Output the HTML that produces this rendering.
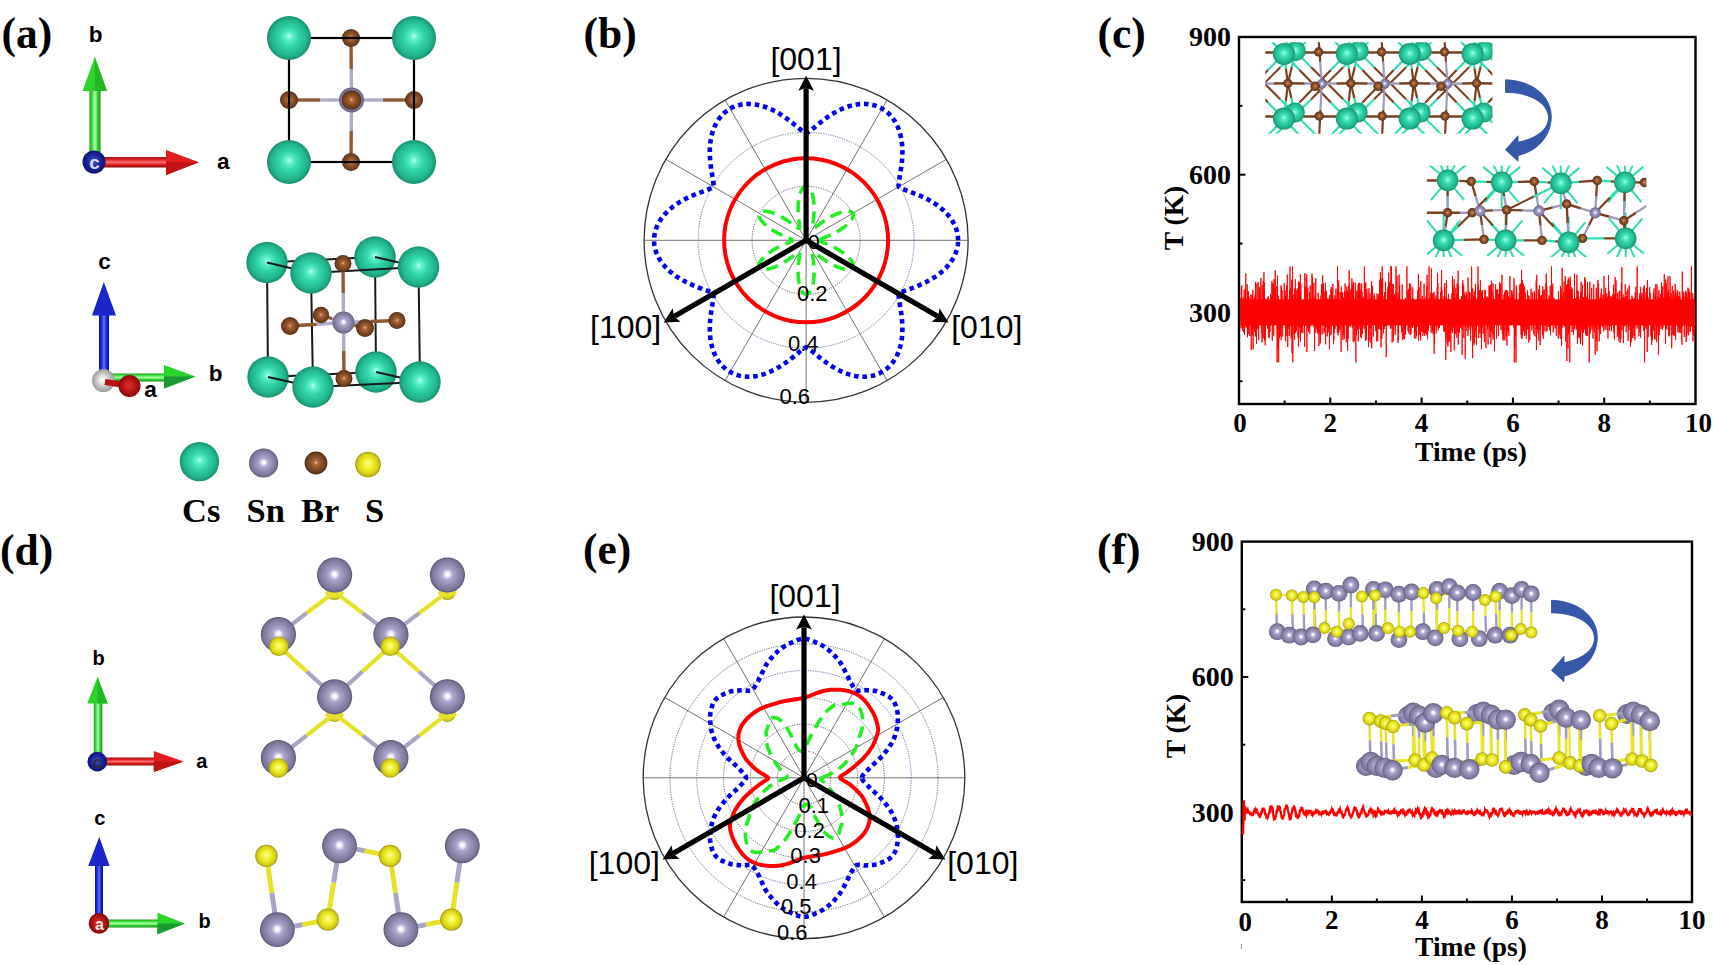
<!DOCTYPE html>
<html><head><meta charset="utf-8"><style>
html,body{margin:0;padding:0;background:#fff;width:1713px;height:965px;overflow:hidden}
svg{display:block}
</style></head><body>
<svg width="1713" height="965" viewBox="0 0 1713 965">
<defs><radialGradient id="gCs" cx="0.5" cy="0.5" r="0.5" fx="0.5" fy="0.46"><stop offset="0" stop-color="#c0fff2"/><stop offset="0.15" stop-color="#62f2cf"/><stop offset="0.45" stop-color="#2fd5a8"/><stop offset="0.8" stop-color="#22b68e"/><stop offset="1" stop-color="#179070"/></radialGradient>
<radialGradient id="gSn" cx="0.5" cy="0.5" r="0.5" fx="0.5" fy="0.48"><stop offset="0" stop-color="#ffffff"/><stop offset="0.12" stop-color="#f4f2ff"/><stop offset="0.3" stop-color="#aea8d0"/><stop offset="0.6" stop-color="#928cb4"/><stop offset="0.88" stop-color="#7a7498"/><stop offset="1" stop-color="#5a5474"/></radialGradient>
<radialGradient id="gBr" cx="0.5" cy="0.5" r="0.5" fx="0.5" fy="0.48"><stop offset="0" stop-color="#ffcaa8"/><stop offset="0.15" stop-color="#b8703c"/><stop offset="0.5" stop-color="#8c5028"/><stop offset="0.85" stop-color="#6e3c1c"/><stop offset="1" stop-color="#4a2810"/></radialGradient>
<radialGradient id="gS" cx="0.5" cy="0.5" r="0.5" fx="0.5" fy="0.46"><stop offset="0" stop-color="#ffffd8"/><stop offset="0.18" stop-color="#fafa58"/><stop offset="0.55" stop-color="#eae622"/><stop offset="0.85" stop-color="#cec616"/><stop offset="1" stop-color="#9a9208"/></radialGradient>
<radialGradient id="gBlueBall" cx="0.5" cy="0.5" r="0.5" fx="0.45" fy="0.45"><stop offset="0" stop-color="#4050d0"/><stop offset="0.6" stop-color="#1a2499"/><stop offset="1" stop-color="#0c1470"/></radialGradient>
<radialGradient id="gRedBall" cx="0.5" cy="0.5" r="0.5" fx="0.45" fy="0.45"><stop offset="0" stop-color="#e03030"/><stop offset="0.6" stop-color="#b81414"/><stop offset="1" stop-color="#800808"/></radialGradient>
<radialGradient id="gGrayBall" cx="0.5" cy="0.5" r="0.5" fx="0.45" fy="0.45"><stop offset="0" stop-color="#ffffff"/><stop offset="0.4" stop-color="#dcdcdc"/><stop offset="1" stop-color="#9a9a9a"/></radialGradient>
<linearGradient id="shGv" x1="0" y1="0" x2="1" y2="0"><stop offset="0" stop-color="#18a018"/><stop offset="0.25" stop-color="#40e040"/><stop offset="0.5" stop-color="#a8ffa8"/><stop offset="0.75" stop-color="#30d030"/><stop offset="1" stop-color="#129012"/></linearGradient>
<linearGradient id="shGh" x1="0" y1="0" x2="0" y2="1"><stop offset="0" stop-color="#18a018"/><stop offset="0.25" stop-color="#40e040"/><stop offset="0.5" stop-color="#a8ffa8"/><stop offset="0.75" stop-color="#30d030"/><stop offset="1" stop-color="#129012"/></linearGradient>
<linearGradient id="shRh" x1="0" y1="0" x2="0" y2="1"><stop offset="0" stop-color="#a01010"/><stop offset="0.25" stop-color="#e02020"/><stop offset="0.5" stop-color="#ff7070"/><stop offset="0.75" stop-color="#d81818"/><stop offset="1" stop-color="#900c0c"/></linearGradient>
<linearGradient id="shBv" x1="0" y1="0" x2="1" y2="0"><stop offset="0" stop-color="#0c1490"/><stop offset="0.25" stop-color="#1c2cd8"/><stop offset="0.5" stop-color="#6070ff"/><stop offset="0.75" stop-color="#1a28d0"/><stop offset="1" stop-color="#0a1288"/></linearGradient>
<clipPath id="ci1"><rect x="1265.3" y="42.2" width="227.1" height="91.5"/></clipPath>
<clipPath id="ci2"><rect x="1426.9" y="165.6" width="219.5" height="91.4"/></clipPath></defs>
<rect width="1713" height="965" fill="#fff"/>
<text x="1.5" y="47.5" font-family="'Liberation Serif', serif" font-size="43.5" font-weight="bold" text-anchor="start" fill="#000" >(a)</text>
<text x="583.5" y="47.5" font-family="'Liberation Serif', serif" font-size="43.5" font-weight="bold" text-anchor="start" fill="#000" >(b)</text>
<text x="1097.5" y="47.5" font-family="'Liberation Serif', serif" font-size="43.5" font-weight="bold" text-anchor="start" fill="#000" >(c)</text>
<text x="0" y="564.5" font-family="'Liberation Serif', serif" font-size="43.5" font-weight="bold" text-anchor="start" fill="#000" >(d)</text>
<text x="583" y="564" font-family="'Liberation Serif', serif" font-size="43.5" font-weight="bold" text-anchor="start" fill="#000" >(e)</text>
<text x="1097" y="563.5" font-family="'Liberation Serif', serif" font-size="43.5" font-weight="bold" text-anchor="start" fill="#000" >(f)</text>
<rect x="89.5" y="90" width="11" height="66" fill="url(#shGv)"/>
<polygon points="94.8,57 82.5,91 107,91" fill="#2ad42a" />
<polygon points="94.8,57 94.8,91 107,91" fill="#1fb81f" />
<rect x="104" y="157" width="63" height="10.5" fill="url(#shRh)"/>
<polygon points="199,162.3 166,150 166,175" fill="#e01c1c" />
<polygon points="199,162.3 166,162.3 166,175" fill="#c01212" />
<circle cx="94" cy="162" r="11.5" fill="url(#gBlueBall)"/>
<text x="94.5" y="169" font-family="'Liberation Sans', sans-serif" font-size="19" font-weight="bold" text-anchor="middle" fill="#d8d8e8" >c</text>
<text x="95.5" y="41.5" font-family="'Liberation Sans', sans-serif" font-size="22.5" font-weight="bold" text-anchor="middle" fill="#000" >b</text>
<text x="223.2" y="169.3" font-family="'Liberation Sans', sans-serif" font-size="22.5" font-weight="bold" text-anchor="middle" fill="#000" >a</text>
<rect x="99" y="312" width="10" height="60" fill="url(#shBv)"/>
<polygon points="103.8,282 92,315.5 116,315.5" fill="#1a26cc" />
<rect x="112" y="373.5" width="54" height="8" fill="url(#shGh)"/>
<polygon points="195.5,376.5 164,365 164,388.5" fill="#2ad42a" />
<polygon points="195.5,376.5 164,376.5 164,388.5" fill="#1a9a30" />
<circle cx="103.5" cy="380.6" r="11.5" fill="url(#gGrayBall)"/>
<line x1="105" y1="382" x2="125" y2="385" stroke="#b81010" stroke-width="6" />
<circle cx="129.5" cy="386" r="11" fill="url(#gRedBall)"/>
<text x="104.5" y="269.3" font-family="'Liberation Sans', sans-serif" font-size="22.5" font-weight="bold" text-anchor="middle" fill="#000" >c</text>
<text x="215.5" y="381" font-family="'Liberation Sans', sans-serif" font-size="22.5" font-weight="bold" text-anchor="middle" fill="#000" >b</text>
<text x="150.5" y="397.3" font-family="'Liberation Sans', sans-serif" font-size="22.5" font-weight="bold" text-anchor="middle" fill="#000" >a</text>
<line x1="351" y1="38" x2="351.25" y2="69" stroke="#8e5a34" stroke-width="3.4"/>
<line x1="351.25" y1="69" x2="351.5" y2="100" stroke="#b0acc8" stroke-width="3.4"/>
<line x1="351" y1="162" x2="351.25" y2="131" stroke="#8e5a34" stroke-width="3.4"/>
<line x1="351.25" y1="131" x2="351.5" y2="100" stroke="#b0acc8" stroke-width="3.4"/>
<line x1="289" y1="100" x2="320.25" y2="100" stroke="#8e5a34" stroke-width="3.4"/>
<line x1="320.25" y1="100" x2="351.5" y2="100" stroke="#b0acc8" stroke-width="3.4"/>
<line x1="414" y1="100" x2="382.75" y2="100" stroke="#8e5a34" stroke-width="3.4"/>
<line x1="382.75" y1="100" x2="351.5" y2="100" stroke="#b0acc8" stroke-width="3.4"/>
<circle cx="351" cy="38" r="9" fill="url(#gBr)"/>
<circle cx="351" cy="162" r="9" fill="url(#gBr)"/>
<circle cx="289" cy="100" r="9" fill="url(#gBr)"/>
<circle cx="414" cy="100" r="9" fill="url(#gBr)"/>
<circle cx="351.5" cy="100" r="12.5" fill="url(#gSn)"/>
<circle cx="351.5" cy="100" r="9.8" fill="url(#gBr)"/>
<rect x="289" y="38" width="125" height="124" fill="none" stroke="#000" stroke-width="2.2"/>
<circle cx="289" cy="38" r="22" fill="url(#gCs)"/>
<circle cx="414" cy="38" r="22" fill="url(#gCs)"/>
<circle cx="289" cy="162" r="22" fill="url(#gCs)"/>
<circle cx="414" cy="162" r="22" fill="url(#gCs)"/>
<line x1="267" y1="262.5" x2="268" y2="377" stroke="#1a1a1a" stroke-width="2" />
<line x1="375" y1="257" x2="376" y2="372" stroke="#1a1a1a" stroke-width="2" />
<line x1="267" y1="262.5" x2="375" y2="257" stroke="#1a1a1a" stroke-width="2" />
<line x1="268" y1="377" x2="376" y2="372" stroke="#1a1a1a" stroke-width="2" />
<circle cx="267" cy="262.5" r="20.7" fill="url(#gCs)"/>
<circle cx="375" cy="257" r="20.7" fill="url(#gCs)"/>
<circle cx="268" cy="377" r="20.7" fill="url(#gCs)"/>
<circle cx="376" cy="372" r="20.7" fill="url(#gCs)"/>
<line x1="311" y1="273" x2="313" y2="387" stroke="#1a1a1a" stroke-width="2" />
<line x1="418.5" y1="267" x2="420" y2="382" stroke="#1a1a1a" stroke-width="2" />
<line x1="311" y1="273" x2="418.5" y2="267" stroke="#1a1a1a" stroke-width="2" />
<line x1="313" y1="387" x2="420" y2="382" stroke="#1a1a1a" stroke-width="2" />
<line x1="267" y1="262.5" x2="311" y2="273" stroke="#1a1a1a" stroke-width="2" />
<line x1="375" y1="257" x2="418.5" y2="267" stroke="#1a1a1a" stroke-width="2" />
<line x1="268" y1="377" x2="313" y2="387" stroke="#1a1a1a" stroke-width="2" />
<line x1="376" y1="372" x2="420" y2="382" stroke="#1a1a1a" stroke-width="2" />
<line x1="343" y1="263.5" x2="343.25" y2="293" stroke="#8e5a34" stroke-width="3.4"/>
<line x1="343.25" y1="293" x2="343.5" y2="322.5" stroke="#b0acc8" stroke-width="3.4"/>
<line x1="344" y1="378.5" x2="343.75" y2="350.5" stroke="#8e5a34" stroke-width="3.4"/>
<line x1="343.75" y1="350.5" x2="343.5" y2="322.5" stroke="#b0acc8" stroke-width="3.4"/>
<line x1="290" y1="326" x2="316.75" y2="324.25" stroke="#8e5a34" stroke-width="3.4"/>
<line x1="316.75" y1="324.25" x2="343.5" y2="322.5" stroke="#b0acc8" stroke-width="3.4"/>
<line x1="397" y1="320.5" x2="370.25" y2="321.5" stroke="#8e5a34" stroke-width="3.4"/>
<line x1="370.25" y1="321.5" x2="343.5" y2="322.5" stroke="#b0acc8" stroke-width="3.4"/>
<line x1="321" y1="315" x2="332.25" y2="318.75" stroke="#8e5a34" stroke-width="3.4"/>
<line x1="332.25" y1="318.75" x2="343.5" y2="322.5" stroke="#b0acc8" stroke-width="3.4"/>
<line x1="365" y1="328" x2="354.25" y2="325.25" stroke="#8e5a34" stroke-width="3.4"/>
<line x1="354.25" y1="325.25" x2="343.5" y2="322.5" stroke="#b0acc8" stroke-width="3.4"/>
<circle cx="343" cy="263.5" r="8.5" fill="url(#gBr)"/>
<circle cx="344" cy="378.5" r="8.5" fill="url(#gBr)"/>
<circle cx="321" cy="315" r="8.2" fill="url(#gBr)"/>
<circle cx="397" cy="320.5" r="8.5" fill="url(#gBr)"/>
<circle cx="343.5" cy="322.5" r="11" fill="url(#gSn)"/>
<circle cx="290" cy="326" r="9" fill="url(#gBr)"/>
<circle cx="365" cy="328" r="9" fill="url(#gBr)"/>
<circle cx="311" cy="273" r="20.7" fill="url(#gCs)"/>
<circle cx="418.5" cy="267" r="20.7" fill="url(#gCs)"/>
<circle cx="313" cy="387" r="20.7" fill="url(#gCs)"/>
<circle cx="420" cy="382" r="20.7" fill="url(#gCs)"/>
<circle cx="199.4" cy="461.6" r="19.7" fill="url(#gCs)"/>
<circle cx="263.6" cy="463" r="14.6" fill="url(#gSn)"/>
<circle cx="316" cy="463" r="11.4" fill="url(#gBr)"/>
<circle cx="368" cy="464.5" r="12.8" fill="url(#gS)"/>
<text x="182" y="521.5" font-family="'Liberation Serif', serif" font-size="34.5" font-weight="bold" text-anchor="start" fill="#000" >Cs</text>
<text x="246.5" y="521.5" font-family="'Liberation Serif', serif" font-size="34.5" font-weight="bold" text-anchor="start" fill="#000" >Sn</text>
<text x="301" y="521.5" font-family="'Liberation Serif', serif" font-size="34.5" font-weight="bold" text-anchor="start" fill="#000" >Br</text>
<text x="365" y="521.5" font-family="'Liberation Serif', serif" font-size="34.5" font-weight="bold" text-anchor="start" fill="#000" >S</text>
<line x1="806.1" y1="240.3" x2="968.1" y2="240.3" stroke="#5a5a5a" stroke-width="0.85" />
<line x1="806.1" y1="240.3" x2="946.4" y2="159.3" stroke="#5a5a5a" stroke-width="0.85" />
<line x1="806.1" y1="240.3" x2="887.1" y2="100" stroke="#5a5a5a" stroke-width="0.85" />
<line x1="806.1" y1="240.3" x2="806.1" y2="78.3" stroke="#5a5a5a" stroke-width="0.85" />
<line x1="806.1" y1="240.3" x2="725.1" y2="100" stroke="#5a5a5a" stroke-width="0.85" />
<line x1="806.1" y1="240.3" x2="665.8" y2="159.3" stroke="#5a5a5a" stroke-width="0.85" />
<line x1="806.1" y1="240.3" x2="644.1" y2="240.3" stroke="#5a5a5a" stroke-width="0.85" />
<line x1="806.1" y1="240.3" x2="665.8" y2="321.3" stroke="#5a5a5a" stroke-width="0.85" />
<line x1="806.1" y1="240.3" x2="725.1" y2="380.6" stroke="#5a5a5a" stroke-width="0.85" />
<line x1="806.1" y1="240.3" x2="806.1" y2="402.3" stroke="#5a5a5a" stroke-width="0.85" />
<line x1="806.1" y1="240.3" x2="887.1" y2="380.6" stroke="#5a5a5a" stroke-width="0.85" />
<line x1="806.1" y1="240.3" x2="946.4" y2="321.3" stroke="#5a5a5a" stroke-width="0.85" />
<circle cx="806.1" cy="240.3" r="54" fill="none" stroke="#555" stroke-width="0.9" stroke-dasharray="1.2 1.2"/>
<circle cx="806.1" cy="240.3" r="108" fill="none" stroke="#5a5aa8" stroke-width="0.9" stroke-dasharray="1.2 1.2"/>
<circle cx="806.1" cy="240.3" r="162" fill="none" stroke="#333" stroke-width="1.3"/>
<path d="M958.1,240.3 L958.07,238.97 L958,237.65 L957.87,236.33 L957.69,235.01 L957.46,233.69 L957.17,232.38 L956.84,231.08 L956.46,229.79 L956.03,228.5 L955.55,227.23 L955.02,225.96 L954.44,224.71 L953.82,223.47 L953.15,222.24 L952.44,221.03 L951.68,219.84 L950.88,218.66 L950.04,217.5 L949.15,216.36 L948.23,215.24 L947.27,214.14 L946.28,213.05 L945.24,211.99 L944.18,210.95 L943.08,209.93 L941.95,208.94 L940.79,207.96 L939.6,207.01 L938.39,206.09 L937.15,205.18 L935.89,204.3 L934.61,203.45 L933.31,202.62 L931.99,201.81 L930.66,201.03 L929.31,200.27 L927.95,199.53 L926.58,198.81 L925.2,198.12 L923.82,197.45 L922.43,196.8 L921.04,196.18 L919.65,195.57 L918.27,194.98 L916.88,194.41 L915.51,193.86 L914.14,193.32 L912.78,192.8 L911.44,192.29 L910.11,191.8 L908.8,191.31 L907.52,190.83 L906.26,190.36 L905.03,189.89 L903.84,189.42 L902.68,188.94 L901.58,188.46 L900.53,187.95 L899.57,187.42 L898.76,186.8 L898.63,185.79 L898.65,184.69 L898.74,183.53 L898.87,182.33 L899.03,181.1 L899.22,179.83 L899.43,178.53 L899.65,177.2 L899.88,175.85 L900.11,174.47 L900.34,173.08 L900.57,171.66 L900.8,170.22 L901.02,168.77 L901.23,167.3 L901.43,165.82 L901.61,164.33 L901.78,162.82 L901.93,161.3 L902.07,159.77 L902.18,158.24 L902.27,156.7 L902.33,155.16 L902.38,153.61 L902.39,152.06 L902.38,150.52 L902.34,148.97 L902.27,147.43 L902.17,145.89 L902.04,144.36 L901.88,142.84 L901.68,141.32 L901.45,139.82 L901.19,138.33 L900.89,136.86 L900.56,135.4 L900.19,133.95 L899.79,132.53 L899.35,131.12 L898.87,129.74 L898.36,128.38 L897.81,127.05 L897.23,125.74 L896.61,124.46 L895.95,123.2 L895.26,121.98 L894.53,120.79 L893.77,119.63 L892.98,118.5 L892.15,117.41 L891.28,116.36 L890.38,115.34 L889.46,114.36 L888.49,113.42 L887.5,112.53 L886.48,111.67 L885.43,110.85 L884.34,110.08 L883.24,109.35 L882.1,108.66 L880.94,108.02 L879.75,107.43 L878.54,106.88 L877.31,106.37 L876.05,105.92 L874.78,105.51 L873.49,105.14 L872.17,104.83 L870.84,104.56 L869.5,104.34 L868.14,104.16 L866.77,104.04 L865.38,103.96 L863.99,103.92 L862.58,103.94 L861.17,104 L859.75,104.1 L858.33,104.25 L856.9,104.44 L855.46,104.68 L854.03,104.96 L852.59,105.28 L851.16,105.64 L849.72,106.05 L848.29,106.49 L846.86,106.97 L845.44,107.49 L844.03,108.04 L842.62,108.63 L841.22,109.25 L839.82,109.9 L838.44,110.58 L837.07,111.29 L835.71,112.03 L834.37,112.79 L833.04,113.58 L831.72,114.39 L830.41,115.22 L829.13,116.06 L827.85,116.93 L826.6,117.81 L825.36,118.7 L824.14,119.6 L822.94,120.5 L821.75,121.42 L820.58,122.33 L819.44,123.25 L818.31,124.16 L817.2,125.07 L816.1,125.97 L815.03,126.86 L813.97,127.73 L812.93,128.59 L811.91,129.42 L810.91,130.22 L809.92,130.98 L808.94,131.69 L807.98,132.34 L807.04,132.91 L806.1,133.3 L805.16,132.91 L804.22,132.34 L803.26,131.69 L802.28,130.98 L801.29,130.22 L800.29,129.42 L799.27,128.59 L798.23,127.73 L797.17,126.86 L796.1,125.97 L795,125.07 L793.89,124.16 L792.76,123.25 L791.62,122.33 L790.45,121.42 L789.26,120.5 L788.06,119.6 L786.84,118.7 L785.6,117.81 L784.35,116.93 L783.07,116.06 L781.79,115.22 L780.48,114.39 L779.16,113.58 L777.83,112.79 L776.49,112.03 L775.13,111.29 L773.76,110.58 L772.38,109.9 L770.98,109.25 L769.58,108.63 L768.17,108.04 L766.76,107.49 L765.34,106.97 L763.91,106.49 L762.48,106.05 L761.04,105.64 L759.61,105.28 L758.17,104.96 L756.74,104.68 L755.3,104.44 L753.87,104.25 L752.45,104.1 L751.03,104 L749.62,103.94 L748.21,103.92 L746.82,103.96 L745.43,104.04 L744.06,104.16 L742.7,104.34 L741.36,104.56 L740.03,104.83 L738.71,105.14 L737.42,105.51 L736.15,105.92 L734.89,106.37 L733.66,106.88 L732.45,107.43 L731.26,108.02 L730.1,108.66 L728.96,109.35 L727.86,110.08 L726.77,110.85 L725.72,111.67 L724.7,112.53 L723.71,113.42 L722.74,114.36 L721.82,115.34 L720.92,116.36 L720.05,117.41 L719.22,118.5 L718.43,119.63 L717.67,120.79 L716.94,121.98 L716.25,123.2 L715.59,124.46 L714.97,125.74 L714.39,127.05 L713.84,128.38 L713.33,129.74 L712.85,131.12 L712.41,132.53 L712.01,133.95 L711.64,135.4 L711.31,136.86 L711.01,138.33 L710.75,139.82 L710.52,141.32 L710.32,142.84 L710.16,144.36 L710.03,145.89 L709.93,147.43 L709.86,148.97 L709.82,150.52 L709.81,152.06 L709.82,153.61 L709.87,155.16 L709.93,156.7 L710.02,158.24 L710.13,159.77 L710.27,161.3 L710.42,162.82 L710.59,164.33 L710.77,165.82 L710.97,167.3 L711.18,168.77 L711.4,170.22 L711.63,171.66 L711.86,173.08 L712.09,174.47 L712.32,175.85 L712.55,177.2 L712.77,178.53 L712.98,179.83 L713.17,181.1 L713.33,182.33 L713.46,183.53 L713.55,184.69 L713.57,185.79 L713.44,186.8 L712.63,187.42 L711.67,187.95 L710.62,188.46 L709.52,188.94 L708.36,189.42 L707.17,189.89 L705.94,190.36 L704.68,190.83 L703.4,191.31 L702.09,191.8 L700.76,192.29 L699.42,192.8 L698.06,193.32 L696.69,193.86 L695.32,194.41 L693.93,194.98 L692.55,195.57 L691.16,196.18 L689.77,196.8 L688.38,197.45 L687,198.12 L685.62,198.81 L684.25,199.53 L682.89,200.27 L681.54,201.03 L680.21,201.81 L678.89,202.62 L677.59,203.45 L676.31,204.3 L675.05,205.18 L673.81,206.09 L672.6,207.01 L671.41,207.96 L670.25,208.94 L669.12,209.93 L668.02,210.95 L666.96,211.99 L665.92,213.05 L664.93,214.14 L663.97,215.24 L663.05,216.36 L662.16,217.5 L661.32,218.66 L660.52,219.84 L659.76,221.03 L659.05,222.24 L658.38,223.47 L657.76,224.71 L657.18,225.96 L656.65,227.23 L656.17,228.5 L655.74,229.79 L655.36,231.08 L655.03,232.38 L654.74,233.69 L654.51,235.01 L654.33,236.33 L654.2,237.65 L654.13,238.97 L654.1,240.3 L654.13,241.63 L654.2,242.95 L654.33,244.27 L654.51,245.59 L654.74,246.91 L655.03,248.22 L655.36,249.52 L655.74,250.81 L656.17,252.1 L656.65,253.37 L657.18,254.64 L657.76,255.89 L658.38,257.13 L659.05,258.36 L659.76,259.57 L660.52,260.76 L661.32,261.94 L662.16,263.1 L663.05,264.24 L663.97,265.36 L664.93,266.46 L665.92,267.55 L666.96,268.61 L668.02,269.65 L669.12,270.67 L670.25,271.66 L671.41,272.64 L672.6,273.59 L673.81,274.51 L675.05,275.42 L676.31,276.3 L677.59,277.15 L678.89,277.98 L680.21,278.79 L681.54,279.57 L682.89,280.33 L684.25,281.07 L685.62,281.79 L687,282.48 L688.38,283.15 L689.77,283.8 L691.16,284.42 L692.55,285.03 L693.93,285.62 L695.32,286.19 L696.69,286.74 L698.06,287.28 L699.42,287.8 L700.76,288.31 L702.09,288.8 L703.4,289.29 L704.68,289.77 L705.94,290.24 L707.17,290.71 L708.36,291.18 L709.52,291.66 L710.62,292.14 L711.67,292.65 L712.63,293.18 L713.44,293.8 L713.57,294.81 L713.55,295.91 L713.46,297.07 L713.33,298.27 L713.17,299.5 L712.98,300.77 L712.77,302.07 L712.55,303.4 L712.32,304.75 L712.09,306.13 L711.86,307.52 L711.63,308.94 L711.4,310.38 L711.18,311.83 L710.97,313.3 L710.77,314.78 L710.59,316.27 L710.42,317.78 L710.27,319.3 L710.13,320.83 L710.02,322.36 L709.93,323.9 L709.87,325.44 L709.82,326.99 L709.81,328.54 L709.82,330.08 L709.86,331.63 L709.93,333.17 L710.03,334.71 L710.16,336.24 L710.32,337.76 L710.52,339.28 L710.75,340.78 L711.01,342.27 L711.31,343.74 L711.64,345.2 L712.01,346.65 L712.41,348.07 L712.85,349.48 L713.33,350.86 L713.84,352.22 L714.39,353.55 L714.97,354.86 L715.59,356.14 L716.25,357.4 L716.94,358.62 L717.67,359.81 L718.43,360.97 L719.22,362.1 L720.05,363.19 L720.92,364.24 L721.82,365.26 L722.74,366.24 L723.71,367.18 L724.7,368.07 L725.72,368.93 L726.77,369.75 L727.86,370.52 L728.96,371.25 L730.1,371.94 L731.26,372.58 L732.45,373.17 L733.66,373.72 L734.89,374.23 L736.15,374.68 L737.42,375.09 L738.71,375.46 L740.03,375.77 L741.36,376.04 L742.7,376.26 L744.06,376.44 L745.43,376.56 L746.82,376.64 L748.21,376.68 L749.62,376.66 L751.03,376.6 L752.45,376.5 L753.87,376.35 L755.3,376.16 L756.74,375.92 L758.17,375.64 L759.61,375.32 L761.04,374.96 L762.48,374.55 L763.91,374.11 L765.34,373.63 L766.76,373.11 L768.17,372.56 L769.58,371.97 L770.98,371.35 L772.38,370.7 L773.76,370.02 L775.13,369.31 L776.49,368.57 L777.83,367.81 L779.16,367.02 L780.48,366.21 L781.79,365.38 L783.07,364.54 L784.35,363.67 L785.6,362.79 L786.84,361.9 L788.06,361 L789.26,360.1 L790.45,359.18 L791.62,358.27 L792.76,357.35 L793.89,356.44 L795,355.53 L796.1,354.63 L797.17,353.74 L798.23,352.87 L799.27,352.01 L800.29,351.18 L801.29,350.38 L802.28,349.62 L803.26,348.91 L804.22,348.26 L805.16,347.69 L806.1,347.3 L807.04,347.69 L807.98,348.26 L808.94,348.91 L809.92,349.62 L810.91,350.38 L811.91,351.18 L812.93,352.01 L813.97,352.87 L815.03,353.74 L816.1,354.63 L817.2,355.53 L818.31,356.44 L819.44,357.35 L820.58,358.27 L821.75,359.18 L822.94,360.1 L824.14,361 L825.36,361.9 L826.6,362.79 L827.85,363.67 L829.13,364.54 L830.41,365.38 L831.72,366.21 L833.04,367.02 L834.37,367.81 L835.71,368.57 L837.07,369.31 L838.44,370.02 L839.82,370.7 L841.22,371.35 L842.62,371.97 L844.03,372.56 L845.44,373.11 L846.86,373.63 L848.29,374.11 L849.72,374.55 L851.16,374.96 L852.59,375.32 L854.03,375.64 L855.46,375.92 L856.9,376.16 L858.33,376.35 L859.75,376.5 L861.17,376.6 L862.58,376.66 L863.99,376.68 L865.38,376.64 L866.77,376.56 L868.14,376.44 L869.5,376.26 L870.84,376.04 L872.17,375.77 L873.49,375.46 L874.78,375.09 L876.05,374.68 L877.31,374.23 L878.54,373.72 L879.75,373.17 L880.94,372.58 L882.1,371.94 L883.24,371.25 L884.34,370.52 L885.43,369.75 L886.48,368.93 L887.5,368.07 L888.49,367.18 L889.46,366.24 L890.38,365.26 L891.28,364.24 L892.15,363.19 L892.98,362.1 L893.77,360.97 L894.53,359.81 L895.26,358.62 L895.95,357.4 L896.61,356.14 L897.23,354.86 L897.81,353.55 L898.36,352.22 L898.87,350.86 L899.35,349.48 L899.79,348.07 L900.19,346.65 L900.56,345.2 L900.89,343.74 L901.19,342.27 L901.45,340.78 L901.68,339.28 L901.88,337.76 L902.04,336.24 L902.17,334.71 L902.27,333.17 L902.34,331.63 L902.38,330.08 L902.39,328.54 L902.38,326.99 L902.33,325.44 L902.27,323.9 L902.18,322.36 L902.07,320.83 L901.93,319.3 L901.78,317.78 L901.61,316.27 L901.43,314.78 L901.23,313.3 L901.02,311.83 L900.8,310.38 L900.57,308.94 L900.34,307.52 L900.11,306.13 L899.88,304.75 L899.65,303.4 L899.43,302.07 L899.22,300.77 L899.03,299.5 L898.87,298.27 L898.74,297.07 L898.65,295.91 L898.63,294.81 L898.76,293.8 L899.57,293.18 L900.53,292.65 L901.58,292.14 L902.68,291.66 L903.84,291.18 L905.03,290.71 L906.26,290.24 L907.52,289.77 L908.8,289.29 L910.11,288.8 L911.44,288.31 L912.78,287.8 L914.14,287.28 L915.51,286.74 L916.88,286.19 L918.27,285.62 L919.65,285.03 L921.04,284.42 L922.43,283.8 L923.82,283.15 L925.2,282.48 L926.58,281.79 L927.95,281.07 L929.31,280.33 L930.66,279.57 L931.99,278.79 L933.31,277.98 L934.61,277.15 L935.89,276.3 L937.15,275.42 L938.39,274.51 L939.6,273.59 L940.79,272.64 L941.95,271.66 L943.08,270.67 L944.18,269.65 L945.24,268.61 L946.28,267.55 L947.27,266.46 L948.23,265.36 L949.15,264.24 L950.04,263.1 L950.88,261.94 L951.68,260.76 L952.44,259.57 L953.15,258.36 L953.82,257.13 L954.44,255.89 L955.02,254.64 L955.55,253.37 L956.03,252.1 L956.46,250.81 L956.84,249.52 L957.17,248.22 L957.46,246.91 L957.69,245.59 L957.87,244.27 L958,242.95 L958.07,241.63 L958.1,240.3Z" fill="none" stroke="#0000e6" stroke-width="4.6" stroke-dasharray="4.6 3.8"/>
<circle cx="806.1" cy="240.3" r="82" fill="none" stroke="#ff0000" stroke-width="4"/>
<path d="M820.1,240.3 L820.1,240.18 L820.12,240.06 L820.16,239.93 L820.23,239.81 L820.33,239.68 L820.47,239.55 L820.64,239.41 L820.85,239.27 L821.11,239.12 L821.4,238.96 L821.75,238.79 L822.13,238.61 L822.57,238.42 L823.05,238.22 L823.57,238 L824.14,237.76 L824.76,237.51 L825.41,237.24 L826.11,236.95 L826.85,236.64 L827.63,236.31 L828.44,235.96 L829.28,235.58 L830.16,235.19 L831.06,234.77 L831.99,234.32 L832.93,233.86 L833.9,233.37 L834.88,232.86 L835.87,232.32 L836.86,231.77 L837.86,231.19 L838.86,230.6 L839.85,229.98 L840.84,229.35 L841.81,228.7 L842.76,228.03 L843.7,227.35 L844.61,226.66 L845.49,225.96 L846.34,225.25 L847.15,224.54 L847.93,223.82 L848.66,223.1 L849.35,222.38 L849.99,221.67 L850.59,220.96 L851.12,220.25 L851.61,219.56 L852.03,218.88 L852.4,218.22 L852.7,217.57 L852.95,216.94 L853.13,216.34 L853.24,215.76 L853.3,215.2 L853.29,214.68 L853.21,214.19 L853.07,213.73 L852.87,213.3 L852.6,212.91 L852.27,212.56 L851.88,212.25 L851.43,211.97 L850.93,211.74 L850.37,211.55 L849.75,211.41 L849.09,211.31 L848.37,211.25 L847.61,211.23 L846.81,211.26 L845.97,211.33 L845.09,211.45 L844.18,211.6 L843.24,211.8 L842.28,212.04 L841.28,212.31 L840.28,212.63 L839.25,212.97 L838.21,213.36 L837.16,213.77 L836.11,214.21 L835.06,214.68 L834,215.18 L832.96,215.69 L831.91,216.23 L830.88,216.78 L829.87,217.35 L828.87,217.92 L827.89,218.51 L826.93,219.1 L826,219.69 L825.1,220.28 L824.22,220.87 L823.37,221.45 L822.56,222.02 L821.78,222.58 L821.03,223.13 L820.32,223.65 L819.64,224.16 L819.01,224.64 L818.41,225.1 L817.84,225.54 L817.32,225.94 L816.83,226.32 L816.38,226.66 L815.96,226.98 L815.58,227.26 L815.23,227.5 L814.91,227.72 L814.63,227.89 L814.37,228.04 L814.14,228.15 L813.94,228.23 L813.75,228.28 L813.59,228.31 L813.45,228.3 L813.32,228.28 L813.21,228.23 L813.1,228.18 L813,228.11 L812.9,228.03 L812.81,227.94 L812.74,227.81 L812.68,227.66 L812.63,227.48 L812.6,227.26 L812.58,227.01 L812.58,226.71 L812.59,226.38 L812.62,226 L812.66,225.57 L812.71,225.1 L812.77,224.58 L812.84,224.02 L812.93,223.41 L813.01,222.75 L813.11,222.04 L813.21,221.29 L813.31,220.5 L813.41,219.66 L813.51,218.78 L813.61,217.86 L813.7,216.91 L813.79,215.92 L813.87,214.89 L813.94,213.84 L814,212.76 L814.04,211.66 L814.08,210.53 L814.09,209.39 L814.09,208.24 L814.08,207.08 L814.04,205.91 L813.98,204.74 L813.91,203.57 L813.81,202.41 L813.69,201.27 L813.54,200.13 L813.38,199.02 L813.19,197.93 L812.98,196.87 L812.75,195.84 L812.49,194.84 L812.21,193.88 L811.91,192.97 L811.59,192.1 L811.25,191.29 L810.89,190.52 L810.52,189.81 L810.12,189.16 L809.72,188.58 L809.3,188.05 L808.86,187.59 L808.42,187.2 L807.97,186.88 L807.51,186.63 L807.04,186.45 L806.57,186.34 L806.1,186.3 L805.63,186.34 L805.16,186.45 L804.69,186.63 L804.23,186.88 L803.78,187.2 L803.34,187.59 L802.9,188.05 L802.48,188.58 L802.08,189.16 L801.68,189.81 L801.31,190.52 L800.95,191.29 L800.61,192.1 L800.29,192.97 L799.99,193.88 L799.71,194.84 L799.45,195.84 L799.22,196.87 L799.01,197.93 L798.82,199.02 L798.66,200.13 L798.51,201.27 L798.39,202.41 L798.29,203.57 L798.22,204.74 L798.16,205.91 L798.12,207.08 L798.11,208.24 L798.11,209.39 L798.12,210.53 L798.16,211.66 L798.2,212.76 L798.26,213.84 L798.33,214.89 L798.41,215.92 L798.5,216.91 L798.59,217.86 L798.69,218.78 L798.79,219.66 L798.89,220.5 L798.99,221.29 L799.09,222.04 L799.19,222.75 L799.27,223.41 L799.36,224.02 L799.43,224.58 L799.49,225.1 L799.54,225.57 L799.58,226 L799.61,226.38 L799.62,226.71 L799.62,227.01 L799.6,227.26 L799.57,227.48 L799.52,227.66 L799.46,227.81 L799.39,227.94 L799.3,228.03 L799.2,228.11 L799.1,228.18 L798.99,228.23 L798.88,228.28 L798.75,228.3 L798.61,228.31 L798.45,228.28 L798.26,228.23 L798.06,228.15 L797.83,228.04 L797.57,227.89 L797.29,227.72 L796.97,227.5 L796.62,227.26 L796.24,226.98 L795.82,226.66 L795.37,226.32 L794.88,225.94 L794.36,225.54 L793.79,225.1 L793.19,224.64 L792.56,224.16 L791.88,223.65 L791.17,223.13 L790.42,222.58 L789.64,222.02 L788.83,221.45 L787.98,220.87 L787.1,220.28 L786.2,219.69 L785.27,219.1 L784.31,218.51 L783.33,217.92 L782.33,217.35 L781.32,216.78 L780.29,216.23 L779.24,215.69 L778.2,215.18 L777.14,214.68 L776.09,214.21 L775.04,213.77 L773.99,213.36 L772.95,212.97 L771.92,212.63 L770.92,212.31 L769.92,212.04 L768.96,211.8 L768.02,211.6 L767.11,211.45 L766.23,211.33 L765.39,211.26 L764.59,211.23 L763.83,211.25 L763.11,211.31 L762.45,211.41 L761.83,211.55 L761.27,211.74 L760.77,211.97 L760.32,212.25 L759.93,212.56 L759.6,212.91 L759.33,213.3 L759.13,213.73 L758.99,214.19 L758.91,214.68 L758.9,215.2 L758.96,215.76 L759.07,216.34 L759.25,216.94 L759.5,217.57 L759.8,218.22 L760.17,218.88 L760.59,219.56 L761.08,220.25 L761.61,220.96 L762.21,221.67 L762.85,222.38 L763.54,223.1 L764.27,223.82 L765.05,224.54 L765.86,225.25 L766.71,225.96 L767.59,226.66 L768.5,227.35 L769.44,228.03 L770.39,228.7 L771.36,229.35 L772.35,229.98 L773.34,230.6 L774.34,231.19 L775.34,231.77 L776.33,232.32 L777.32,232.86 L778.3,233.37 L779.27,233.86 L780.21,234.32 L781.14,234.77 L782.04,235.19 L782.92,235.58 L783.76,235.96 L784.57,236.31 L785.35,236.64 L786.09,236.95 L786.79,237.24 L787.44,237.51 L788.06,237.76 L788.63,238 L789.15,238.22 L789.63,238.42 L790.07,238.61 L790.45,238.79 L790.8,238.96 L791.09,239.12 L791.35,239.27 L791.56,239.41 L791.73,239.55 L791.87,239.68 L791.97,239.81 L792.04,239.93 L792.08,240.06 L792.1,240.18 L792.1,240.3 L792.1,240.42 L792.08,240.54 L792.04,240.67 L791.97,240.79 L791.87,240.92 L791.73,241.05 L791.56,241.19 L791.35,241.33 L791.09,241.48 L790.8,241.64 L790.45,241.81 L790.07,241.99 L789.63,242.18 L789.15,242.38 L788.63,242.6 L788.06,242.84 L787.44,243.09 L786.79,243.36 L786.09,243.65 L785.35,243.96 L784.57,244.29 L783.76,244.64 L782.92,245.02 L782.04,245.41 L781.14,245.83 L780.21,246.28 L779.27,246.74 L778.3,247.23 L777.32,247.74 L776.33,248.28 L775.34,248.83 L774.34,249.41 L773.34,250 L772.35,250.62 L771.36,251.25 L770.39,251.9 L769.44,252.57 L768.5,253.25 L767.59,253.94 L766.71,254.64 L765.86,255.35 L765.05,256.06 L764.27,256.78 L763.54,257.5 L762.85,258.22 L762.21,258.93 L761.61,259.64 L761.08,260.35 L760.59,261.04 L760.17,261.72 L759.8,262.38 L759.5,263.03 L759.25,263.66 L759.07,264.26 L758.96,264.84 L758.9,265.4 L758.91,265.92 L758.99,266.41 L759.13,266.87 L759.33,267.3 L759.6,267.69 L759.93,268.04 L760.32,268.35 L760.77,268.63 L761.27,268.86 L761.83,269.05 L762.45,269.19 L763.11,269.29 L763.83,269.35 L764.59,269.37 L765.39,269.34 L766.23,269.27 L767.11,269.15 L768.02,269 L768.96,268.8 L769.92,268.56 L770.92,268.29 L771.92,267.97 L772.95,267.63 L773.99,267.24 L775.04,266.83 L776.09,266.39 L777.14,265.92 L778.2,265.42 L779.24,264.91 L780.29,264.37 L781.32,263.82 L782.33,263.25 L783.33,262.68 L784.31,262.09 L785.27,261.5 L786.2,260.91 L787.1,260.32 L787.98,259.73 L788.83,259.15 L789.64,258.58 L790.42,258.02 L791.17,257.47 L791.88,256.95 L792.56,256.44 L793.19,255.96 L793.79,255.5 L794.36,255.06 L794.88,254.66 L795.37,254.28 L795.82,253.94 L796.24,253.62 L796.62,253.34 L796.97,253.1 L797.29,252.88 L797.57,252.71 L797.83,252.56 L798.06,252.45 L798.26,252.37 L798.45,252.32 L798.61,252.29 L798.75,252.3 L798.88,252.32 L798.99,252.37 L799.1,252.42 L799.2,252.49 L799.3,252.57 L799.39,252.66 L799.46,252.79 L799.52,252.94 L799.57,253.12 L799.6,253.34 L799.62,253.59 L799.62,253.89 L799.61,254.22 L799.58,254.6 L799.54,255.03 L799.49,255.5 L799.43,256.02 L799.36,256.58 L799.27,257.19 L799.19,257.85 L799.09,258.56 L798.99,259.31 L798.89,260.1 L798.79,260.94 L798.69,261.82 L798.59,262.74 L798.5,263.69 L798.41,264.68 L798.33,265.71 L798.26,266.76 L798.2,267.84 L798.16,268.94 L798.12,270.07 L798.11,271.21 L798.11,272.36 L798.12,273.52 L798.16,274.69 L798.22,275.86 L798.29,277.03 L798.39,278.19 L798.51,279.33 L798.66,280.47 L798.82,281.58 L799.01,282.67 L799.22,283.73 L799.45,284.76 L799.71,285.76 L799.99,286.72 L800.29,287.63 L800.61,288.5 L800.95,289.31 L801.31,290.08 L801.68,290.79 L802.08,291.44 L802.48,292.02 L802.9,292.55 L803.34,293.01 L803.78,293.4 L804.23,293.72 L804.69,293.97 L805.16,294.15 L805.63,294.26 L806.1,294.3 L806.57,294.26 L807.04,294.15 L807.51,293.97 L807.97,293.72 L808.42,293.4 L808.86,293.01 L809.3,292.55 L809.72,292.02 L810.12,291.44 L810.52,290.79 L810.89,290.08 L811.25,289.31 L811.59,288.5 L811.91,287.63 L812.21,286.72 L812.49,285.76 L812.75,284.76 L812.98,283.73 L813.19,282.67 L813.38,281.58 L813.54,280.47 L813.69,279.33 L813.81,278.19 L813.91,277.03 L813.98,275.86 L814.04,274.69 L814.08,273.52 L814.09,272.36 L814.09,271.21 L814.08,270.07 L814.04,268.94 L814,267.84 L813.94,266.76 L813.87,265.71 L813.79,264.68 L813.7,263.69 L813.61,262.74 L813.51,261.82 L813.41,260.94 L813.31,260.1 L813.21,259.31 L813.11,258.56 L813.01,257.85 L812.93,257.19 L812.84,256.58 L812.77,256.02 L812.71,255.5 L812.66,255.03 L812.62,254.6 L812.59,254.22 L812.58,253.89 L812.58,253.59 L812.6,253.34 L812.63,253.12 L812.68,252.94 L812.74,252.79 L812.81,252.66 L812.9,252.57 L813,252.49 L813.1,252.42 L813.21,252.37 L813.32,252.32 L813.45,252.3 L813.59,252.29 L813.75,252.32 L813.94,252.37 L814.14,252.45 L814.37,252.56 L814.63,252.71 L814.91,252.88 L815.23,253.1 L815.58,253.34 L815.96,253.62 L816.38,253.94 L816.83,254.28 L817.32,254.66 L817.84,255.06 L818.41,255.5 L819.01,255.96 L819.64,256.44 L820.32,256.95 L821.03,257.47 L821.78,258.02 L822.56,258.58 L823.37,259.15 L824.22,259.73 L825.1,260.32 L826,260.91 L826.93,261.5 L827.89,262.09 L828.87,262.68 L829.87,263.25 L830.88,263.82 L831.91,264.37 L832.96,264.91 L834,265.42 L835.06,265.92 L836.11,266.39 L837.16,266.83 L838.21,267.24 L839.25,267.63 L840.28,267.97 L841.28,268.29 L842.28,268.56 L843.24,268.8 L844.18,269 L845.09,269.15 L845.97,269.27 L846.81,269.34 L847.61,269.37 L848.37,269.35 L849.09,269.29 L849.75,269.19 L850.37,269.05 L850.93,268.86 L851.43,268.63 L851.88,268.35 L852.27,268.04 L852.6,267.69 L852.87,267.3 L853.07,266.87 L853.21,266.41 L853.29,265.92 L853.3,265.4 L853.24,264.84 L853.13,264.26 L852.95,263.66 L852.7,263.03 L852.4,262.38 L852.03,261.72 L851.61,261.04 L851.12,260.35 L850.59,259.64 L849.99,258.93 L849.35,258.22 L848.66,257.5 L847.93,256.78 L847.15,256.06 L846.34,255.35 L845.49,254.64 L844.61,253.94 L843.7,253.25 L842.76,252.57 L841.81,251.9 L840.84,251.25 L839.85,250.62 L838.86,250 L837.86,249.41 L836.86,248.83 L835.87,248.28 L834.88,247.74 L833.9,247.23 L832.93,246.74 L831.99,246.28 L831.06,245.83 L830.16,245.41 L829.28,245.02 L828.44,244.64 L827.63,244.29 L826.85,243.96 L826.11,243.65 L825.41,243.36 L824.76,243.09 L824.14,242.84 L823.57,242.6 L823.05,242.38 L822.57,242.18 L822.13,241.99 L821.75,241.81 L821.4,241.64 L821.11,241.48 L820.85,241.33 L820.64,241.19 L820.47,241.05 L820.33,240.92 L820.23,240.79 L820.16,240.67 L820.12,240.54 L820.1,240.42 L820.1,240.3Z" fill="none" stroke="#22ee22" stroke-width="3.6" stroke-dasharray="12 7"/>
<text x="808.1" y="249.3" font-family="'Liberation Sans', sans-serif" font-size="21" font-weight="normal" text-anchor="start" fill="#000" >0</text>
<line x1="806.1" y1="240.3" x2="806.1" y2="88.8" stroke="#000" stroke-width="5.2" />
<polygon points="806.1,75.8 813.9,90.8 808.7,88.8 803.5,88.8 798.3,90.8" fill="#000" />
<line x1="806.1" y1="240.3" x2="674.9" y2="316.05" stroke="#000" stroke-width="5.2" />
<polygon points="663.64,322.55 672.73,308.3 673.6,313.8 676.2,318.3 680.53,321.8" fill="#000" />
<line x1="806.1" y1="240.3" x2="937.3" y2="316.05" stroke="#000" stroke-width="5.2" />
<polygon points="948.56,322.55 931.67,321.8 936,318.3 938.6,313.8 939.47,308.3" fill="#000" />
<text x="797" y="301" font-family="'Liberation Sans', sans-serif" font-size="22" font-weight="normal" text-anchor="start" fill="#000" >0.2</text>
<text x="788" y="351" font-family="'Liberation Sans', sans-serif" font-size="22" font-weight="normal" text-anchor="start" fill="#000" >0.4</text>
<text x="779.5" y="403.5" font-family="'Liberation Sans', sans-serif" font-size="22" font-weight="normal" text-anchor="start" fill="#000" >0.6</text>
<text x="806" y="69.5" font-family="'Liberation Sans', sans-serif" font-size="32" font-weight="normal" text-anchor="middle" fill="#000" >[001]</text>
<text x="625.6" y="337.5" font-family="'Liberation Sans', sans-serif" font-size="32" font-weight="normal" text-anchor="middle" fill="#000" >[100]</text>
<text x="986.8" y="337.5" font-family="'Liberation Sans', sans-serif" font-size="32" font-weight="normal" text-anchor="middle" fill="#000" >[010]</text>
<line x1="804" y1="777.8" x2="964.8" y2="777.8" stroke="#5a5a5a" stroke-width="0.85" />
<line x1="804" y1="777.8" x2="943.26" y2="697.4" stroke="#5a5a5a" stroke-width="0.85" />
<line x1="804" y1="777.8" x2="884.4" y2="638.54" stroke="#5a5a5a" stroke-width="0.85" />
<line x1="804" y1="777.8" x2="804" y2="617" stroke="#5a5a5a" stroke-width="0.85" />
<line x1="804" y1="777.8" x2="723.6" y2="638.54" stroke="#5a5a5a" stroke-width="0.85" />
<line x1="804" y1="777.8" x2="664.74" y2="697.4" stroke="#5a5a5a" stroke-width="0.85" />
<line x1="804" y1="777.8" x2="643.2" y2="777.8" stroke="#5a5a5a" stroke-width="0.85" />
<line x1="804" y1="777.8" x2="664.74" y2="858.2" stroke="#5a5a5a" stroke-width="0.85" />
<line x1="804" y1="777.8" x2="723.6" y2="917.06" stroke="#5a5a5a" stroke-width="0.85" />
<line x1="804" y1="777.8" x2="804" y2="938.6" stroke="#5a5a5a" stroke-width="0.85" />
<line x1="804" y1="777.8" x2="884.4" y2="917.06" stroke="#5a5a5a" stroke-width="0.85" />
<line x1="804" y1="777.8" x2="943.26" y2="858.2" stroke="#5a5a5a" stroke-width="0.85" />
<circle cx="804" cy="777.8" r="26.8" fill="none" stroke="#555" stroke-width="0.9" stroke-dasharray="1.2 1.2"/>
<circle cx="804" cy="777.8" r="53.6" fill="none" stroke="#555" stroke-width="0.9" stroke-dasharray="1.2 1.2"/>
<circle cx="804" cy="777.8" r="80.4" fill="none" stroke="#555" stroke-width="0.9" stroke-dasharray="1.2 1.2"/>
<circle cx="804" cy="777.8" r="107.2" fill="none" stroke="#5a5aa8" stroke-width="0.9" stroke-dasharray="1.2 1.2"/>
<circle cx="804" cy="777.8" r="134" fill="none" stroke="#555" stroke-width="0.9" stroke-dasharray="1.2 1.2"/>
<circle cx="804" cy="777.8" r="160.8" fill="none" stroke="#333" stroke-width="1.3"/>
<path d="M862,777.8 L862.04,777.29 L862.17,776.78 L862.37,776.27 L862.64,775.75 L862.97,775.23 L863.36,774.69 L863.8,774.14 L864.29,773.58 L864.81,773.01 L865.37,772.43 L865.95,771.84 L866.54,771.23 L867.16,770.6 L867.77,769.97 L868.39,769.32 L869,768.66 L869.6,768 L870.18,767.32 L870.96,766.6 L871.78,765.85 L872.65,765.08 L873.55,764.28 L874.47,763.46 L875.41,762.62 L876.37,761.76 L877.33,760.87 L878.29,759.97 L879.24,759.04 L880.17,758.1 L881.09,757.15 L881.97,756.18 L882.82,755.2 L883.66,754.2 L884.5,753.19 L885.34,752.15 L886.17,751.1 L887,750.03 L887.81,748.94 L888.6,747.84 L889.37,746.73 L890.12,745.6 L890.83,744.47 L891.51,743.33 L892.14,742.19 L892.74,741.04 L893.29,739.9 L893.8,738.76 L894.27,737.61 L894.72,736.46 L895.13,735.31 L895.51,734.15 L895.86,733 L896.18,731.84 L896.46,730.69 L896.72,729.53 L896.94,728.38 L897.14,727.23 L897.3,726.08 L897.43,724.94 L897.53,723.8 L897.69,722.61 L897.81,721.43 L897.9,720.26 L897.94,719.1 L897.96,717.94 L897.93,716.8 L897.87,715.67 L897.77,714.55 L897.64,713.44 L897.47,712.35 L897.27,711.27 L897.04,710.2 L896.78,709.15 L896.5,708.1 L896.2,707.05 L895.88,706.02 L895.52,705 L895.12,704.01 L894.68,703.05 L894.19,702.12 L893.66,701.23 L893.06,700.38 L892.41,699.58 L891.69,698.84 L890.93,698.14 L890.13,697.48 L889.28,696.87 L888.4,696.29 L887.49,695.75 L886.56,695.24 L885.6,694.76 L884.62,694.31 L883.63,693.88 L882.63,693.48 L881.63,693.08 L880.62,692.7 L879.61,692.33 L878.61,691.97 L877.62,691.6 L876.63,691.24 L875.52,691.04 L874.39,690.88 L873.25,690.74 L872.11,690.63 L870.96,690.53 L869.82,690.45 L868.69,690.37 L867.57,690.3 L866.46,690.23 L865.37,690.15 L864.19,690.22 L862.99,690.34 L861.79,690.49 L860.61,690.63 L859.47,690.72 L858.4,690.74 L857.42,690.63 L856.53,690.37 L855.76,689.93 L855.08,689.33 L854.46,688.61 L853.89,687.8 L853.34,686.92 L852.8,686.01 L852.25,685.11 L851.67,684.24 L851.12,683.3 L850.54,682.38 L849.97,681.42 L849.43,680.37 L848.95,679.17 L848.54,677.77 L847.93,676.77 L847.34,675.71 L846.75,674.59 L846.17,673.42 L845.59,672.22 L845,670.99 L844.4,669.75 L843.78,668.5 L843.15,667.26 L842.49,666.03 L841.8,664.83 L841.08,663.67 L840.31,662.65 L839.52,661.62 L838.72,660.59 L837.91,659.56 L837.08,658.53 L836.23,657.51 L835.37,656.51 L834.49,655.52 L833.59,654.56 L832.67,653.62 L831.73,652.71 L830.78,651.83 L829.8,650.99 L828.81,650.19 L827.81,649.34 L826.79,648.53 L825.76,647.76 L824.71,647.02 L823.65,646.32 L822.57,645.66 L821.48,645.03 L820.38,644.43 L819.26,643.86 L818.13,643.32 L817,642.81 L815.85,642.32 L814.71,641.77 L813.55,641.25 L812.38,640.75 L811.21,640.28 L810.02,639.87 L808.83,639.51 L807.63,639.21 L806.42,638.99 L805.21,638.85 L804,638.8 L802.79,638.85 L801.58,638.99 L800.37,639.21 L799.17,639.51 L797.98,639.87 L796.79,640.28 L795.62,640.75 L794.45,641.25 L793.29,641.77 L792.15,642.32 L791,642.81 L789.87,643.32 L788.74,643.86 L787.62,644.43 L786.52,645.03 L785.43,645.66 L784.35,646.32 L783.29,647.02 L782.24,647.76 L781.21,648.53 L780.19,649.34 L779.19,650.19 L778.2,650.99 L777.22,651.83 L776.27,652.71 L775.33,653.62 L774.41,654.56 L773.51,655.52 L772.63,656.51 L771.77,657.51 L770.92,658.53 L770.09,659.56 L769.28,660.59 L768.48,661.62 L767.69,662.65 L766.92,663.67 L766.2,664.83 L765.51,666.03 L764.85,667.26 L764.22,668.5 L763.6,669.75 L763,670.99 L762.41,672.22 L761.83,673.42 L761.25,674.59 L760.66,675.71 L760.07,676.77 L759.46,677.77 L759.05,679.17 L758.57,680.37 L758.03,681.42 L757.46,682.38 L756.88,683.3 L756.33,684.24 L755.75,685.11 L755.2,686.01 L754.66,686.92 L754.11,687.8 L753.54,688.61 L752.92,689.33 L752.24,689.93 L751.47,690.37 L750.58,690.63 L749.6,690.74 L748.53,690.72 L747.39,690.63 L746.21,690.49 L745.01,690.34 L743.81,690.22 L742.63,690.15 L741.54,690.23 L740.43,690.3 L739.31,690.37 L738.18,690.45 L737.04,690.53 L735.89,690.63 L734.75,690.74 L733.61,690.88 L732.48,691.04 L731.37,691.24 L730.38,691.6 L729.39,691.97 L728.39,692.33 L727.38,692.7 L726.37,693.08 L725.37,693.48 L724.37,693.88 L723.38,694.31 L722.4,694.76 L721.44,695.24 L720.51,695.75 L719.6,696.29 L718.72,696.87 L717.87,697.48 L717.07,698.14 L716.31,698.84 L715.59,699.58 L714.94,700.38 L714.34,701.23 L713.81,702.12 L713.32,703.05 L712.88,704.01 L712.48,705 L712.12,706.02 L711.8,707.05 L711.5,708.1 L711.22,709.15 L710.96,710.2 L710.73,711.27 L710.53,712.35 L710.36,713.44 L710.23,714.55 L710.13,715.67 L710.07,716.8 L710.04,717.94 L710.06,719.1 L710.1,720.26 L710.19,721.43 L710.31,722.61 L710.47,723.8 L710.57,724.94 L710.7,726.08 L710.86,727.23 L711.06,728.38 L711.28,729.53 L711.54,730.69 L711.82,731.84 L712.14,733 L712.49,734.15 L712.87,735.31 L713.28,736.46 L713.73,737.61 L714.2,738.76 L714.71,739.9 L715.26,741.04 L715.86,742.19 L716.49,743.33 L717.17,744.47 L717.88,745.6 L718.63,746.73 L719.4,747.84 L720.19,748.94 L721,750.03 L721.83,751.1 L722.66,752.15 L723.5,753.19 L724.34,754.2 L725.18,755.2 L726.03,756.18 L726.91,757.15 L727.83,758.1 L728.76,759.04 L729.71,759.97 L730.67,760.87 L731.63,761.76 L732.59,762.62 L733.53,763.46 L734.45,764.28 L735.35,765.08 L736.22,765.85 L737.04,766.6 L737.82,767.32 L738.4,768 L739,768.66 L739.61,769.32 L740.23,769.97 L740.84,770.6 L741.46,771.23 L742.05,771.84 L742.63,772.43 L743.19,773.01 L743.71,773.58 L744.2,774.14 L744.64,774.69 L745.03,775.23 L745.36,775.75 L745.63,776.27 L745.83,776.78 L745.96,777.29 L746,777.8 L745.96,778.31 L745.83,778.82 L745.63,779.33 L745.36,779.85 L745.03,780.37 L744.64,780.91 L744.2,781.46 L743.71,782.02 L743.19,782.59 L742.63,783.17 L742.05,783.76 L741.46,784.37 L740.84,785 L740.23,785.63 L739.61,786.28 L739,786.94 L738.4,787.6 L737.82,788.28 L737.04,789 L736.22,789.75 L735.35,790.52 L734.45,791.32 L733.53,792.14 L732.59,792.98 L731.63,793.84 L730.67,794.73 L729.71,795.63 L728.76,796.56 L727.83,797.5 L726.91,798.45 L726.03,799.42 L725.18,800.4 L724.34,801.4 L723.5,802.41 L722.66,803.45 L721.83,804.5 L721,805.57 L720.19,806.66 L719.4,807.76 L718.63,808.87 L717.88,810 L717.17,811.13 L716.49,812.27 L715.86,813.41 L715.26,814.56 L714.71,815.7 L714.2,816.84 L713.73,817.99 L713.28,819.14 L712.87,820.29 L712.49,821.45 L712.14,822.6 L711.82,823.76 L711.54,824.91 L711.28,826.07 L711.06,827.22 L710.86,828.37 L710.7,829.52 L710.57,830.66 L710.47,831.8 L710.31,832.99 L710.19,834.17 L710.1,835.34 L710.06,836.5 L710.04,837.66 L710.07,838.8 L710.13,839.93 L710.23,841.05 L710.36,842.16 L710.53,843.25 L710.73,844.33 L710.96,845.4 L711.22,846.45 L711.5,847.5 L711.8,848.55 L712.12,849.58 L712.48,850.6 L712.88,851.59 L713.32,852.55 L713.81,853.48 L714.34,854.37 L714.94,855.22 L715.59,856.02 L716.31,856.76 L717.07,857.46 L717.87,858.12 L718.72,858.73 L719.6,859.31 L720.51,859.85 L721.44,860.36 L722.4,860.84 L723.38,861.29 L724.37,861.72 L725.37,862.12 L726.37,862.52 L727.38,862.9 L728.39,863.27 L729.39,863.63 L730.38,864 L731.37,864.36 L732.48,864.56 L733.61,864.72 L734.75,864.86 L735.89,864.97 L737.04,865.07 L738.18,865.15 L739.31,865.23 L740.43,865.3 L741.54,865.37 L742.63,865.45 L743.81,865.38 L745.01,865.26 L746.21,865.11 L747.39,864.97 L748.53,864.88 L749.6,864.86 L750.58,864.97 L751.47,865.23 L752.24,865.67 L752.92,866.27 L753.54,866.99 L754.11,867.8 L754.66,868.68 L755.2,869.59 L755.75,870.49 L756.33,871.36 L756.88,872.3 L757.46,873.22 L758.03,874.18 L758.57,875.23 L759.05,876.43 L759.46,877.83 L760.07,878.83 L760.66,879.89 L761.25,881.01 L761.83,882.18 L762.41,883.38 L763,884.61 L763.6,885.85 L764.22,887.1 L764.85,888.34 L765.51,889.57 L766.2,890.77 L766.92,891.93 L767.69,892.95 L768.48,893.98 L769.28,895.01 L770.09,896.04 L770.92,897.07 L771.77,898.09 L772.63,899.09 L773.51,900.08 L774.41,901.04 L775.33,901.98 L776.27,902.89 L777.22,903.77 L778.2,904.61 L779.19,905.41 L780.19,906.26 L781.21,907.07 L782.24,907.84 L783.29,908.58 L784.35,909.28 L785.43,909.94 L786.52,910.57 L787.62,911.17 L788.74,911.74 L789.87,912.28 L791,912.79 L792.15,913.28 L793.29,913.83 L794.45,914.35 L795.62,914.85 L796.79,915.32 L797.98,915.73 L799.17,916.09 L800.37,916.39 L801.58,916.61 L802.79,916.75 L804,916.8 L805.21,916.75 L806.42,916.61 L807.63,916.39 L808.83,916.09 L810.02,915.73 L811.21,915.32 L812.38,914.85 L813.55,914.35 L814.71,913.83 L815.85,913.28 L817,912.79 L818.13,912.28 L819.26,911.74 L820.38,911.17 L821.48,910.57 L822.57,909.94 L823.65,909.28 L824.71,908.58 L825.76,907.84 L826.79,907.07 L827.81,906.26 L828.81,905.41 L829.8,904.61 L830.78,903.77 L831.73,902.89 L832.67,901.98 L833.59,901.04 L834.49,900.08 L835.37,899.09 L836.23,898.09 L837.08,897.07 L837.91,896.04 L838.72,895.01 L839.52,893.98 L840.31,892.95 L841.08,891.93 L841.8,890.77 L842.49,889.57 L843.15,888.34 L843.78,887.1 L844.4,885.85 L845,884.61 L845.59,883.38 L846.17,882.18 L846.75,881.01 L847.34,879.89 L847.93,878.83 L848.54,877.83 L848.95,876.43 L849.43,875.23 L849.97,874.18 L850.54,873.22 L851.12,872.3 L851.67,871.36 L852.25,870.49 L852.8,869.59 L853.34,868.68 L853.89,867.8 L854.46,866.99 L855.08,866.27 L855.76,865.67 L856.53,865.23 L857.42,864.97 L858.4,864.86 L859.47,864.88 L860.61,864.97 L861.79,865.11 L862.99,865.26 L864.19,865.38 L865.37,865.45 L866.46,865.37 L867.57,865.3 L868.69,865.23 L869.82,865.15 L870.96,865.07 L872.11,864.97 L873.25,864.86 L874.39,864.72 L875.52,864.56 L876.63,864.36 L877.62,864 L878.61,863.63 L879.61,863.27 L880.62,862.9 L881.63,862.52 L882.63,862.12 L883.63,861.72 L884.62,861.29 L885.6,860.84 L886.56,860.36 L887.49,859.85 L888.4,859.31 L889.28,858.73 L890.13,858.12 L890.93,857.46 L891.69,856.76 L892.41,856.02 L893.06,855.22 L893.66,854.37 L894.19,853.48 L894.68,852.55 L895.12,851.59 L895.52,850.6 L895.88,849.58 L896.2,848.55 L896.5,847.5 L896.78,846.45 L897.04,845.4 L897.27,844.33 L897.47,843.25 L897.64,842.16 L897.77,841.05 L897.87,839.93 L897.93,838.8 L897.96,837.66 L897.94,836.5 L897.9,835.34 L897.81,834.17 L897.69,832.99 L897.53,831.8 L897.43,830.66 L897.3,829.52 L897.14,828.37 L896.94,827.22 L896.72,826.07 L896.46,824.91 L896.18,823.76 L895.86,822.6 L895.51,821.45 L895.13,820.29 L894.72,819.14 L894.27,817.99 L893.8,816.84 L893.29,815.7 L892.74,814.56 L892.14,813.41 L891.51,812.27 L890.83,811.13 L890.12,810 L889.37,808.87 L888.6,807.76 L887.81,806.66 L887,805.57 L886.17,804.5 L885.34,803.45 L884.5,802.41 L883.66,801.4 L882.82,800.4 L881.97,799.42 L881.09,798.45 L880.17,797.5 L879.24,796.56 L878.29,795.63 L877.33,794.73 L876.37,793.84 L875.41,792.98 L874.47,792.14 L873.55,791.32 L872.65,790.52 L871.78,789.75 L870.96,789 L870.18,788.28 L869.6,787.6 L869,786.94 L868.39,786.28 L867.77,785.63 L867.16,785 L866.54,784.37 L865.95,783.76 L865.37,783.17 L864.81,782.59 L864.29,782.02 L863.8,781.46 L863.36,780.91 L862.97,780.37 L862.64,779.85 L862.37,779.33 L862.17,778.82 L862.04,778.31 L862,777.8Z" fill="none" stroke="#0000e6" stroke-width="4.6" stroke-dasharray="4.6 3.8"/>
<path d="M840,777.8 L839.92,777.49 L839.99,777.17 L840.17,776.85 L840.47,776.53 L840.86,776.19 L841.34,775.84 L841.88,775.48 L842.48,775.11 L843.12,774.72 L843.79,774.32 L844.47,773.9 L845.15,773.48 L845.81,773.04 L846.44,772.59 L847.04,772.13 L847.57,771.68 L848.27,771.18 L848.97,770.68 L849.68,770.16 L850.4,769.62 L851.12,769.07 L851.85,768.5 L852.59,767.91 L853.34,767.31 L854.1,766.69 L854.86,766.06 L855.62,765.41 L856.4,764.74 L857.19,764.05 L858,763.33 L858.84,762.59 L859.68,761.83 L860.53,761.05 L861.38,760.26 L862.22,759.44 L863.04,758.62 L863.83,757.78 L864.6,756.93 L865.33,756.08 L866.02,755.23 L866.82,754.31 L867.57,753.4 L868.26,752.49 L868.93,751.57 L869.57,750.64 L870.2,749.7 L870.83,748.74 L871.49,747.75 L872.16,746.74 L872.88,745.68 L873.25,744.77 L873.64,743.84 L874.04,742.88 L874.45,741.9 L874.86,740.91 L875.28,739.9 L875.68,738.88 L876.07,737.85 L876.45,736.81 L876.81,735.77 L877.13,734.72 L877.43,733.68 L877.69,732.64 L877.92,731.61 L878.09,730.6 L878.22,729.6 L878.12,728.74 L877.99,727.89 L877.86,727.04 L877.71,726.19 L877.54,725.35 L877.35,724.51 L877.16,723.67 L876.94,722.83 L876.71,722 L876.47,721.18 L876.21,720.36 L875.94,719.54 L875.65,718.73 L875.35,717.93 L875.04,717.13 L874.71,716.33 L874.37,715.54 L874.01,714.76 L873.64,713.98 L873.26,713.22 L872.86,712.45 L872.45,711.7 L872.03,710.95 L871.6,710.2 L871.15,709.47 L870.69,708.74 L870.23,708.01 L869.76,707.28 L869.28,706.56 L868.8,705.84 L868.3,705.12 L867.79,704.42 L867.27,703.72 L866.74,703.03 L866.19,702.35 L865.64,701.69 L865.07,701.03 L864.48,700.39 L863.88,699.76 L863.27,699.15 L862.64,698.55 L862,697.97 L861.34,697.41 L860.67,696.87 L859.98,696.35 L859.28,695.85 L858.56,695.37 L857.82,694.92 L857.07,694.5 L856.3,694.1 L855.53,693.71 L854.75,693.34 L853.96,692.99 L853.16,692.65 L852.35,692.34 L851.53,692.05 L850.71,691.77 L849.88,691.51 L849.04,691.27 L848.2,691.05 L847.35,690.85 L846.5,690.66 L845.64,690.49 L844.78,690.34 L843.92,690.2 L843.06,690.08 L842.19,689.97 L841.32,689.88 L840.45,689.8 L839.58,689.74 L838.71,689.69 L837.83,689.66 L836.96,689.64 L836.09,689.63 L835.22,689.63 L834.35,689.65 L833.49,689.68 L832.62,689.71 L831.76,689.76 L830.9,689.82 L830.05,689.86 L829.2,689.93 L828.34,690.02 L827.49,690.13 L826.64,690.27 L825.79,690.42 L824.94,690.6 L824.09,690.79 L823.24,691 L822.4,691.23 L821.56,691.47 L820.73,691.72 L819.91,691.98 L819.08,692.26 L818.27,692.54 L817.46,692.83 L816.65,693.13 L815.86,693.43 L815.07,693.74 L814.28,694.04 L813.51,694.35 L812.74,694.66 L811.98,694.96 L811.22,695.27 L810.47,695.56 L809.73,695.86 L808.99,696.14 L808.27,696.41 L807.54,696.68 L806.82,696.93 L806.11,697.17 L805.4,697.4 L804.7,697.61 L804,697.8 L803.3,697.95 L802.61,698.1 L801.92,698.24 L801.23,698.38 L800.54,698.51 L799.85,698.64 L799.17,698.76 L798.48,698.88 L797.8,698.99 L797.12,699.1 L796.43,699.21 L795.75,699.32 L795.07,699.43 L794.39,699.53 L793.71,699.64 L793.03,699.74 L792.35,699.84 L791.67,699.95 L790.99,700.05 L790.31,700.15 L789.63,700.26 L788.95,700.37 L788.27,700.48 L787.59,700.59 L786.91,700.71 L786.23,700.83 L785.55,700.95 L784.87,701.08 L784.19,701.21 L783.52,701.35 L782.84,701.5 L782.16,701.65 L781.49,701.8 L780.81,701.96 L780.14,702.13 L779.47,702.31 L778.8,702.49 L778.14,702.68 L777.47,702.89 L776.81,703.09 L776.15,703.3 L775.48,703.51 L774.81,703.71 L774.15,703.91 L773.48,704.11 L772.81,704.32 L772.14,704.52 L771.47,704.73 L770.79,704.93 L770.12,705.14 L769.45,705.36 L768.77,705.57 L768.1,705.8 L767.43,706.02 L766.76,706.25 L766.08,706.49 L765.41,706.73 L764.75,706.99 L764.08,707.24 L763.42,707.51 L762.76,707.78 L762.1,708.07 L761.45,708.36 L760.8,708.66 L760.15,708.97 L759.51,709.29 L758.88,709.62 L758.25,709.97 L757.62,710.32 L757.01,710.69 L756.4,711.07 L755.8,711.46 L755.21,711.86 L754.61,712.26 L754.03,712.68 L753.45,713.1 L752.87,713.52 L752.3,713.96 L751.74,714.4 L751.18,714.85 L750.62,715.3 L750.08,715.77 L749.54,716.24 L749.01,716.72 L748.48,717.21 L747.97,717.71 L747.46,718.22 L746.96,718.73 L746.46,719.25 L745.98,719.78 L745.51,720.32 L745.04,720.87 L744.59,721.42 L744.15,721.99 L743.71,722.56 L743.29,723.14 L742.88,723.73 L742.48,724.32 L742.1,724.93 L741.72,725.54 L741.39,726.19 L741.07,726.84 L740.77,727.5 L740.47,728.17 L740.19,728.84 L739.93,729.52 L739.68,730.21 L739.45,730.9 L739.24,731.61 L739.05,732.32 L738.88,733.04 L738.73,733.77 L738.6,734.52 L738.51,735.27 L738.43,736.03 L738.39,736.8 L738.38,737.59 L738.4,738.38 L738.44,739.19 L738.53,740 L738.58,740.78 L738.66,741.58 L738.77,742.38 L738.92,743.2 L739.1,744.01 L739.3,744.84 L739.54,745.66 L739.79,746.48 L740.07,747.31 L740.37,748.13 L740.69,748.95 L741.03,749.76 L741.38,750.57 L741.74,751.37 L742.12,752.17 L742.5,752.95 L742.89,753.73 L743.28,754.49 L743.68,755.25 L744.07,755.99 L744.47,756.72 L744.85,757.43 L745.23,758.14 L745.61,758.83 L746.23,759.59 L746.86,760.33 L747.49,761.06 L748.11,761.77 L748.73,762.47 L749.36,763.16 L749.99,763.83 L750.62,764.49 L751.26,765.14 L751.9,765.77 L752.55,766.39 L753.21,767 L753.87,767.6 L754.55,768.19 L755.24,768.76 L755.94,769.33 L756.52,769.85 L757.15,770.38 L757.82,770.9 L758.53,771.41 L759.26,771.91 L760.01,772.4 L760.77,772.87 L761.54,773.34 L762.3,773.78 L763.04,774.22 L763.77,774.63 L764.46,775.04 L765.12,775.42 L765.74,775.79 L766.29,776.15 L766.79,776.5 L767.22,776.84 L767.57,777.16 L767.83,777.48 L768,777.8 L768.08,778.11 L768.01,778.43 L767.83,778.75 L767.53,779.07 L767.14,779.41 L766.66,779.76 L766.12,780.12 L765.52,780.49 L764.88,780.88 L764.21,781.28 L763.53,781.7 L762.85,782.12 L762.19,782.56 L761.56,783.01 L760.96,783.47 L760.43,783.92 L759.73,784.42 L759.03,784.92 L758.32,785.44 L757.6,785.98 L756.88,786.53 L756.15,787.1 L755.41,787.69 L754.66,788.29 L753.9,788.91 L753.14,789.54 L752.38,790.19 L751.6,790.86 L750.81,791.55 L750,792.27 L749.16,793.01 L748.32,793.77 L747.47,794.55 L746.62,795.34 L745.78,796.16 L744.96,796.98 L744.17,797.82 L743.4,798.67 L742.67,799.52 L741.98,800.37 L741.18,801.29 L740.43,802.2 L739.74,803.11 L739.07,804.03 L738.43,804.96 L737.8,805.9 L737.17,806.86 L736.51,807.85 L735.84,808.86 L735.12,809.92 L734.75,810.83 L734.36,811.76 L733.96,812.72 L733.55,813.7 L733.14,814.69 L732.72,815.7 L732.32,816.72 L731.93,817.75 L731.55,818.79 L731.19,819.83 L730.87,820.88 L730.57,821.92 L730.31,822.96 L730.08,823.99 L729.91,825 L729.78,826 L729.88,826.86 L730.01,827.71 L730.14,828.56 L730.29,829.41 L730.46,830.25 L730.65,831.09 L730.84,831.93 L731.06,832.77 L731.29,833.6 L731.53,834.42 L731.79,835.24 L732.06,836.06 L732.35,836.87 L732.65,837.67 L732.96,838.47 L733.29,839.27 L733.63,840.06 L733.99,840.84 L734.36,841.62 L734.74,842.38 L735.14,843.15 L735.55,843.9 L735.97,844.65 L736.4,845.4 L736.85,846.13 L737.31,846.86 L737.77,847.59 L738.24,848.32 L738.72,849.04 L739.2,849.76 L739.7,850.48 L740.21,851.18 L740.73,851.88 L741.26,852.57 L741.81,853.25 L742.36,853.91 L742.93,854.57 L743.52,855.21 L744.12,855.84 L744.73,856.45 L745.36,857.05 L746,857.63 L746.66,858.19 L747.33,858.73 L748.02,859.25 L748.72,859.75 L749.44,860.23 L750.18,860.68 L750.93,861.1 L751.7,861.5 L752.47,861.89 L753.25,862.26 L754.04,862.61 L754.84,862.95 L755.65,863.26 L756.47,863.55 L757.29,863.83 L758.12,864.09 L758.96,864.33 L759.8,864.55 L760.65,864.75 L761.5,864.94 L762.36,865.11 L763.22,865.26 L764.08,865.4 L764.94,865.52 L765.81,865.63 L766.68,865.72 L767.55,865.8 L768.42,865.86 L769.29,865.91 L770.17,865.94 L771.04,865.96 L771.91,865.97 L772.78,865.97 L773.65,865.95 L774.51,865.92 L775.38,865.89 L776.24,865.84 L777.1,865.78 L777.95,865.74 L778.8,865.67 L779.66,865.58 L780.51,865.47 L781.36,865.33 L782.21,865.18 L783.06,865 L783.91,864.81 L784.76,864.6 L785.6,864.37 L786.44,864.13 L787.27,863.88 L788.09,863.62 L788.92,863.34 L789.73,863.06 L790.54,862.77 L791.35,862.47 L792.14,862.17 L792.93,861.86 L793.72,861.56 L794.49,861.25 L795.26,860.94 L796.02,860.64 L796.78,860.33 L797.53,860.04 L798.27,859.74 L799.01,859.46 L799.73,859.19 L800.46,858.92 L801.18,858.67 L801.89,858.43 L802.6,858.2 L803.3,857.99 L804,857.8 L804.7,857.65 L805.39,857.5 L806.08,857.36 L806.77,857.22 L807.46,857.09 L808.15,856.96 L808.83,856.84 L809.52,856.72 L810.2,856.61 L810.88,856.5 L811.57,856.39 L812.25,856.28 L812.93,856.17 L813.61,856.07 L814.29,855.96 L814.97,855.86 L815.65,855.76 L816.33,855.65 L817.01,855.55 L817.69,855.45 L818.37,855.34 L819.05,855.23 L819.73,855.12 L820.41,855.01 L821.09,854.89 L821.77,854.77 L822.45,854.65 L823.13,854.52 L823.81,854.39 L824.48,854.25 L825.16,854.1 L825.84,853.95 L826.51,853.8 L827.19,853.64 L827.86,853.47 L828.53,853.29 L829.2,853.11 L829.86,852.92 L830.53,852.71 L831.19,852.51 L831.85,852.3 L832.52,852.09 L833.19,851.89 L833.85,851.69 L834.52,851.49 L835.19,851.28 L835.86,851.08 L836.53,850.87 L837.21,850.67 L837.88,850.46 L838.55,850.24 L839.23,850.03 L839.9,849.8 L840.57,849.58 L841.24,849.35 L841.92,849.11 L842.59,848.87 L843.25,848.61 L843.92,848.36 L844.58,848.09 L845.24,847.82 L845.9,847.53 L846.55,847.24 L847.2,846.94 L847.85,846.63 L848.49,846.31 L849.12,845.98 L849.75,845.63 L850.38,845.28 L850.99,844.91 L851.6,844.53 L852.2,844.14 L852.79,843.74 L853.39,843.34 L853.97,842.92 L854.55,842.5 L855.13,842.08 L855.7,841.64 L856.26,841.2 L856.82,840.75 L857.38,840.3 L857.92,839.83 L858.46,839.36 L858.99,838.88 L859.52,838.39 L860.03,837.89 L860.54,837.38 L861.04,836.87 L861.54,836.35 L862.02,835.82 L862.49,835.28 L862.96,834.73 L863.41,834.18 L863.85,833.61 L864.29,833.04 L864.71,832.46 L865.12,831.87 L865.52,831.28 L865.9,830.67 L866.28,830.06 L866.61,829.41 L866.93,828.76 L867.23,828.1 L867.53,827.43 L867.81,826.76 L868.07,826.08 L868.32,825.39 L868.55,824.7 L868.76,823.99 L868.95,823.28 L869.12,822.56 L869.27,821.83 L869.4,821.08 L869.49,820.33 L869.57,819.57 L869.61,818.8 L869.62,818.01 L869.6,817.22 L869.56,816.41 L869.47,815.6 L869.42,814.82 L869.34,814.02 L869.23,813.22 L869.08,812.4 L868.9,811.59 L868.7,810.76 L868.46,809.94 L868.21,809.12 L867.93,808.29 L867.63,807.47 L867.31,806.65 L866.97,805.84 L866.62,805.03 L866.26,804.23 L865.88,803.43 L865.5,802.65 L865.11,801.87 L864.72,801.11 L864.32,800.35 L863.93,799.61 L863.53,798.88 L863.15,798.17 L862.77,797.46 L862.39,796.77 L861.77,796.01 L861.14,795.27 L860.51,794.54 L859.89,793.83 L859.27,793.13 L858.64,792.44 L858.01,791.77 L857.38,791.11 L856.74,790.46 L856.1,789.83 L855.45,789.21 L854.79,788.6 L854.13,788 L853.45,787.41 L852.76,786.84 L852.06,786.27 L851.48,785.75 L850.85,785.22 L850.18,784.7 L849.47,784.19 L848.74,783.69 L847.99,783.2 L847.23,782.73 L846.46,782.26 L845.7,781.82 L844.96,781.38 L844.23,780.97 L843.54,780.56 L842.88,780.18 L842.26,779.81 L841.71,779.45 L841.21,779.1 L840.78,778.76 L840.43,778.44 L840.17,778.12 L840,777.8Z" fill="none" stroke="#ff0000" stroke-width="4"/>
<path d="M822,777.8 L822.29,777.64 L822.61,777.48 L822.97,777.3 L823.36,777.12 L823.79,776.94 L824.24,776.74 L824.72,776.53 L825.22,776.32 L825.75,776.09 L826.31,775.85 L826.88,775.6 L827.47,775.33 L828.09,775.06 L828.72,774.77 L829.36,774.46 L830.01,774.14 L830.68,773.81 L831.36,773.47 L832.04,773.11 L832.73,772.73 L833.43,772.35 L834.12,771.94 L834.82,771.53 L835.52,771.1 L836.22,770.66 L836.91,770.2 L837.6,769.73 L838.28,769.25 L838.95,768.76 L839.61,768.26 L840.26,767.74 L840.9,767.22 L841.52,766.69 L842.12,766.14 L842.71,765.59 L843.28,765.04 L843.83,764.47 L844.38,763.9 L844.94,763.3 L845.5,762.7 L846.06,762.08 L846.62,761.44 L847.18,760.79 L847.75,760.12 L848.31,759.45 L848.87,758.76 L849.42,758.05 L849.97,757.33 L850.51,756.6 L851.05,755.86 L851.58,755.11 L852.1,754.34 L852.6,753.57 L853.1,752.78 L853.59,751.99 L854.06,751.18 L854.52,750.37 L854.96,749.55 L855.39,748.73 L855.8,747.89 L856.19,747.06 L856.57,746.21 L856.93,745.37 L857.26,744.52 L857.58,743.67 L857.87,742.81 L858.15,741.96 L858.39,741.11 L858.62,740.26 L858.82,739.41 L859,738.57 L859.15,737.73 L859.28,736.9 L859.64,735.87 L860.13,734.73 L860.57,733.6 L860.97,732.48 L861.32,731.38 L861.63,730.3 L861.89,729.22 L862.12,728.16 L862.3,727.12 L862.45,726.08 L862.57,725.07 L862.65,724.06 L862.69,723.07 L862.71,722.09 L862.69,721.12 L862.64,720.17 L862.57,719.23 L862.47,718.3 L862.35,717.38 L862.22,716.45 L862.06,715.53 L861.89,714.63 L861.68,713.74 L861.45,712.86 L861.2,712 L860.91,711.16 L860.6,710.35 L860.25,709.56 L859.88,708.8 L859.47,708.07 L859.02,707.38 L858.54,706.72 L858.03,706.1 L857.48,705.52 L856.9,704.99 L856.28,704.51 L855.62,704.08 L854.91,703.73 L854.14,703.47 L853.32,703.29 L852.45,703.19 L851.55,703.16 L850.62,703.19 L849.67,703.27 L848.71,703.39 L847.74,703.54 L846.77,703.72 L845.8,703.91 L844.85,704.11 L843.91,704.3 L842.99,704.47 L842.09,704.62 L841.23,704.74 L840.35,704.9 L839.53,704.95 L838.76,704.92 L838.01,704.86 L837.27,704.8 L836.51,704.77 L835.73,704.83 L834.9,705.01 L834.01,705.35 L833.05,705.9 L832.01,706.7 L830.88,707.78 L829.94,708.42 L828.98,709.18 L827.99,710.05 L826.99,711.03 L825.98,712.1 L824.97,713.25 L823.96,714.48 L822.96,715.77 L821.98,717.12 L821,718.5 L820.05,719.92 L819.12,721.36 L818.22,722.81 L817.35,724.26 L816.51,725.7 L815.7,727.11 L814.93,728.49 L814.2,729.82 L813.5,731.1 L812.84,732.31 L812.22,733.43 L811.64,734.47 L811.07,735.55 L810.52,736.61 L810,737.64 L809.5,738.65 L809.03,739.63 L808.57,740.58 L808.14,741.5 L807.72,742.39 L807.33,743.24 L806.95,744.05 L806.59,744.83 L806.25,745.57 L805.93,746.26 L805.62,746.91 L805.32,747.52 L805.04,748.07 L804.77,748.58 L804.5,749.04 L804.25,749.45 L804,749.8 L803.76,750.04 L803.52,750.26 L803.28,750.47 L803.05,750.65 L802.82,750.81 L802.59,750.95 L802.37,751.07 L802.14,751.16 L801.91,751.23 L801.68,751.27 L801.45,751.28 L801.21,751.27 L800.97,751.22 L800.73,751.15 L800.48,751.04 L800.22,750.9 L799.95,750.73 L799.68,750.53 L799.4,750.29 L799.1,750.02 L798.79,749.71 L798.47,749.36 L798.14,748.98 L797.78,748.56 L797.41,748.09 L797.03,747.59 L796.51,746.59 L795.91,745.36 L795.24,743.94 L794.5,742.36 L793.7,740.66 L792.84,738.87 L791.92,737.01 L790.95,735.12 L789.95,733.24 L788.92,731.4 L787.88,729.61 L786.83,727.92 L785.78,726.36 L784.77,724.95 L783.78,723.73 L782.86,722.72 L781.91,721.73 L780.99,720.86 L780.1,720.1 L779.23,719.45 L778.39,718.9 L777.57,718.44 L776.79,718.08 L776.03,717.81 L775.3,717.62 L774.6,717.51 L773.92,717.48 L773.28,717.51 L772.66,717.6 L772.08,717.76 L771.54,718.01 L771.05,718.35 L770.61,718.79 L770.22,719.3 L769.88,719.87 L769.57,720.5 L769.3,721.17 L769.06,721.88 L768.84,722.61 L768.65,723.36 L768.47,724.12 L768.29,724.86 L768.12,725.6 L767.95,726.31 L767.76,727 L767.56,727.64 L767.39,728.32 L767.18,728.94 L766.96,729.52 L766.72,730.08 L766.49,730.64 L766.28,731.22 L766.11,731.84 L766,732.52 L765.97,733.27 L766.04,734.13 L766.21,735.09 L766.53,736.18 L766.43,736.8 L766.36,737.43 L766.31,738.09 L766.29,738.75 L766.3,739.43 L766.33,740.13 L766.38,740.83 L766.46,741.55 L766.56,742.27 L766.68,743 L766.82,743.73 L766.98,744.47 L767.16,745.21 L767.36,745.95 L767.57,746.69 L767.8,747.42 L768.04,748.16 L768.3,748.89 L768.57,749.62 L768.85,750.34 L769.14,751.05 L769.44,751.75 L769.74,752.45 L770.05,753.13 L770.37,753.81 L770.68,754.47 L771,755.12 L771.32,755.76 L771.64,756.38 L771.95,756.99 L772.26,757.58 L772.57,758.16 L772.86,758.72 L773.15,759.26 L773.43,759.79 L773.69,760.3 L774.03,760.84 L774.37,761.37 L774.7,761.89 L775.04,762.4 L775.38,762.9 L775.72,763.39 L776.05,763.87 L776.38,764.33 L776.72,764.79 L777.05,765.23 L777.37,765.67 L777.7,766.09 L778.02,766.5 L778.34,766.91 L778.65,767.3 L778.96,767.68 L779.27,768.06 L779.57,768.42 L779.87,768.78 L780.16,769.12 L780.45,769.46 L780.73,769.79 L781,770.11 L781.27,770.42 L781.54,770.72 L781.79,771.01 L782.04,771.3 L782.29,771.57 L782.52,771.84 L782.75,772.11 L782.98,772.36 L783.22,772.62 L783.47,772.87 L783.73,773.12 L784,773.37 L784.26,773.61 L784.53,773.84 L784.8,774.07 L785.07,774.29 L785.33,774.51 L785.58,774.72 L785.82,774.92 L786.05,775.12 L786.26,775.31 L786.46,775.49 L786.64,775.67 L786.8,775.84 L786.94,776.01 L787.05,776.17 L787.14,776.32 L787.19,776.48 L787.22,776.63 L787.21,776.77 L787.16,776.92 L787.07,777.06 L786.95,777.2 L786.78,777.35 L786.57,777.5 L786.31,777.65 L786,777.8 L785.71,777.96 L785.39,778.12 L785.03,778.3 L784.64,778.48 L784.21,778.66 L783.76,778.86 L783.28,779.07 L782.78,779.28 L782.25,779.51 L781.69,779.75 L781.12,780 L780.53,780.27 L779.91,780.54 L779.28,780.83 L778.64,781.14 L777.99,781.46 L777.32,781.79 L776.64,782.13 L775.96,782.49 L775.27,782.87 L774.57,783.25 L773.88,783.66 L773.18,784.07 L772.48,784.5 L771.78,784.94 L771.09,785.4 L770.4,785.87 L769.72,786.35 L769.05,786.84 L768.39,787.34 L767.74,787.86 L767.1,788.38 L766.48,788.91 L765.88,789.46 L765.29,790.01 L764.72,790.56 L764.17,791.13 L763.62,791.7 L763.06,792.3 L762.5,792.9 L761.94,793.52 L761.38,794.16 L760.82,794.81 L760.25,795.48 L759.69,796.15 L759.13,796.84 L758.58,797.55 L758.03,798.27 L757.49,799 L756.95,799.74 L756.42,800.49 L755.9,801.26 L755.4,802.03 L754.9,802.82 L754.41,803.61 L753.94,804.42 L753.48,805.23 L753.04,806.05 L752.61,806.87 L752.2,807.71 L751.81,808.54 L751.43,809.39 L751.07,810.23 L750.74,811.08 L750.42,811.93 L750.13,812.79 L749.85,813.64 L749.61,814.49 L749.38,815.34 L749.18,816.19 L749,817.03 L748.85,817.87 L748.72,818.7 L748.36,819.73 L747.87,820.87 L747.43,822 L747.03,823.12 L746.68,824.22 L746.37,825.3 L746.11,826.38 L745.88,827.44 L745.7,828.48 L745.55,829.52 L745.43,830.53 L745.35,831.54 L745.31,832.53 L745.29,833.51 L745.31,834.48 L745.36,835.43 L745.43,836.37 L745.53,837.3 L745.65,838.22 L745.78,839.15 L745.94,840.07 L746.11,840.97 L746.32,841.86 L746.55,842.74 L746.8,843.6 L747.09,844.44 L747.4,845.25 L747.75,846.04 L748.12,846.8 L748.53,847.53 L748.98,848.22 L749.46,848.88 L749.97,849.5 L750.52,850.08 L751.1,850.61 L751.72,851.09 L752.38,851.52 L753.09,851.87 L753.86,852.13 L754.68,852.31 L755.55,852.41 L756.45,852.44 L757.38,852.41 L758.33,852.33 L759.29,852.21 L760.26,852.06 L761.23,851.88 L762.2,851.69 L763.15,851.49 L764.09,851.3 L765.01,851.13 L765.91,850.98 L766.77,850.86 L767.65,850.7 L768.47,850.65 L769.24,850.68 L769.99,850.74 L770.73,850.8 L771.49,850.83 L772.27,850.77 L773.1,850.59 L773.99,850.25 L774.95,849.7 L775.99,848.9 L777.12,847.82 L778.06,847.18 L779.02,846.42 L780.01,845.55 L781.01,844.57 L782.02,843.5 L783.03,842.35 L784.04,841.12 L785.04,839.83 L786.02,838.48 L787,837.1 L787.95,835.68 L788.88,834.24 L789.78,832.79 L790.65,831.34 L791.49,829.9 L792.3,828.49 L793.07,827.11 L793.8,825.78 L794.5,824.5 L795.16,823.29 L795.78,822.17 L796.36,821.13 L796.93,820.05 L797.48,818.99 L798,817.96 L798.5,816.95 L798.97,815.97 L799.43,815.02 L799.86,814.1 L800.28,813.21 L800.67,812.36 L801.05,811.55 L801.41,810.77 L801.75,810.03 L802.07,809.34 L802.38,808.69 L802.68,808.08 L802.96,807.53 L803.23,807.02 L803.5,806.56 L803.75,806.15 L804,805.8 L804.24,805.56 L804.48,805.34 L804.72,805.13 L804.95,804.95 L805.18,804.79 L805.41,804.65 L805.63,804.53 L805.86,804.44 L806.09,804.37 L806.32,804.33 L806.55,804.32 L806.79,804.33 L807.03,804.38 L807.27,804.45 L807.52,804.56 L807.78,804.7 L808.05,804.87 L808.32,805.07 L808.6,805.31 L808.9,805.58 L809.21,805.89 L809.53,806.24 L809.86,806.62 L810.22,807.04 L810.59,807.51 L810.97,808.01 L811.49,809.01 L812.09,810.24 L812.76,811.66 L813.5,813.24 L814.3,814.94 L815.16,816.73 L816.08,818.59 L817.05,820.48 L818.05,822.36 L819.08,824.2 L820.12,825.99 L821.17,827.68 L822.22,829.24 L823.23,830.65 L824.22,831.87 L825.14,832.88 L826.09,833.87 L827.01,834.74 L827.9,835.5 L828.77,836.15 L829.61,836.7 L830.43,837.16 L831.21,837.52 L831.97,837.79 L832.7,837.98 L833.4,838.09 L834.08,838.12 L834.72,838.09 L835.34,838 L835.92,837.84 L836.46,837.59 L836.95,837.25 L837.39,836.81 L837.78,836.3 L838.12,835.73 L838.43,835.1 L838.7,834.43 L838.94,833.72 L839.16,832.99 L839.35,832.24 L839.53,831.48 L839.71,830.74 L839.88,830 L840.05,829.29 L840.24,828.6 L840.44,827.96 L840.61,827.28 L840.82,826.66 L841.04,826.08 L841.28,825.52 L841.51,824.96 L841.72,824.38 L841.89,823.76 L842,823.08 L842.03,822.33 L841.96,821.47 L841.79,820.51 L841.47,819.42 L841.57,818.8 L841.64,818.17 L841.69,817.51 L841.71,816.85 L841.7,816.17 L841.67,815.47 L841.62,814.77 L841.54,814.05 L841.44,813.33 L841.32,812.6 L841.18,811.87 L841.02,811.13 L840.84,810.39 L840.64,809.65 L840.43,808.91 L840.2,808.18 L839.96,807.44 L839.7,806.71 L839.43,805.98 L839.15,805.26 L838.86,804.55 L838.56,803.85 L838.26,803.15 L837.95,802.47 L837.63,801.79 L837.32,801.13 L837,800.48 L836.68,799.84 L836.36,799.22 L836.05,798.61 L835.74,798.02 L835.43,797.44 L835.14,796.88 L834.85,796.34 L834.57,795.81 L834.31,795.3 L833.97,794.76 L833.63,794.23 L833.3,793.71 L832.96,793.2 L832.62,792.7 L832.28,792.21 L831.95,791.73 L831.62,791.27 L831.28,790.81 L830.95,790.37 L830.63,789.93 L830.3,789.51 L829.98,789.1 L829.66,788.69 L829.35,788.3 L829.04,787.92 L828.73,787.54 L828.43,787.18 L828.13,786.82 L827.84,786.48 L827.55,786.14 L827.27,785.81 L827,785.49 L826.73,785.18 L826.46,784.88 L826.21,784.59 L825.96,784.3 L825.71,784.03 L825.48,783.76 L825.25,783.49 L825.02,783.24 L824.78,782.98 L824.53,782.73 L824.27,782.48 L824,782.23 L823.74,781.99 L823.47,781.76 L823.2,781.53 L822.93,781.31 L822.67,781.09 L822.42,780.88 L822.18,780.68 L821.95,780.48 L821.74,780.29 L821.54,780.11 L821.36,779.93 L821.2,779.76 L821.06,779.59 L820.95,779.43 L820.86,779.28 L820.81,779.12 L820.78,778.97 L820.79,778.83 L820.84,778.68 L820.93,778.54 L821.05,778.4 L821.22,778.25 L821.43,778.1 L821.69,777.95 L822,777.8Z" fill="none" stroke="#22ee22" stroke-width="3.6" stroke-dasharray="12 7"/>
<text x="806" y="786.8" font-family="'Liberation Sans', sans-serif" font-size="21" font-weight="normal" text-anchor="start" fill="#000" >0</text>
<line x1="804" y1="777.8" x2="804" y2="627.5" stroke="#000" stroke-width="5.2" />
<polygon points="804,614.5 811.8,629.5 806.6,627.5 801.4,627.5 796.2,629.5" fill="#000" />
<line x1="804" y1="777.8" x2="673.84" y2="852.95" stroke="#000" stroke-width="5.2" />
<polygon points="662.58,859.45 671.67,845.2 672.54,850.7 675.14,855.2 679.47,858.7" fill="#000" />
<line x1="804" y1="777.8" x2="934.16" y2="852.95" stroke="#000" stroke-width="5.2" />
<polygon points="945.42,859.45 928.53,858.7 932.86,855.2 935.46,850.7 936.33,845.2" fill="#000" />
<text x="798.5" y="813" font-family="'Liberation Sans', sans-serif" font-size="22" font-weight="normal" text-anchor="start" fill="#000" >0.1</text>
<text x="794.3" y="837.5" font-family="'Liberation Sans', sans-serif" font-size="22" font-weight="normal" text-anchor="start" fill="#000" >0.2</text>
<text x="790.3" y="863" font-family="'Liberation Sans', sans-serif" font-size="22" font-weight="normal" text-anchor="start" fill="#000" >0.3</text>
<text x="786.3" y="888.5" font-family="'Liberation Sans', sans-serif" font-size="22" font-weight="normal" text-anchor="start" fill="#000" >0.4</text>
<text x="780.9" y="914" font-family="'Liberation Sans', sans-serif" font-size="22" font-weight="normal" text-anchor="start" fill="#000" >0.5</text>
<text x="776.9" y="939.5" font-family="'Liberation Sans', sans-serif" font-size="22" font-weight="normal" text-anchor="start" fill="#000" >0.6</text>
<text x="805" y="607" font-family="'Liberation Sans', sans-serif" font-size="32" font-weight="normal" text-anchor="middle" fill="#000" >[001]</text>
<text x="624.3" y="873.5" font-family="'Liberation Sans', sans-serif" font-size="32" font-weight="normal" text-anchor="middle" fill="#000" >[100]</text>
<text x="982.8" y="873.5" font-family="'Liberation Sans', sans-serif" font-size="32" font-weight="normal" text-anchor="middle" fill="#000" >[010]</text>
<rect x="1239" y="37" width="456.5" height="367" fill="none" stroke="#000" stroke-width="2.4"/>
<line x1="1239" y1="381.25" x2="1242.5" y2="381.25" stroke="#000" stroke-width="2" />
<line x1="1239" y1="312.4" x2="1245.5" y2="312.4" stroke="#000" stroke-width="2" />
<line x1="1239" y1="243.55" x2="1242.5" y2="243.55" stroke="#000" stroke-width="2" />
<line x1="1239" y1="174.7" x2="1245.5" y2="174.7" stroke="#000" stroke-width="2" />
<line x1="1239" y1="105.85" x2="1242.5" y2="105.85" stroke="#000" stroke-width="2" />
<line x1="1284.65" y1="404" x2="1284.65" y2="400.5" stroke="#000" stroke-width="2" />
<line x1="1330.3" y1="404" x2="1330.3" y2="397.5" stroke="#000" stroke-width="2" />
<line x1="1375.95" y1="404" x2="1375.95" y2="400.5" stroke="#000" stroke-width="2" />
<line x1="1421.6" y1="404" x2="1421.6" y2="397.5" stroke="#000" stroke-width="2" />
<line x1="1467.25" y1="404" x2="1467.25" y2="400.5" stroke="#000" stroke-width="2" />
<line x1="1512.9" y1="404" x2="1512.9" y2="397.5" stroke="#000" stroke-width="2" />
<line x1="1558.55" y1="404" x2="1558.55" y2="400.5" stroke="#000" stroke-width="2" />
<line x1="1604.2" y1="404" x2="1604.2" y2="397.5" stroke="#000" stroke-width="2" />
<line x1="1649.85" y1="404" x2="1649.85" y2="400.5" stroke="#000" stroke-width="2" />
<text x="1231" y="46.2" font-family="'Liberation Serif', serif" font-size="28" font-weight="bold" text-anchor="end" fill="#000" >900</text>
<text x="1231" y="183.9" font-family="'Liberation Serif', serif" font-size="28" font-weight="bold" text-anchor="end" fill="#000" >600</text>
<text x="1231" y="321.6" font-family="'Liberation Serif', serif" font-size="28" font-weight="bold" text-anchor="end" fill="#000" >300</text>
<text x="1240" y="432" font-family="'Liberation Serif', serif" font-size="27" font-weight="bold" text-anchor="middle" fill="#000" >0</text>
<text x="1330.3" y="432" font-family="'Liberation Serif', serif" font-size="27" font-weight="bold" text-anchor="middle" fill="#000" >2</text>
<text x="1421.6" y="432" font-family="'Liberation Serif', serif" font-size="27" font-weight="bold" text-anchor="middle" fill="#000" >4</text>
<text x="1512.9" y="432" font-family="'Liberation Serif', serif" font-size="27" font-weight="bold" text-anchor="middle" fill="#000" >6</text>
<text x="1604.2" y="432" font-family="'Liberation Serif', serif" font-size="27" font-weight="bold" text-anchor="middle" fill="#000" >8</text>
<text x="1698.5" y="432" font-family="'Liberation Serif', serif" font-size="27" font-weight="bold" text-anchor="middle" fill="#000" >10</text>
<text x="1471" y="461.3" font-family="'Liberation Serif', serif" font-size="27.5" font-weight="bold" text-anchor="middle" fill="#000" >Time (ps)</text>
<text x="0" y="0" transform="translate(1183,218) rotate(-90)" font-family="'Liberation Serif', serif" font-size="27.5" font-weight="bold" text-anchor="middle" fill="#000">T (K)</text>
<polyline points="1240.5,308.43 1240.64,320.33 1240.78,297.98 1240.93,309.09 1241.07,328.47 1241.21,316.26 1241.35,286.58 1241.49,325.66 1241.63,286.18 1241.78,285.37 1241.92,317.13 1242.06,311.69 1242.2,317.18 1242.34,318.51 1242.49,321.03 1242.63,330.95 1242.77,307.07 1242.91,310.75 1243.05,305.47 1243.2,297.57 1243.34,299.88 1243.48,316.19 1243.62,313.15 1243.76,332.65 1243.9,310.75 1244.05,299.73 1244.19,289.7 1244.33,325.23 1244.47,334.73 1244.61,318.01 1244.76,321.94 1244.9,302.92 1245.04,297.4 1245.18,304.17 1245.32,289.81 1245.47,316.11 1245.61,282.95 1245.75,273.37 1245.89,277.69 1246.03,327.55 1246.17,316.21 1246.32,319.13 1246.46,320.44 1246.6,320.89 1246.74,327.2 1246.88,320.61 1247.03,325.46 1247.17,284.33 1247.31,292.08 1247.45,337.36 1247.59,317.44 1247.74,322.47 1247.88,291.89 1248.02,305.97 1248.16,298.75 1248.3,327.07 1248.44,291.01 1248.59,310.31 1248.73,334.17 1248.87,296.48 1249.01,300.2 1249.15,322.19 1249.3,317.75 1249.44,314.61 1249.58,306.94 1249.72,316.7 1249.86,336.08 1250.01,321.17 1250.15,305.77 1250.29,306.63 1250.43,307.18 1250.57,318.38 1250.71,294.98 1250.86,316.18 1251,305.72 1251.14,322.55 1251.28,350.07 1251.42,317.9 1251.57,308.9 1251.71,311.43 1251.85,328.03 1251.99,294.29 1252.13,325.67 1252.28,335.51 1252.42,307.12 1252.56,322.06 1252.7,329.27 1252.84,289.96 1252.98,315.13 1253.13,349.43 1253.27,324.76 1253.41,314.59 1253.55,328.65 1253.69,307.85 1253.84,326.58 1253.98,308.28 1254.12,315.84 1254.26,322.3 1254.4,321.93 1254.55,297.47 1254.69,332.03 1254.83,323.97 1254.97,312.42 1255.11,294.73 1255.26,298.6 1255.4,336.59 1255.54,281.83 1255.68,334.2 1255.82,318.59 1255.96,318.75 1256.11,330.01 1256.25,335.45 1256.39,300.87 1256.53,343.98 1256.67,334.48 1256.82,308.32 1256.96,283.66 1257.1,325.09 1257.24,312.25 1257.38,325.31 1257.53,311.45 1257.67,328.53 1257.81,301.99 1257.95,326.04 1258.09,281.98 1258.23,328.97 1258.38,309.42 1258.52,311.96 1258.66,340.16 1258.8,313.09 1258.94,309.33 1259.09,292.87 1259.23,286.88 1259.37,303.13 1259.51,312.52 1259.65,324.88 1259.8,288.16 1259.94,302.5 1260.08,298.41 1260.22,300.45 1260.36,294.12 1260.5,318.04 1260.65,302.46 1260.79,282.3 1260.93,277.83 1261.07,298.84 1261.21,324.49 1261.36,323.99 1261.5,333.07 1261.64,322.63 1261.78,326.3 1261.92,332.7 1262.07,342.47 1262.21,285.15 1262.35,298.02 1262.49,323.09 1262.63,321.1 1262.77,326.39 1262.92,316.94 1263.06,337.99 1263.2,280.9 1263.34,306.84 1263.48,299.18 1263.63,299.36 1263.77,322.28 1263.91,272.21 1264.05,338.5 1264.19,319.03 1264.34,282.26 1264.48,328.42 1264.62,332.95 1264.76,340.44 1264.9,316.91 1265.04,315.24 1265.19,345.27 1265.33,328.48 1265.47,338.8 1265.61,327.73 1265.75,298.88 1265.9,316.44 1266.04,311.49 1266.18,320.5 1266.32,319.51 1266.46,318.24 1266.61,307.38 1266.75,324.63 1266.89,302.7 1267.03,312.39 1267.17,312.39 1267.31,315.13 1267.46,318.93 1267.6,328.73 1267.74,319.32 1267.88,297.43 1268.02,297.98 1268.17,323.87 1268.31,296.29 1268.45,336.86 1268.59,300.57 1268.73,320.47 1268.88,335.4 1269.02,323.35 1269.16,338.05 1269.3,327.46 1269.44,310.1 1269.58,323.71 1269.73,321.64 1269.87,326.48 1270.01,331.62 1270.15,309.06 1270.29,301.76 1270.44,325.95 1270.58,294.31 1270.72,315.31 1270.86,324.53 1271,312.78 1271.14,315.59 1271.29,313.26 1271.43,296.06 1271.57,302.66 1271.71,305.64 1271.85,281.26 1272,321.18 1272.14,311.56 1272.28,340.73 1272.42,320.4 1272.56,309.53 1272.71,284.2 1272.85,282.99 1272.99,311.59 1273.13,284.11 1273.27,295.89 1273.41,312.89 1273.56,316.27 1273.7,335.69 1273.84,330.45 1273.98,295.97 1274.12,279.02 1274.27,320 1274.41,287.8 1274.55,309.31 1274.69,307.58 1274.83,323.27 1274.98,317.89 1275.12,309.7 1275.26,270.22 1275.4,289.09 1275.54,315.49 1275.68,308.52 1275.83,307.54 1275.97,311.84 1276.11,286.01 1276.25,323.78 1276.39,316.96 1276.54,306.62 1276.68,300.92 1276.82,304.79 1276.96,314.03 1277.1,362.4 1277.25,307.42 1277.39,329.7 1277.53,275.57 1277.67,321.74 1277.81,348.62 1277.95,324.28 1278.1,327.08 1278.24,320.29 1278.38,295.69 1278.52,316.26 1278.66,362.4 1278.81,330.43 1278.95,312.81 1279.09,321.42 1279.23,323.41 1279.37,338.24 1279.52,312.68 1279.66,334.32 1279.8,301.47 1279.94,301.64 1280.08,323.54 1280.22,301.9 1280.37,324.98 1280.51,336 1280.65,329.94 1280.79,312.45 1280.93,324.58 1281.08,285.28 1281.22,340.09 1281.36,289.07 1281.5,287.27 1281.64,311.46 1281.79,307.55 1281.93,312.77 1282.07,290.11 1282.21,319.65 1282.35,308.81 1282.49,304.89 1282.64,336.67 1282.78,305.1 1282.92,301.51 1283.06,316.97 1283.2,320.39 1283.35,301.47 1283.49,312.6 1283.63,304.32 1283.77,315.03 1283.91,308.7 1284.06,318.07 1284.2,283.06 1284.34,298.68 1284.48,296.21 1284.62,322.13 1284.77,323.96 1284.91,317.15 1285.05,290.56 1285.19,311.93 1285.33,310.86 1285.47,324.01 1285.62,341.27 1285.76,295.21 1285.9,336.27 1286.04,317.3 1286.18,312.15 1286.33,312.25 1286.47,326.34 1286.61,285.29 1286.75,319.35 1286.89,318.08 1287.04,335.54 1287.18,303.49 1287.32,274.55 1287.46,317.6 1287.6,316.21 1287.74,347.02 1287.89,320.59 1288.03,320.9 1288.17,316.91 1288.31,316.23 1288.45,303.99 1288.6,326.66 1288.74,306.92 1288.88,328.73 1289.02,325.51 1289.16,300.66 1289.31,335.87 1289.45,300.54 1289.59,289.18 1289.73,312.65 1289.87,294.89 1290.01,266.4 1290.16,303.89 1290.3,326.18 1290.44,319.81 1290.58,288.09 1290.72,325.56 1290.87,309.88 1291.01,317.08 1291.15,338.18 1291.29,302.42 1291.43,312.67 1291.58,293.23 1291.72,279.84 1291.86,322.07 1292,353.17 1292.14,326.8 1292.28,318.12 1292.43,306.58 1292.57,266.4 1292.71,326.72 1292.85,362.4 1292.99,304.66 1293.14,299.41 1293.28,312.97 1293.42,313.43 1293.56,320.06 1293.7,310.2 1293.85,294.53 1293.99,334.96 1294.13,329.12 1294.27,317.75 1294.41,317.57 1294.55,340.03 1294.7,288.4 1294.84,327.46 1294.98,317.84 1295.12,313.61 1295.26,311.83 1295.41,279.25 1295.55,333.12 1295.69,306.76 1295.83,302.3 1295.97,323.78 1296.12,331.42 1296.26,290.37 1296.4,314.18 1296.54,329.91 1296.68,303.49 1296.82,320.11 1296.97,321.26 1297.11,308.1 1297.25,324.18 1297.39,288.46 1297.53,306.18 1297.68,325.71 1297.82,320.82 1297.96,336.91 1298.1,331.62 1298.24,316.55 1298.38,346.63 1298.53,281.63 1298.67,327.37 1298.81,322.77 1298.95,314 1299.09,328.42 1299.24,312.02 1299.38,282.37 1299.52,319.39 1299.66,301.52 1299.8,311.63 1299.95,302.1 1300.09,330.77 1300.23,338.83 1300.37,273.92 1300.51,341.84 1300.65,320.5 1300.8,291.34 1300.94,284.1 1301.08,316.93 1301.22,324.91 1301.36,315.64 1301.51,332.61 1301.65,308.93 1301.79,323.68 1301.93,299.78 1302.07,319.31 1302.22,309.95 1302.36,315.4 1302.5,326.96 1302.64,311.75 1302.78,333.36 1302.92,326.17 1303.07,313.39 1303.21,308.42 1303.35,322.07 1303.49,319.01 1303.63,315.17 1303.78,308.05 1303.92,307.2 1304.06,301.73 1304.2,319.19 1304.34,304.75 1304.49,330.92 1304.63,346.79 1304.77,273.01 1304.91,309.52 1305.05,302.04 1305.19,286.91 1305.34,325.64 1305.48,294.49 1305.62,314.65 1305.76,290.84 1305.9,286.11 1306.05,299.76 1306.19,325.72 1306.33,277.39 1306.47,307.72 1306.61,326.06 1306.76,274.31 1306.9,351.95 1307.04,297.62 1307.18,326.13 1307.32,305.53 1307.46,316.54 1307.61,304.23 1307.75,287.64 1307.89,329.34 1308.03,315.51 1308.17,327.75 1308.32,320.76 1308.46,320.56 1308.6,331.67 1308.74,322.58 1308.88,316.48 1309.03,305.8 1309.17,303.15 1309.31,302.91 1309.45,292.1 1309.59,322.63 1309.73,333.7 1309.88,315.55 1310.02,314.7 1310.16,285.53 1310.3,305.13 1310.44,313.64 1310.59,326.44 1310.73,321.52 1310.87,308.2 1311.01,307.54 1311.15,307.24 1311.3,312.03 1311.44,320.39 1311.58,309.85 1311.72,309.2 1311.86,284.11 1312.01,273.62 1312.15,314.38 1312.29,320.95 1312.43,277.63 1312.57,312.75 1312.71,303.29 1312.86,315.86 1313,304.49 1313.14,315.53 1313.28,324.09 1313.42,321.97 1313.57,314.65 1313.71,298.32 1313.85,282.63 1313.99,326.7 1314.13,325.02 1314.28,326.17 1314.42,298.27 1314.56,351.03 1314.7,342.21 1314.84,315.99 1314.98,300.78 1315.13,295.56 1315.27,332.69 1315.41,312.2 1315.55,307.53 1315.69,283.81 1315.84,278.18 1315.98,311.69 1316.12,313.26 1316.26,300.1 1316.4,301.41 1316.55,319.92 1316.69,328.82 1316.83,326.91 1316.97,312.64 1317.11,315.7 1317.25,332.65 1317.4,299.88 1317.54,300.04 1317.68,312.76 1317.82,321.21 1317.96,331.08 1318.11,292.82 1318.25,334.65 1318.39,314.01 1318.53,302.16 1318.67,299.1 1318.82,312.72 1318.96,345.92 1319.1,302.92 1319.24,318.76 1319.38,331.95 1319.52,313.92 1319.67,319.02 1319.81,332.56 1319.95,316.12 1320.09,303.55 1320.23,343.43 1320.38,322.16 1320.52,342.28 1320.66,313.59 1320.8,311.52 1320.94,295.41 1321.09,312.88 1321.23,316.73 1321.37,302.28 1321.51,284.22 1321.65,296.75 1321.79,306.9 1321.94,310.27 1322.08,334.51 1322.22,314.38 1322.36,310.54 1322.5,310.97 1322.65,275.13 1322.79,322.49 1322.93,302.94 1323.07,296.17 1323.21,294.97 1323.36,283.28 1323.5,318.05 1323.64,289.42 1323.78,321.97 1323.92,317.52 1324.06,333.42 1324.21,314.63 1324.35,315.25 1324.49,302.77 1324.63,319.49 1324.77,304.65 1324.92,291.84 1325.06,331.37 1325.2,320.72 1325.34,326.22 1325.48,282.82 1325.62,344.39 1325.77,293.32 1325.91,315.53 1326.05,315.05 1326.19,293.15 1326.33,290.79 1326.48,318.09 1326.62,316.53 1326.76,298.7 1326.9,327.16 1327.04,307.4 1327.19,336.47 1327.33,330.28 1327.47,308.28 1327.61,328.1 1327.75,315.49 1327.89,298.57 1328.04,332.27 1328.18,316.79 1328.32,307.25 1328.46,322.81 1328.6,312.48 1328.75,330.4 1328.89,312.89 1329.03,319.64 1329.17,329 1329.31,309.93 1329.46,349.52 1329.6,306.72 1329.74,295.1 1329.88,336.25 1330.02,325.68 1330.16,302.32 1330.31,301.94 1330.45,317.48 1330.59,304.04 1330.73,315.7 1330.87,324.06 1331.02,289.04 1331.16,334.52 1331.3,286.93 1331.44,307.29 1331.58,304.4 1331.73,323.63 1331.87,299.01 1332.01,290.68 1332.15,315.39 1332.29,292.23 1332.43,320.98 1332.58,304.85 1332.72,303.74 1332.86,283.82 1333,312.61 1333.14,326.18 1333.29,307.67 1333.43,321.26 1333.57,344.25 1333.71,336.1 1333.85,339.85 1334,309.6 1334.14,319.73 1334.28,333.24 1334.42,309.29 1334.56,315.03 1334.7,306.05 1334.85,295.28 1334.99,325.66 1335.13,328.8 1335.27,326.17 1335.41,303.42 1335.56,302.58 1335.7,317.71 1335.84,316.02 1335.98,288.62 1336.12,301.66 1336.27,299.16 1336.41,325.61 1336.55,321.73 1336.69,304.33 1336.83,303.85 1336.97,300.91 1337.12,301.4 1337.26,321.63 1337.4,333.03 1337.54,266.4 1337.68,315.08 1337.83,326.77 1337.97,335.31 1338.11,328.71 1338.25,324.42 1338.39,290.33 1338.54,310.71 1338.68,280.54 1338.82,332.52 1338.96,291.88 1339.1,328.84 1339.24,309.14 1339.39,316.57 1339.53,328.49 1339.67,313.75 1339.81,305.12 1339.95,322.15 1340.1,330.03 1340.24,305.41 1340.38,304.07 1340.52,319.12 1340.66,320.44 1340.81,291.94 1340.95,318.4 1341.09,351.89 1341.23,324.34 1341.37,286.49 1341.52,304.75 1341.66,310.01 1341.8,319.63 1341.94,302.54 1342.08,294.62 1342.22,316.85 1342.37,310.14 1342.51,323.8 1342.65,292.52 1342.79,321.99 1342.93,339.83 1343.08,299.22 1343.22,334.92 1343.36,297.26 1343.5,308.79 1343.64,310.4 1343.79,305.85 1343.93,302.64 1344.07,315.15 1344.21,339.08 1344.35,335.02 1344.49,296.84 1344.64,291.4 1344.78,295.39 1344.92,319.42 1345.06,283.63 1345.2,287.36 1345.35,307.49 1345.49,300.97 1345.63,308.28 1345.77,307.03 1345.91,312.63 1346.06,294.22 1346.2,313.39 1346.34,342.09 1346.48,313.63 1346.62,297.33 1346.76,286.81 1346.91,318.35 1347.05,310.9 1347.19,333.32 1347.33,316.19 1347.47,291.17 1347.62,350.76 1347.76,315.66 1347.9,309.96 1348.04,296.11 1348.18,338.58 1348.33,286.15 1348.47,308.15 1348.61,295 1348.75,321.63 1348.89,319.8 1349.03,298.48 1349.18,270.33 1349.32,310.7 1349.46,305.81 1349.6,324.23 1349.74,294.43 1349.89,292.06 1350.03,327.05 1350.17,299.58 1350.31,322.45 1350.45,312.79 1350.6,297.46 1350.74,289.5 1350.88,296.23 1351.02,297.83 1351.16,307.9 1351.3,302.68 1351.45,312.97 1351.59,298.11 1351.73,317.67 1351.87,278.47 1352.01,324.4 1352.16,287.95 1352.3,307.19 1352.44,327.76 1352.58,289.68 1352.72,284.31 1352.87,319.96 1353.01,314.31 1353.15,341.8 1353.29,304.15 1353.43,281.81 1353.57,292.45 1353.72,306.27 1353.86,316.16 1354,315.57 1354.14,314.64 1354.28,341.54 1354.43,340.34 1354.57,314.42 1354.71,314.53 1354.85,311.37 1354.99,302.47 1355.13,305.48 1355.28,282.71 1355.42,295.57 1355.56,294.79 1355.7,311.38 1355.84,362.4 1355.99,334.78 1356.13,314.48 1356.27,303.02 1356.41,335.64 1356.55,306.98 1356.7,312.87 1356.84,290.81 1356.98,321.15 1357.12,297.83 1357.26,329.29 1357.4,291.89 1357.55,330.31 1357.69,300.63 1357.83,307.15 1357.97,303.99 1358.11,284.59 1358.26,341.35 1358.4,308.27 1358.54,283.17 1358.68,326.48 1358.82,285.93 1358.97,292.71 1359.11,324.51 1359.25,312.53 1359.39,325.45 1359.53,282.75 1359.67,324.18 1359.82,283.57 1359.96,329.09 1360.1,289.78 1360.24,308.66 1360.38,317.76 1360.53,320.31 1360.67,336.97 1360.81,294.14 1360.95,297.89 1361.09,311.63 1361.24,338.24 1361.38,336.34 1361.52,327.11 1361.66,283.4 1361.8,296.56 1361.94,291.94 1362.09,315.43 1362.23,322.56 1362.37,334.24 1362.51,297.1 1362.65,323.16 1362.8,327.4 1362.94,312.13 1363.08,314.5 1363.22,303.62 1363.36,306.13 1363.51,312.01 1363.65,324.32 1363.79,299.06 1363.93,315.38 1364.07,296.34 1364.21,329.11 1364.36,266.4 1364.5,315.37 1364.64,321.73 1364.78,283.07 1364.92,301.34 1365.07,317.17 1365.21,309.37 1365.35,341.01 1365.49,339.23 1365.63,287.79 1365.78,282.41 1365.92,303.73 1366.06,315.32 1366.2,313.17 1366.34,316.68 1366.48,339.92 1366.63,293.12 1366.77,317.92 1366.91,288.66 1367.05,320.54 1367.19,315.38 1367.34,306.61 1367.48,300.69 1367.62,323.21 1367.76,320.83 1367.9,303.05 1368.05,313.5 1368.19,311.32 1368.33,310.18 1368.47,347.02 1368.61,320.37 1368.76,334.15 1368.9,288.27 1369.04,341.62 1369.18,332.79 1369.32,298.9 1369.46,316.57 1369.61,306.44 1369.75,306.2 1369.89,307.95 1370.03,293.23 1370.17,310.76 1370.32,328.28 1370.46,319.86 1370.6,300.57 1370.74,298.51 1370.88,342.88 1371.03,343.23 1371.17,323.91 1371.31,299.8 1371.45,314.2 1371.59,281.09 1371.73,348.24 1371.88,322.88 1372.02,319.77 1372.16,310.5 1372.3,286.84 1372.44,317.36 1372.59,285.89 1372.73,321.77 1372.87,295.92 1373.01,321.66 1373.15,306.69 1373.3,323.7 1373.44,336.47 1373.58,318.22 1373.72,315.57 1373.86,310.83 1374,322.81 1374.15,320.14 1374.29,293.42 1374.43,310.68 1374.57,296.62 1374.71,317.61 1374.86,299.4 1375,309.67 1375.14,312.52 1375.28,320.86 1375.42,303.62 1375.57,306.18 1375.71,319.27 1375.85,331.17 1375.99,312.95 1376.13,330.21 1376.27,329.29 1376.42,301.86 1376.56,334.44 1376.7,341.58 1376.84,324.21 1376.98,293.41 1377.13,309.21 1377.27,323.2 1377.41,310.16 1377.55,312.24 1377.69,340.97 1377.84,305.96 1377.98,302.71 1378.12,295.68 1378.26,303.68 1378.4,329.21 1378.54,294.39 1378.69,294.15 1378.83,313.14 1378.97,305.42 1379.11,317.1 1379.25,324.57 1379.4,328.55 1379.54,329.18 1379.68,279.98 1379.82,322.52 1379.96,296.4 1380.11,314.77 1380.25,298.51 1380.39,272.23 1380.53,329.61 1380.67,324.35 1380.81,284.81 1380.96,347.31 1381.1,302.93 1381.24,302.48 1381.38,301.47 1381.52,278.85 1381.67,319.9 1381.81,338.75 1381.95,307.32 1382.09,324.11 1382.23,266.4 1382.38,304.73 1382.52,302.94 1382.66,278.41 1382.8,303.16 1382.94,296 1383.08,310.3 1383.23,304.76 1383.37,333.44 1383.51,330.31 1383.65,307.33 1383.79,303.81 1383.94,310.55 1384.08,308.12 1384.22,327.64 1384.36,328.99 1384.5,322.62 1384.64,292.08 1384.79,302.81 1384.93,293.45 1385.07,317.15 1385.21,308.12 1385.35,323.12 1385.5,281.85 1385.64,326.18 1385.78,319.8 1385.92,303.67 1386.06,302.44 1386.21,357.2 1386.35,315.53 1386.49,317.24 1386.63,326.61 1386.77,318.23 1386.91,320.96 1387.06,319.42 1387.2,320.33 1387.34,324 1387.48,289.92 1387.62,292.25 1387.77,310.6 1387.91,286.9 1388.05,317.7 1388.19,288.64 1388.33,313.39 1388.48,311.35 1388.62,272.64 1388.76,312.93 1388.9,319.01 1389.04,281.63 1389.18,296.01 1389.33,317.47 1389.47,297.14 1389.61,324.91 1389.75,319.37 1389.89,283.05 1390.04,317.7 1390.18,324.49 1390.32,306.6 1390.46,309.14 1390.6,328.78 1390.75,287.77 1390.89,266.4 1391.03,327.59 1391.17,295.71 1391.31,305.19 1391.45,266.4 1391.6,299.12 1391.74,306.3 1391.88,298.26 1392.02,290.04 1392.16,342.73 1392.31,324.6 1392.45,321.15 1392.59,283.88 1392.73,298.08 1392.87,292.22 1393.02,320.37 1393.16,284.39 1393.3,307.03 1393.44,341.12 1393.58,308.48 1393.72,331.1 1393.87,297.81 1394.01,324.76 1394.15,301.93 1394.29,294.07 1394.43,311.06 1394.58,297.98 1394.72,297.03 1394.86,309.42 1395,308.95 1395.14,295.83 1395.29,334.65 1395.43,323.67 1395.57,295.17 1395.71,292.73 1395.85,312.66 1395.99,266.4 1396.14,301.98 1396.28,318.94 1396.42,318.66 1396.56,320.06 1396.7,317.98 1396.85,291.09 1396.99,275.77 1397.13,314.16 1397.27,298.83 1397.41,318.32 1397.56,323.07 1397.7,299.92 1397.84,305.3 1397.98,343.1 1398.12,323.38 1398.26,292.37 1398.41,320.38 1398.55,340.01 1398.69,299.58 1398.83,317.71 1398.97,300.33 1399.12,274.51 1399.26,313.46 1399.4,310.24 1399.54,301.65 1399.68,285.03 1399.83,315.09 1399.97,306.13 1400.11,320.14 1400.25,305.31 1400.39,309.51 1400.54,307.72 1400.68,315.66 1400.82,305.5 1400.96,321.75 1401.1,312.73 1401.24,316.52 1401.39,325.92 1401.53,332.53 1401.67,316.53 1401.81,305.42 1401.95,315.49 1402.1,303.81 1402.24,284.43 1402.38,339.71 1402.52,301.27 1402.66,312.06 1402.81,309.15 1402.95,300.8 1403.09,304.53 1403.23,321 1403.37,317.92 1403.51,306.7 1403.66,308.99 1403.8,338.82 1403.94,300.22 1404.08,306.88 1404.22,325.78 1404.37,339.52 1404.51,327.83 1404.65,324.99 1404.79,310.74 1404.93,317.88 1405.08,329.68 1405.22,329.93 1405.36,334.91 1405.5,297.9 1405.64,329.22 1405.78,321.61 1405.93,304.95 1406.07,300.05 1406.21,308.73 1406.35,301.28 1406.49,305.63 1406.64,305.3 1406.78,309.95 1406.92,266.4 1407.06,317.81 1407.2,321.16 1407.35,325.37 1407.49,315.66 1407.63,323.14 1407.77,295.36 1407.91,290.8 1408.05,331.11 1408.2,325.95 1408.34,289.24 1408.48,325.3 1408.62,295.58 1408.76,333.42 1408.91,330.05 1409.05,312.38 1409.19,305.82 1409.33,311.95 1409.47,283.28 1409.62,327.76 1409.76,307.02 1409.9,310.31 1410.04,283.3 1410.18,335.01 1410.32,320.43 1410.47,319.69 1410.61,308.87 1410.75,304.19 1410.89,285.57 1411.03,334.08 1411.18,308.18 1411.32,325.98 1411.46,317.72 1411.6,309.28 1411.74,320.2 1411.88,313.28 1412.03,323.9 1412.17,325.67 1412.31,306.74 1412.45,324.93 1412.59,327.92 1412.74,287.39 1412.88,304.57 1413.02,298.37 1413.16,302.38 1413.3,322.04 1413.45,320.84 1413.59,324.09 1413.73,317.06 1413.87,305.21 1414.01,314.84 1414.15,306.27 1414.3,326.66 1414.44,338.19 1414.58,311.12 1414.72,332.21 1414.86,309.93 1415.01,303.19 1415.15,320.48 1415.29,331.91 1415.43,301.61 1415.57,305.62 1415.72,302.74 1415.86,338.75 1416,317.03 1416.14,321.08 1416.28,332.72 1416.42,325.71 1416.57,336.07 1416.71,307.81 1416.85,321.17 1416.99,299.1 1417.13,326.83 1417.28,312.7 1417.42,316.89 1417.56,322.68 1417.7,290.45 1417.84,294.17 1417.99,313.04 1418.13,306.87 1418.27,309.31 1418.41,273.97 1418.55,341.06 1418.69,303.03 1418.84,319.88 1418.98,328.86 1419.12,286.75 1419.26,307.67 1419.4,334.72 1419.55,303.59 1419.69,326.54 1419.83,320.05 1419.97,307.13 1420.11,299.18 1420.26,306.84 1420.4,304.71 1420.54,327.81 1420.68,340.23 1420.82,281 1420.96,314.44 1421.11,307.34 1421.25,306.53 1421.39,331.69 1421.53,304.54 1421.67,301.95 1421.82,322.28 1421.96,314.15 1422.1,331.99 1422.24,324.02 1422.38,295.92 1422.53,321.95 1422.67,319.77 1422.81,318.83 1422.95,335.89 1423.09,332.41 1423.24,300.82 1423.38,310.13 1423.52,315.37 1423.66,332.39 1423.8,307.02 1423.94,309.06 1424.09,283.67 1424.23,323.87 1424.37,312.73 1424.51,304.76 1424.65,335.79 1424.8,329.87 1424.94,331.72 1425.08,307.44 1425.22,313.27 1425.36,307.14 1425.51,333.13 1425.65,314.38 1425.79,308.08 1425.93,296.65 1426.07,326.24 1426.21,298.05 1426.36,325.03 1426.5,334.71 1426.64,300.15 1426.78,286.15 1426.92,309.38 1427.07,274.83 1427.21,306.76 1427.35,308.09 1427.49,339.18 1427.63,335.41 1427.78,318.3 1427.92,328.2 1428.06,314.81 1428.2,314.49 1428.34,320.19 1428.48,330.5 1428.63,306.06 1428.77,318.29 1428.91,301.95 1429.05,266.4 1429.19,307.54 1429.34,319.81 1429.48,313.7 1429.62,308.44 1429.76,305.77 1429.9,298.42 1430.05,321.12 1430.19,299.59 1430.33,324.71 1430.47,318.76 1430.61,308.48 1430.75,309.94 1430.9,292.48 1431.04,316.49 1431.18,332.78 1431.32,313.93 1431.46,268.43 1431.61,323.86 1431.75,306.51 1431.89,301.53 1432.03,310.88 1432.17,332.45 1432.32,316.48 1432.46,312.2 1432.6,331 1432.74,293.18 1432.88,304.19 1433.02,321.96 1433.17,334.12 1433.31,303.59 1433.45,311.19 1433.59,293.95 1433.73,297.38 1433.88,307.44 1434.02,291.85 1434.16,353.88 1434.3,312.87 1434.44,323.73 1434.59,343.74 1434.73,313.82 1434.87,300.45 1435.01,306.89 1435.15,308.17 1435.29,325.02 1435.44,325.46 1435.58,306.98 1435.72,320.92 1435.86,317.09 1436,295.74 1436.15,333.33 1436.29,328.65 1436.43,319.77 1436.57,312.24 1436.71,315.75 1436.86,309.33 1437,301.96 1437.14,287.68 1437.28,293.74 1437.42,308.38 1437.56,272.78 1437.71,323.95 1437.85,282.94 1437.99,319.68 1438.13,330.2 1438.27,321.87 1438.42,307.41 1438.56,303.03 1438.7,299.68 1438.84,327.4 1438.98,318.06 1439.12,303.23 1439.27,328.01 1439.41,309.9 1439.55,312.99 1439.69,317.65 1439.83,311.99 1439.98,309.12 1440.12,318.43 1440.26,313.13 1440.4,305.71 1440.54,292.35 1440.69,307.43 1440.83,301.24 1440.97,304.12 1441.11,306.09 1441.25,286.86 1441.39,318.44 1441.54,270.16 1441.68,275.92 1441.82,301.63 1441.96,290.04 1442.1,315.83 1442.25,323.53 1442.39,311.67 1442.53,320.59 1442.67,313.85 1442.81,303.17 1442.96,309.06 1443.1,318.13 1443.24,320.21 1443.38,314.37 1443.52,315.6 1443.66,330.51 1443.81,310.38 1443.95,317.77 1444.09,296.05 1444.23,332.04 1444.37,328.2 1444.52,287.14 1444.66,330.31 1444.8,283.06 1444.94,331.04 1445.08,314.31 1445.23,324.05 1445.37,313.62 1445.51,322.78 1445.65,297.46 1445.79,359.95 1445.93,329.5 1446.08,338.15 1446.22,312.68 1446.36,283.56 1446.5,279.9 1446.64,315.36 1446.79,298.47 1446.93,302.6 1447.07,320.43 1447.21,343.53 1447.35,318.83 1447.5,304.96 1447.64,311.38 1447.78,315.69 1447.92,346.48 1448.06,314.42 1448.2,320.11 1448.35,317.82 1448.49,293.89 1448.63,341.76 1448.77,316.38 1448.91,311.89 1449.06,310.8 1449.2,308.4 1449.34,299.18 1449.48,315.49 1449.62,299.49 1449.77,341.49 1449.91,323.18 1450.05,324.75 1450.19,327.58 1450.33,332.73 1450.47,301.4 1450.62,326.84 1450.76,321.22 1450.9,352.01 1451.04,311.01 1451.18,321.98 1451.33,330.2 1451.47,317.35 1451.61,310.93 1451.75,314.12 1451.89,293.59 1452.04,307.07 1452.18,329.73 1452.32,294.87 1452.46,276.01 1452.6,332.66 1452.74,305.13 1452.89,321.63 1453.03,284.82 1453.17,290.21 1453.31,304.17 1453.45,320.43 1453.6,327.38 1453.74,289.77 1453.88,307.68 1454.02,299.51 1454.16,279.25 1454.31,350.3 1454.45,323.61 1454.59,297.66 1454.73,314.53 1454.87,334.14 1455.01,308.75 1455.16,297.33 1455.3,306.36 1455.44,300.14 1455.58,315.97 1455.72,333.44 1455.87,287.96 1456.01,316.54 1456.15,313.94 1456.29,320.84 1456.43,293.63 1456.58,309.56 1456.72,325.9 1456.86,337.83 1457,327.76 1457.14,283.37 1457.29,290.9 1457.43,332.28 1457.57,319.1 1457.71,322.11 1457.85,318.57 1457.99,294.63 1458.14,270.59 1458.28,344.6 1458.42,284.92 1458.56,316.16 1458.7,306.1 1458.85,298.98 1458.99,302.68 1459.13,332.91 1459.27,318.52 1459.41,331.6 1459.56,309.93 1459.7,300.23 1459.84,315.82 1459.98,306.54 1460.12,317.26 1460.26,327.92 1460.41,309.19 1460.55,315.75 1460.69,309.38 1460.83,299.79 1460.97,317.79 1461.12,298.99 1461.26,321.4 1461.4,307.8 1461.54,296.45 1461.68,328.89 1461.83,312.97 1461.97,297.27 1462.11,354.84 1462.25,297.25 1462.39,295.61 1462.53,316.43 1462.68,280.26 1462.82,317.78 1462.96,283.56 1463.1,310.26 1463.24,308.76 1463.39,314.98 1463.53,315.6 1463.67,286.02 1463.81,337.7 1463.95,325.72 1464.1,312.82 1464.24,292.42 1464.38,308.09 1464.52,295.13 1464.66,294.54 1464.8,322.52 1464.95,318.43 1465.09,306.14 1465.23,358.77 1465.37,314.16 1465.51,307.81 1465.66,323.37 1465.8,296.25 1465.94,311.28 1466.08,331.08 1466.22,291.68 1466.37,313.91 1466.51,317.24 1466.65,294.89 1466.79,316.4 1466.93,315.69 1467.07,302.57 1467.22,325.17 1467.36,316.65 1467.5,299.82 1467.64,306.96 1467.78,306.1 1467.93,335.98 1468.07,277.64 1468.21,322.59 1468.35,327.86 1468.49,318.26 1468.63,316.29 1468.78,307.85 1468.92,329.97 1469.06,303.08 1469.2,301.7 1469.34,291.77 1469.49,316.98 1469.63,305 1469.77,317.99 1469.91,316.51 1470.05,292.86 1470.2,324.01 1470.34,308.88 1470.48,304.13 1470.62,340.87 1470.76,320.05 1470.9,300.59 1471.05,305.7 1471.19,324.08 1471.33,305.18 1471.47,325.64 1471.61,266.4 1471.76,296.23 1471.9,327.59 1472.04,326.81 1472.18,322.01 1472.32,309.1 1472.47,305.51 1472.61,358.18 1472.75,288.46 1472.89,308.77 1473.03,326.27 1473.17,318.59 1473.32,309.48 1473.46,296.6 1473.6,301.25 1473.74,308.05 1473.88,344.88 1474.03,315.94 1474.17,310.59 1474.31,291.59 1474.45,343.31 1474.59,303.95 1474.74,327.08 1474.88,324.2 1475.02,337.01 1475.16,305.92 1475.3,309.87 1475.44,283.95 1475.59,302.65 1475.73,330.72 1475.87,325.23 1476.01,303.35 1476.15,324.39 1476.3,330.26 1476.44,344.73 1476.58,324.81 1476.72,299.74 1476.86,318.01 1477.01,307.07 1477.15,325.27 1477.29,324.12 1477.43,297.59 1477.57,311.77 1477.71,314.73 1477.86,320.14 1478,266.4 1478.14,312.03 1478.28,285.04 1478.42,314.4 1478.57,315.75 1478.71,337.99 1478.85,327.6 1478.99,315.39 1479.13,317.43 1479.28,308.27 1479.42,289.98 1479.56,297.11 1479.7,312.96 1479.84,333.35 1479.99,294.89 1480.13,296.31 1480.27,318.81 1480.41,280.36 1480.55,327.26 1480.69,306.55 1480.84,313.22 1480.98,337.6 1481.12,307.64 1481.26,319.47 1481.4,291.76 1481.55,349.36 1481.69,294.37 1481.83,314.71 1481.97,312.6 1482.11,290.35 1482.26,327.82 1482.4,289.94 1482.54,307.02 1482.68,319.89 1482.82,312.17 1482.96,304.06 1483.11,333.57 1483.25,297.97 1483.39,298.43 1483.53,303.49 1483.67,321.39 1483.82,302.92 1483.96,319.65 1484.1,309.84 1484.24,312.03 1484.38,341.99 1484.53,301.41 1484.67,315.38 1484.81,302.75 1484.95,289.99 1485.09,318.76 1485.23,289.79 1485.38,306.9 1485.52,316.08 1485.66,301.28 1485.8,330.02 1485.94,348.31 1486.09,312.91 1486.23,318.57 1486.37,297.48 1486.51,306.91 1486.65,321.64 1486.8,302.97 1486.94,303.62 1487.08,307.34 1487.22,296.44 1487.36,329.45 1487.5,328.56 1487.65,317.36 1487.79,323.69 1487.93,317.65 1488.07,344.53 1488.21,298.03 1488.36,323.64 1488.5,322.42 1488.64,311.68 1488.78,311.99 1488.92,312.33 1489.07,285.32 1489.21,320.35 1489.35,328.24 1489.49,324.05 1489.63,286.95 1489.77,337.31 1489.92,331.66 1490.06,322.35 1490.2,297.66 1490.34,329.8 1490.48,289.34 1490.63,309.16 1490.77,284.63 1490.91,344.41 1491.05,304.37 1491.19,294.31 1491.34,331.81 1491.48,280.74 1491.62,308.57 1491.76,319.89 1491.9,325.09 1492.04,328.66 1492.19,292.36 1492.33,328.51 1492.47,313.41 1492.61,299.58 1492.75,334.61 1492.9,309.33 1493.04,283.3 1493.18,339.56 1493.32,310.82 1493.46,321.47 1493.61,316.28 1493.75,298.62 1493.89,319.02 1494.03,305.98 1494.17,310.45 1494.31,317.16 1494.46,351.21 1494.6,304.22 1494.74,322.04 1494.88,308.84 1495.02,321.75 1495.17,319.98 1495.31,324.29 1495.45,309.63 1495.59,284.3 1495.73,321.48 1495.88,308.88 1496.02,320.58 1496.16,290.86 1496.3,304.07 1496.44,289.87 1496.58,338.69 1496.73,304.18 1496.87,303.63 1497.01,321.68 1497.15,294.64 1497.29,311.27 1497.44,323.92 1497.58,312.95 1497.72,289.07 1497.86,322.56 1498,320.94 1498.14,296.55 1498.29,294.66 1498.43,336.16 1498.57,303.05 1498.71,317.33 1498.85,298.89 1499,293.96 1499.14,308.67 1499.28,321.82 1499.42,322.89 1499.56,282.11 1499.71,311.99 1499.85,295.75 1499.99,323.92 1500.13,319.48 1500.27,283.67 1500.41,312.87 1500.56,294.14 1500.7,311.14 1500.84,283.68 1500.98,328.82 1501.12,330.17 1501.27,311.49 1501.41,318.11 1501.55,310.85 1501.69,323.02 1501.83,293.54 1501.98,274.8 1502.12,310.53 1502.26,306.7 1502.4,334.23 1502.54,312.87 1502.68,328.09 1502.83,318.51 1502.97,340.56 1503.11,319.56 1503.25,302.69 1503.39,302.13 1503.54,317.92 1503.68,339.37 1503.82,326.28 1503.96,294.46 1504.1,330.48 1504.25,315.66 1504.39,295.36 1504.53,294.26 1504.67,291.8 1504.81,310.83 1504.95,340.38 1505.1,311.64 1505.24,318.34 1505.38,311.89 1505.52,289.89 1505.66,319.1 1505.81,306.92 1505.95,320.84 1506.09,321.09 1506.23,336.16 1506.37,320.2 1506.52,335.28 1506.66,290.01 1506.8,303.49 1506.94,345.41 1507.08,301.28 1507.22,331.82 1507.37,316.44 1507.51,308.57 1507.65,290.87 1507.79,323.72 1507.93,331.17 1508.08,321.65 1508.22,315.04 1508.36,318.13 1508.5,296.31 1508.64,327.66 1508.79,334.52 1508.93,335.85 1509.07,297.87 1509.21,317.55 1509.35,317.77 1509.49,318.38 1509.64,323.83 1509.78,303.16 1509.92,276.19 1510.06,310.72 1510.2,297.23 1510.35,314.06 1510.49,314.26 1510.63,310.88 1510.77,313.85 1510.91,307.91 1511.06,313.44 1511.2,324.76 1511.34,318.31 1511.48,290.36 1511.62,314.55 1511.76,325.03 1511.91,303.91 1512.05,319.66 1512.19,319.78 1512.33,296.5 1512.47,294.04 1512.62,311.58 1512.76,307.31 1512.9,300.98 1513.04,290.71 1513.18,306.16 1513.33,296.04 1513.47,307.87 1513.61,309.15 1513.75,314.46 1513.89,327.73 1514.04,278.41 1514.18,293.39 1514.32,362.4 1514.46,308.23 1514.6,314.55 1514.74,348.15 1514.89,332.43 1515.03,303.03 1515.17,314.1 1515.31,314.84 1515.45,336.44 1515.6,308.31 1515.74,322.07 1515.88,328.25 1516.02,362.4 1516.16,290.34 1516.31,285.39 1516.45,302.5 1516.59,289.37 1516.73,296.84 1516.87,300.07 1517.01,305.15 1517.16,312.29 1517.3,308.98 1517.44,304.76 1517.58,314.46 1517.72,305.64 1517.87,315.63 1518.01,308.26 1518.15,317.91 1518.29,316.55 1518.43,306.56 1518.58,313.08 1518.72,303.66 1518.86,312.62 1519,310.58 1519.14,304.99 1519.28,292.81 1519.43,294.6 1519.57,324.11 1519.71,309.4 1519.85,284.9 1519.99,311.6 1520.14,308.62 1520.28,283.56 1520.42,325.8 1520.56,289.74 1520.7,321.09 1520.85,304.44 1520.99,323.58 1521.13,334.82 1521.27,309.69 1521.41,338.24 1521.55,269.83 1521.7,312.45 1521.84,328.38 1521.98,338.78 1522.12,289.52 1522.26,317.49 1522.41,280.25 1522.55,335.3 1522.69,330.13 1522.83,299.48 1522.97,326.66 1523.12,290.36 1523.26,308.06 1523.4,283.72 1523.54,331.24 1523.68,321.46 1523.82,318.12 1523.97,324.39 1524.11,313.43 1524.25,319.83 1524.39,327.29 1524.53,311.75 1524.68,286.48 1524.82,335.8 1524.96,316.51 1525.1,334.1 1525.24,307.45 1525.38,292.89 1525.53,298.62 1525.67,314.82 1525.81,313.48 1525.95,326.12 1526.09,324.18 1526.24,308.5 1526.38,338.66 1526.52,307.19 1526.66,327.42 1526.8,311.46 1526.95,305.54 1527.09,314.31 1527.23,309.04 1527.37,329.52 1527.51,290.33 1527.65,322.44 1527.8,313.02 1527.94,301.27 1528.08,295.05 1528.22,316.74 1528.36,317.9 1528.51,300.8 1528.65,295.95 1528.79,342.6 1528.93,315.22 1529.07,296.14 1529.22,331.16 1529.36,312.25 1529.5,327.2 1529.64,312.7 1529.78,340.03 1529.92,313.42 1530.07,301.41 1530.21,301.36 1530.35,322.23 1530.49,315.81 1530.63,308.75 1530.78,312.76 1530.92,316.17 1531.06,288.73 1531.2,318.49 1531.34,302.9 1531.49,313.63 1531.63,316.68 1531.77,316.33 1531.91,330.57 1532.05,304.75 1532.19,311.68 1532.34,292.47 1532.48,317.1 1532.62,306.57 1532.76,313.01 1532.9,321.86 1533.05,322.95 1533.19,318.47 1533.33,311.69 1533.47,306.35 1533.61,318.73 1533.76,334.36 1533.9,330.08 1534.04,308.87 1534.18,291.06 1534.32,297.12 1534.46,311.25 1534.61,293.2 1534.75,294.62 1534.89,298.62 1535.03,336.38 1535.17,303.86 1535.32,320.44 1535.46,306.77 1535.6,317.62 1535.74,304.97 1535.88,304.49 1536.03,315.59 1536.17,280.61 1536.31,294.05 1536.45,350.02 1536.59,315.39 1536.74,274.77 1536.88,309.64 1537.02,304.57 1537.16,304.93 1537.3,329.52 1537.44,312.36 1537.59,305.49 1537.73,326.66 1537.87,327.25 1538.01,314.56 1538.15,333.6 1538.3,312.42 1538.44,289.78 1538.58,303.13 1538.72,341.01 1538.86,339.44 1539.01,292.14 1539.15,309.56 1539.29,313.32 1539.43,321.74 1539.57,285.11 1539.71,329.98 1539.86,324.22 1540,309.12 1540.14,345.01 1540.28,334.31 1540.42,309.24 1540.57,324.81 1540.71,295.72 1540.85,321.56 1540.99,301.8 1541.13,297.13 1541.28,301.16 1541.42,295.14 1541.56,322.26 1541.7,310.02 1541.84,303.53 1541.98,308.21 1542.13,313.65 1542.27,327.15 1542.41,335.22 1542.55,323.75 1542.69,286.27 1542.84,287.87 1542.98,301.74 1543.12,290.5 1543.26,338.69 1543.4,305.38 1543.55,322.59 1543.69,309.64 1543.83,321.53 1543.97,305.78 1544.11,298.7 1544.25,289.77 1544.4,317.73 1544.54,324.3 1544.68,298.94 1544.82,321.41 1544.96,331.41 1545.11,305.2 1545.25,303.51 1545.39,319.8 1545.53,308.28 1545.67,304.19 1545.82,315.5 1545.96,283.11 1546.1,301.11 1546.24,273.65 1546.38,308.66 1546.52,323.71 1546.67,330.93 1546.81,286.78 1546.95,331.49 1547.09,314.21 1547.23,313.77 1547.38,313.04 1547.52,323.6 1547.66,312.68 1547.8,315.45 1547.94,312.15 1548.09,321.04 1548.23,310.75 1548.37,305.53 1548.51,326.97 1548.65,318.51 1548.79,314.6 1548.94,295.37 1549.08,295.57 1549.22,310.52 1549.36,298.35 1549.5,330.33 1549.65,303.82 1549.79,307.01 1549.93,298.09 1550.07,320.54 1550.21,285.72 1550.36,321.17 1550.5,335.08 1550.64,313.21 1550.78,319.21 1550.92,318.95 1551.06,320.14 1551.21,304.73 1551.35,303.82 1551.49,266.4 1551.63,307.25 1551.77,314.73 1551.92,325.04 1552.06,287.31 1552.2,290.36 1552.34,306.11 1552.48,302.13 1552.62,316.28 1552.77,283.63 1552.91,316.07 1553.05,299.57 1553.19,332.36 1553.33,319.68 1553.48,303.56 1553.62,311.63 1553.76,302.41 1553.9,314.85 1554.04,297.81 1554.19,310.44 1554.33,313.57 1554.47,305.15 1554.61,300.64 1554.75,313.62 1554.89,305.06 1555.04,328.45 1555.18,300.73 1555.32,324.57 1555.46,307.04 1555.6,307.45 1555.75,311.64 1555.89,316.61 1556.03,324.37 1556.17,324.98 1556.31,335.88 1556.46,323.18 1556.6,325.72 1556.74,320.35 1556.88,324.52 1557.02,316.44 1557.16,317.05 1557.31,316.08 1557.45,317.11 1557.59,304.22 1557.73,299.82 1557.87,318.73 1558.02,320.01 1558.16,311.03 1558.3,338.5 1558.44,291.28 1558.58,302.24 1558.73,304.62 1558.87,311.58 1559.01,304.27 1559.15,334.62 1559.29,330.09 1559.43,311.83 1559.58,329.84 1559.72,320.73 1559.86,301.59 1560,306.96 1560.14,320.78 1560.29,338.84 1560.43,297.03 1560.57,286.35 1560.71,291.79 1560.85,329.02 1561,289.06 1561.14,302.2 1561.28,322.65 1561.42,317.26 1561.56,346.03 1561.7,332.16 1561.85,295.48 1561.99,328.22 1562.13,267.74 1562.27,316.97 1562.41,301.47 1562.56,316.83 1562.7,305.38 1562.84,318.52 1562.98,299.52 1563.12,318.54 1563.27,306.55 1563.41,302.41 1563.55,292.2 1563.69,296.07 1563.83,307.35 1563.97,318.7 1564.12,281.74 1564.26,312.43 1564.4,326.66 1564.54,315.61 1564.68,301.75 1564.83,311.82 1564.97,302.11 1565.11,324.84 1565.25,275.99 1565.39,326.19 1565.54,301.66 1565.68,300.51 1565.82,341.62 1565.96,287.55 1566.1,297.18 1566.24,284.76 1566.39,328.42 1566.53,302.84 1566.67,323.61 1566.81,361.04 1566.95,336.68 1567.1,289.95 1567.24,322.56 1567.38,283.99 1567.52,308.14 1567.66,316.83 1567.81,337.63 1567.95,348.36 1568.09,279.93 1568.23,303.48 1568.37,277.81 1568.51,300.41 1568.66,334.52 1568.8,289.37 1568.94,312.36 1569.08,332.29 1569.22,312.4 1569.37,328.98 1569.51,301.9 1569.65,289.68 1569.79,362.4 1569.93,279.24 1570.08,311.9 1570.22,276.48 1570.36,309.96 1570.5,293.4 1570.64,291.89 1570.79,311.68 1570.93,324.84 1571.07,299.02 1571.21,313.75 1571.35,307.08 1571.49,287.21 1571.64,302.82 1571.78,311.39 1571.92,318.51 1572.06,332.04 1572.2,306.64 1572.35,288.68 1572.49,316.94 1572.63,310.09 1572.77,317.44 1572.91,315.44 1573.06,323.19 1573.2,325.8 1573.34,298.79 1573.48,335.07 1573.62,320.83 1573.76,325.91 1573.91,318.12 1574.05,321.66 1574.19,305.02 1574.33,329.22 1574.47,273.69 1574.62,327.78 1574.76,302.27 1574.9,314.24 1575.04,315.34 1575.18,317.68 1575.33,300.5 1575.47,320.67 1575.61,306.77 1575.75,298 1575.89,310.82 1576.03,311.63 1576.18,299.06 1576.32,329.71 1576.46,300.51 1576.6,317.76 1576.74,308.85 1576.89,274.71 1577.03,328.74 1577.17,290.37 1577.31,292.4 1577.45,343.9 1577.6,315.56 1577.74,319.39 1577.88,325.9 1578.02,314.69 1578.16,290.87 1578.3,337.3 1578.45,332.39 1578.59,302.9 1578.73,296.28 1578.87,326.24 1579.01,301.86 1579.16,323.56 1579.3,300.32 1579.44,309.38 1579.58,337.76 1579.72,332.45 1579.87,338.52 1580.01,322.64 1580.15,323.75 1580.29,316.69 1580.43,344.16 1580.57,292.34 1580.72,342.24 1580.86,331.23 1581,312.02 1581.14,281.74 1581.28,330.5 1581.43,293.82 1581.57,317.51 1581.71,314.89 1581.85,306.74 1581.99,291.29 1582.13,321.34 1582.28,331.68 1582.42,284.8 1582.56,345.49 1582.7,312.17 1582.84,323.68 1582.99,309.77 1583.13,303.15 1583.27,297.38 1583.41,332.8 1583.55,310.69 1583.7,308.73 1583.84,297.3 1583.98,304.62 1584.12,304.31 1584.26,325.7 1584.4,329.5 1584.55,302.26 1584.69,277.11 1584.83,328.29 1584.97,320.75 1585.11,294.23 1585.26,292.62 1585.4,324.25 1585.54,279.36 1585.68,333.72 1585.82,302.27 1585.97,303.45 1586.11,335.01 1586.25,296.78 1586.39,336.02 1586.53,311.03 1586.67,310.76 1586.82,333.63 1586.96,300 1587.1,313.28 1587.24,336 1587.38,301.33 1587.53,282.13 1587.67,297.37 1587.81,318.45 1587.95,309.71 1588.09,311.13 1588.24,319.91 1588.38,310.63 1588.52,300.59 1588.66,327.19 1588.8,322.81 1588.94,305.33 1589.09,302.09 1589.23,362.4 1589.37,293.34 1589.51,321.79 1589.65,288.01 1589.8,281.53 1589.94,334.46 1590.08,312.35 1590.22,303.73 1590.36,331.69 1590.51,310.98 1590.65,302.57 1590.79,300.98 1590.93,329.69 1591.07,316.07 1591.21,315.61 1591.36,309.85 1591.5,307.5 1591.64,287.83 1591.78,315.72 1591.92,320.12 1592.07,319.55 1592.21,329.19 1592.35,328.29 1592.49,304.91 1592.63,321.75 1592.78,306.68 1592.92,338.58 1593.06,307.59 1593.2,322.67 1593.34,299.13 1593.49,320.43 1593.63,290.35 1593.77,284.32 1593.91,318.99 1594.05,324.94 1594.19,332.3 1594.34,316.56 1594.48,319.72 1594.62,310.74 1594.76,327.15 1594.9,304.6 1595.05,307.49 1595.19,354.84 1595.33,301.44 1595.47,327.35 1595.61,309.24 1595.76,322.72 1595.9,314.28 1596.04,298.7 1596.18,297.91 1596.32,287.84 1596.46,341.22 1596.61,327.39 1596.75,294.86 1596.89,299.69 1597.03,351.28 1597.17,314.4 1597.32,313.26 1597.46,304.64 1597.6,312.04 1597.74,298.17 1597.88,279.95 1598.03,312.19 1598.17,311.5 1598.31,325.58 1598.45,307.21 1598.59,283.53 1598.73,329.29 1598.88,322.8 1599.02,313.26 1599.16,341.26 1599.3,333.83 1599.44,298.76 1599.59,311.06 1599.73,310.52 1599.87,306.93 1600.01,332.13 1600.15,328.83 1600.3,297.39 1600.44,329.59 1600.58,334.04 1600.72,311.53 1600.86,309.46 1601,293 1601.15,312.13 1601.29,320.96 1601.43,288.75 1601.57,297.7 1601.71,294.66 1601.86,303.44 1602,317.74 1602.14,312.91 1602.28,312.9 1602.42,300.87 1602.57,327.15 1602.71,322.1 1602.85,313.44 1602.99,301.46 1603.13,294.87 1603.27,317.78 1603.42,314.87 1603.56,317.74 1603.7,331.42 1603.84,324.28 1603.98,276.1 1604.13,309.62 1604.27,307.72 1604.41,325.3 1604.55,303.98 1604.69,316.44 1604.84,325.28 1604.98,294.07 1605.12,329.61 1605.26,319.01 1605.4,311.24 1605.54,287.81 1605.69,304.4 1605.83,297.94 1605.97,313.47 1606.11,311.65 1606.25,314.52 1606.4,318.7 1606.54,306.19 1606.68,322.9 1606.82,293.18 1606.96,326.22 1607.11,329.93 1607.25,320.71 1607.39,327.22 1607.53,323.15 1607.67,303.65 1607.81,296.52 1607.96,338.43 1608.1,300.92 1608.24,304.36 1608.38,313.23 1608.52,275 1608.67,292.41 1608.81,314.78 1608.95,305.2 1609.09,290.87 1609.23,300.03 1609.38,296.02 1609.52,330.57 1609.66,311.18 1609.8,312.9 1609.94,326.96 1610.08,295.83 1610.23,310.81 1610.37,304.9 1610.51,316.96 1610.65,312.5 1610.79,325.97 1610.94,312.09 1611.08,326.07 1611.22,296.92 1611.36,331.36 1611.5,305.95 1611.64,298.42 1611.79,313.9 1611.93,303.04 1612.07,306.62 1612.21,296.26 1612.35,312.01 1612.5,300.2 1612.64,309.93 1612.78,316.02 1612.92,294.04 1613.06,297.4 1613.21,311.38 1613.35,305.05 1613.49,284.72 1613.63,316.33 1613.77,328.94 1613.91,295.9 1614.06,332.48 1614.2,315.16 1614.34,339.41 1614.48,296.66 1614.62,294.5 1614.77,309.85 1614.91,315.45 1615.05,292.98 1615.19,276.97 1615.33,308.54 1615.48,318.75 1615.62,297.56 1615.76,313.55 1615.9,304.62 1616.04,280.4 1616.18,297.36 1616.33,318.44 1616.47,316.09 1616.61,320.7 1616.75,320.77 1616.89,301.29 1617.04,303.31 1617.18,316.87 1617.32,336.89 1617.46,335.21 1617.6,292.74 1617.75,305.69 1617.89,310.72 1618.03,313.99 1618.17,300.76 1618.31,332.68 1618.45,335.43 1618.6,315.36 1618.74,321.78 1618.88,341.4 1619.02,295.02 1619.16,291.55 1619.31,302.24 1619.45,332.24 1619.59,320.11 1619.73,319.85 1619.87,290.58 1620.02,337.72 1620.16,314.25 1620.3,342.89 1620.44,309.31 1620.58,315.41 1620.72,309.18 1620.87,339.02 1621.01,326.69 1621.15,317.48 1621.29,317.6 1621.43,283.07 1621.58,314.64 1621.72,305.47 1621.86,266.96 1622,330.25 1622.14,312.64 1622.29,313.39 1622.43,301.19 1622.57,324.5 1622.71,306.85 1622.85,294.57 1622.99,294.36 1623.14,311.2 1623.28,320.39 1623.42,343.15 1623.56,297.42 1623.7,299.22 1623.85,326.7 1623.99,308.27 1624.13,298.87 1624.27,309.64 1624.41,303.88 1624.56,326.08 1624.7,304.88 1624.84,317.72 1624.98,297.47 1625.12,317.63 1625.26,284.18 1625.41,320.17 1625.55,323.14 1625.69,314.36 1625.83,304.22 1625.97,296.17 1626.12,322.78 1626.26,332.15 1626.4,307.24 1626.54,305.79 1626.68,298.97 1626.83,311.59 1626.97,291.05 1627.11,314.64 1627.25,303.95 1627.39,294.84 1627.54,302.5 1627.68,307.63 1627.82,288.72 1627.96,301.85 1628.1,340.69 1628.24,306.97 1628.39,309.33 1628.53,309.8 1628.67,310.72 1628.81,300.28 1628.95,330.07 1629.1,295.81 1629.24,285.26 1629.38,323.14 1629.52,319.18 1629.66,304.46 1629.81,326.25 1629.95,314.69 1630.09,306.81 1630.23,306.87 1630.37,306.14 1630.51,346.68 1630.66,329.06 1630.8,311.33 1630.94,337.72 1631.08,299.8 1631.22,342.01 1631.37,331.58 1631.51,317.98 1631.65,305.82 1631.79,316.24 1631.93,295.74 1632.08,307.42 1632.22,337.53 1632.36,307.13 1632.5,297.75 1632.64,326.64 1632.78,308.17 1632.93,337.98 1633.07,316.71 1633.21,305.78 1633.35,320.72 1633.49,303.75 1633.64,299.15 1633.78,327.67 1633.92,303.82 1634.06,320.39 1634.2,335.9 1634.35,322.73 1634.49,319.36 1634.63,297.82 1634.77,326.64 1634.91,340.15 1635.05,312.73 1635.2,292.49 1635.34,305.63 1635.48,314.59 1635.62,299.71 1635.76,299.97 1635.91,286.77 1636.05,322 1636.19,309.47 1636.33,303.61 1636.47,311.87 1636.62,305.69 1636.76,318.1 1636.9,318.88 1637.04,328.76 1637.18,266.4 1637.32,311.71 1637.47,313.76 1637.61,316.51 1637.75,301.85 1637.89,309.84 1638.03,310.79 1638.18,301.36 1638.32,300.13 1638.46,325.19 1638.6,309.17 1638.74,304.06 1638.88,336.24 1639.03,329.98 1639.17,312.46 1639.31,318.9 1639.45,300.66 1639.59,313.19 1639.74,293.5 1639.88,332.13 1640.02,312.73 1640.16,314.37 1640.3,303.6 1640.45,286.89 1640.59,337.78 1640.73,318.35 1640.87,301.93 1641.01,320.79 1641.15,295.74 1641.3,311.13 1641.44,320.97 1641.58,297 1641.72,324.71 1641.86,302.39 1642.01,292.72 1642.15,317.27 1642.29,316.57 1642.43,307.65 1642.57,314.91 1642.72,312.05 1642.86,322.04 1643,297.84 1643.14,306.59 1643.28,288.06 1643.42,287.3 1643.57,293.49 1643.71,302.91 1643.85,331.03 1643.99,306.28 1644.13,301.22 1644.28,285.4 1644.42,304.4 1644.56,362.4 1644.7,327.5 1644.84,305.78 1644.99,319.57 1645.13,305.59 1645.27,316.43 1645.41,327.31 1645.55,309.29 1645.69,325.8 1645.84,309.74 1645.98,292.03 1646.12,328.57 1646.26,328.73 1646.4,316.83 1646.55,287.92 1646.69,322.01 1646.83,296.2 1646.97,310.43 1647.11,313.89 1647.26,352.06 1647.4,280.02 1647.54,324.21 1647.68,311.02 1647.82,306.98 1647.96,296.75 1648.11,335.71 1648.25,336.97 1648.39,324.94 1648.53,313.5 1648.67,318.7 1648.82,304.04 1648.96,311.47 1649.1,312.26 1649.24,323.91 1649.38,312.06 1649.53,305.38 1649.67,287.12 1649.81,294.6 1649.95,305.24 1650.09,293.05 1650.24,302.44 1650.38,312.59 1650.52,301.18 1650.66,305.7 1650.8,336.33 1650.94,326.67 1651.09,326.27 1651.23,324.62 1651.37,301.18 1651.51,323.78 1651.65,344.91 1651.8,308.51 1651.94,311.12 1652.08,340.82 1652.22,334.79 1652.36,312.05 1652.51,339.54 1652.65,327.22 1652.79,304.82 1652.93,305.61 1653.07,331.17 1653.21,325.32 1653.36,298.44 1653.5,293.33 1653.64,327.36 1653.78,308.58 1653.92,303.96 1654.07,288.38 1654.21,295.5 1654.35,304.51 1654.49,338.62 1654.63,306.52 1654.78,318.51 1654.92,302.65 1655.06,339.59 1655.2,301.35 1655.34,316.5 1655.48,295.28 1655.63,321.41 1655.77,283.98 1655.91,316.73 1656.05,320.31 1656.19,308.67 1656.34,318.57 1656.48,317.36 1656.62,342.07 1656.76,308.43 1656.9,335.54 1657.05,284.55 1657.19,318.37 1657.33,312.08 1657.47,312.72 1657.61,312.34 1657.75,315.84 1657.9,296.43 1658.04,303.36 1658.18,327.09 1658.32,309.61 1658.46,355.06 1658.61,333.63 1658.75,321.14 1658.89,290.15 1659.03,323.32 1659.17,328.33 1659.32,321.17 1659.46,335.09 1659.6,297.88 1659.74,297.28 1659.88,299.82 1660.02,306.79 1660.17,323.58 1660.31,320.75 1660.45,298.48 1660.59,294.29 1660.73,296.15 1660.88,318.2 1661.02,329.02 1661.16,326.12 1661.3,299.15 1661.44,282.46 1661.59,298.43 1661.73,313.01 1661.87,286.48 1662.01,321.62 1662.15,321.85 1662.29,310.71 1662.44,330.03 1662.58,314.38 1662.72,286.56 1662.86,327.98 1663,313.41 1663.15,325.58 1663.29,301.18 1663.43,297.83 1663.57,322.83 1663.71,311.95 1663.86,316.75 1664,315.31 1664.14,299.39 1664.28,274.23 1664.42,310.25 1664.56,311.21 1664.71,308.26 1664.85,308.48 1664.99,296.64 1665.13,313.19 1665.27,318.91 1665.42,292.51 1665.56,343.77 1665.7,279.41 1665.84,328.96 1665.98,296.55 1666.12,327.54 1666.27,283.17 1666.41,303 1666.55,321.36 1666.69,302.86 1666.83,329.29 1666.98,329.54 1667.12,291.69 1667.26,293.37 1667.4,317.29 1667.54,299.77 1667.69,300.04 1667.83,291.42 1667.97,276.33 1668.11,316.28 1668.25,304.78 1668.39,295.79 1668.54,290.08 1668.68,315.97 1668.82,336.35 1668.96,302.99 1669.1,330.73 1669.25,323.55 1669.39,308.91 1669.53,296.53 1669.67,335.42 1669.81,323.33 1669.96,276.52 1670.1,276.05 1670.24,313.99 1670.38,296.81 1670.52,324.16 1670.66,308.08 1670.81,320.32 1670.95,306.18 1671.09,292.94 1671.23,303.79 1671.37,312 1671.52,320.01 1671.66,348.32 1671.8,343.55 1671.94,312.6 1672.08,315.15 1672.23,285.84 1672.37,326.15 1672.51,311.08 1672.65,303.26 1672.79,334.06 1672.93,301.04 1673.08,307.32 1673.22,332.66 1673.36,335.48 1673.5,304.85 1673.64,290.48 1673.79,313.76 1673.93,299.21 1674.07,314.75 1674.21,295.18 1674.35,323.66 1674.5,321.31 1674.64,335.61 1674.78,323.94 1674.92,322.5 1675.06,318.24 1675.2,283.89 1675.35,321.55 1675.49,313.76 1675.63,339.7 1675.77,288.84 1675.91,307.64 1676.06,309.04 1676.2,324.57 1676.34,306.64 1676.48,323.64 1676.62,297.36 1676.77,314.24 1676.91,293.35 1677.05,318.64 1677.19,312.01 1677.33,319.62 1677.47,321.54 1677.62,326.13 1677.76,290.49 1677.9,332.37 1678.04,328.14 1678.18,327.85 1678.33,305.28 1678.47,301.17 1678.61,295.98 1678.75,318.2 1678.89,328.21 1679.04,304.51 1679.18,331.9 1679.32,301.86 1679.46,315.88 1679.6,312.2 1679.74,291.91 1679.89,333.09 1680.03,296.76 1680.17,315.54 1680.31,311.6 1680.45,305.76 1680.6,301.04 1680.74,323.73 1680.88,333.06 1681.02,304.98 1681.16,329.42 1681.31,320.26 1681.45,328.32 1681.59,310.64 1681.73,329.71 1681.87,344.73 1682.01,301.9 1682.16,317.68 1682.3,271.67 1682.44,326.7 1682.58,321.01 1682.72,315.42 1682.87,321.14 1683.01,305.1 1683.15,293.8 1683.29,307.93 1683.43,300.67 1683.58,291.82 1683.72,317.99 1683.86,300.51 1684,306.15 1684.14,303.29 1684.29,337.14 1684.43,317.8 1684.57,301.76 1684.71,316.18 1684.85,319.23 1684.99,296.8 1685.14,319.69 1685.28,292.85 1685.42,303.07 1685.56,308.58 1685.7,290.74 1685.85,307.92 1685.99,319.63 1686.13,342.01 1686.27,330.76 1686.41,292.5 1686.56,315.09 1686.7,336.45 1686.84,297 1686.98,333.61 1687.12,327.46 1687.26,309.68 1687.41,315.13 1687.55,309.74 1687.69,314.08 1687.83,299.02 1687.97,287.67 1688.12,296.22 1688.26,313.84 1688.4,290.85 1688.54,311.11 1688.68,335.31 1688.83,288.8 1688.97,321.19 1689.11,291.99 1689.25,307.82 1689.39,307.11 1689.53,325.58 1689.68,309.79 1689.82,292.22 1689.96,331.6 1690.1,329.71 1690.24,312.2 1690.39,331.05 1690.53,324.12 1690.67,307.62 1690.81,301.38 1690.95,307.94 1691.1,326.23 1691.24,313.54 1691.38,266.4 1691.52,326.46 1691.66,311.47 1691.8,314.79 1691.95,314.22 1692.09,319.9 1692.23,317.43 1692.37,323.03 1692.51,305.98 1692.66,330.22 1692.8,293.18 1692.94,341.25 1693.08,298.7 1693.22,314.52 1693.37,306.91 1693.51,307.95 1693.65,335.94 1693.79,317.44 1693.93,319.67 1694.07,299.97 1694.22,320.11 1694.36,332.74 1694.5,321.72" fill="none" stroke="#ff0000" stroke-width="0.9"/>
<rect x="1240.5" y="299.4" width="454" height="26" fill="#ff0000"/>
<rect x="1241.8" y="541.6" width="450.2" height="360.4" fill="none" stroke="#000" stroke-width="2.4"/>
<line x1="1241.8" y1="880.1" x2="1245.3" y2="880.1" stroke="#000" stroke-width="2" />
<line x1="1241.8" y1="812.4" x2="1248.3" y2="812.4" stroke="#000" stroke-width="2" />
<line x1="1241.8" y1="744.7" x2="1245.3" y2="744.7" stroke="#000" stroke-width="2" />
<line x1="1241.8" y1="677" x2="1248.3" y2="677" stroke="#000" stroke-width="2" />
<line x1="1241.8" y1="609.3" x2="1245.3" y2="609.3" stroke="#000" stroke-width="2" />
<line x1="1286.82" y1="902" x2="1286.82" y2="898.5" stroke="#000" stroke-width="2" />
<line x1="1331.84" y1="902" x2="1331.84" y2="895.5" stroke="#000" stroke-width="2" />
<line x1="1376.86" y1="902" x2="1376.86" y2="898.5" stroke="#000" stroke-width="2" />
<line x1="1421.88" y1="902" x2="1421.88" y2="895.5" stroke="#000" stroke-width="2" />
<line x1="1466.9" y1="902" x2="1466.9" y2="898.5" stroke="#000" stroke-width="2" />
<line x1="1511.92" y1="902" x2="1511.92" y2="895.5" stroke="#000" stroke-width="2" />
<line x1="1556.94" y1="902" x2="1556.94" y2="898.5" stroke="#000" stroke-width="2" />
<line x1="1601.96" y1="902" x2="1601.96" y2="895.5" stroke="#000" stroke-width="2" />
<line x1="1646.98" y1="902" x2="1646.98" y2="898.5" stroke="#000" stroke-width="2" />
<text x="1233.8" y="550.8" font-family="'Liberation Serif', serif" font-size="28" font-weight="bold" text-anchor="end" fill="#000" >900</text>
<text x="1233.8" y="686.2" font-family="'Liberation Serif', serif" font-size="28" font-weight="bold" text-anchor="end" fill="#000" >600</text>
<text x="1233.8" y="821.6" font-family="'Liberation Serif', serif" font-size="28" font-weight="bold" text-anchor="end" fill="#000" >300</text>
<text x="1245.3" y="930.5" font-family="'Liberation Serif', serif" font-size="27" font-weight="bold" text-anchor="middle" fill="#000" >0</text>
<text x="1331.84" y="929" font-family="'Liberation Serif', serif" font-size="27" font-weight="bold" text-anchor="middle" fill="#000" >2</text>
<text x="1421.88" y="929" font-family="'Liberation Serif', serif" font-size="27" font-weight="bold" text-anchor="middle" fill="#000" >4</text>
<text x="1511.92" y="929" font-family="'Liberation Serif', serif" font-size="27" font-weight="bold" text-anchor="middle" fill="#000" >6</text>
<text x="1601.96" y="929" font-family="'Liberation Serif', serif" font-size="27" font-weight="bold" text-anchor="middle" fill="#000" >8</text>
<text x="1692" y="929" font-family="'Liberation Serif', serif" font-size="27" font-weight="bold" text-anchor="middle" fill="#000" >10</text>
<text x="1471" y="955.8" font-family="'Liberation Serif', serif" font-size="27.5" font-weight="bold" text-anchor="middle" fill="#000" >Time (ps)</text>
<text x="0" y="0" transform="translate(1184.5,726) rotate(-90)" font-family="'Liberation Serif', serif" font-size="27.5" font-weight="bold" text-anchor="middle" fill="#000">T (K)</text>
<polyline points="1243,834.4 1243.32,826.4 1243.64,804.4 1243.96,800.4 1244.28,814.4 1244.6,820.4 1244.92,808.4 1245.24,806.4 1245.56,813.7 1245.88,812.77 1246.2,811.57 1246.52,811.89 1246.84,812.85 1247.16,808.62 1247.48,811.15 1247.8,810.12 1248.12,811.55 1248.44,811.73 1248.76,810.86 1249.08,813.5 1249.4,811.4 1249.72,812.68 1250.04,813.95 1250.36,813.66 1250.68,813.41 1251,814.93 1251.32,812.76 1251.64,814.28 1251.96,812.94 1252.28,816.21 1252.6,815.4 1252.92,814.96 1253.24,814.16 1253.56,812.45 1253.88,811.19 1254.2,811.09 1254.52,810.05 1254.84,810.56 1255.16,809.93 1255.48,810.93 1255.8,809.59 1256.12,810.49 1256.44,809.33 1256.76,811.16 1257.08,810.62 1257.4,811.85 1257.72,812.72 1258.04,813.1 1258.36,814.21 1258.68,815.73 1259,814.06 1259.32,813.09 1259.64,816.8 1259.96,817.79 1260.28,814.24 1260.6,815.86 1260.92,814.54 1261.24,812.71 1261.56,810.62 1261.88,813.28 1262.2,810.36 1262.52,808.13 1262.84,809.29 1263.16,808.75 1263.48,807.6 1263.8,810.75 1264.12,809.39 1264.44,809.66 1264.76,810.92 1265.08,813.84 1265.4,815.35 1265.72,814.03 1266.04,814.49 1266.36,817.41 1266.68,818.54 1267,816.59 1267.32,816.23 1267.64,817.83 1267.96,817.32 1268.28,815.75 1268.6,814.52 1268.92,812.93 1269.24,811.99 1269.56,810.89 1269.88,809.12 1270.2,809.86 1270.52,806.65 1270.84,806.69 1271.16,806.34 1271.48,806.54 1271.8,806.53 1272.12,808.1 1272.44,810.01 1272.76,809.69 1273.08,812.95 1273.4,816.05 1273.72,817.61 1274.04,816.63 1274.36,818.59 1274.68,818.78 1275,819.87 1275.32,817.6 1275.64,816.54 1275.96,817.34 1276.28,814.19 1276.6,810.31 1276.92,811.33 1277.24,809.92 1277.56,808.53 1277.88,806.69 1278.2,806.96 1278.52,806.47 1278.84,806.45 1279.16,808.38 1279.48,807.55 1279.8,806.29 1280.12,810.08 1280.44,811.09 1280.76,811.87 1281.08,815.16 1281.4,815.8 1281.72,817.79 1282.04,818.06 1282.36,817.88 1282.68,818.63 1283,818.66 1283.32,817.01 1283.64,815.26 1283.96,816.27 1284.28,813.93 1284.6,808.64 1284.92,810.08 1285.24,808.58 1285.56,808.23 1285.88,807.21 1286.2,805.85 1286.52,804.58 1286.84,806.82 1287.16,806.39 1287.48,806.79 1287.8,809.53 1288.12,811.17 1288.44,812.52 1288.76,814.23 1289.08,815.92 1289.4,817.6 1289.72,816.87 1290.04,819.12 1290.36,818.96 1290.68,816.66 1291,817.15 1291.32,814.54 1291.64,813.66 1291.96,811.7 1292.28,811.71 1292.6,807.86 1292.92,810.51 1293.24,807.9 1293.56,807.36 1293.88,806.96 1294.2,806.4 1294.52,806.71 1294.84,809.28 1295.16,809.47 1295.48,811.75 1295.8,814.52 1296.12,813.93 1296.44,815.61 1296.76,815.45 1297.08,815.54 1297.4,816.95 1297.72,818.76 1298.04,817.28 1298.36,816.35 1298.68,814.56 1299,814.21 1299.32,814.76 1299.64,812.49 1299.96,810.09 1300.28,809.74 1300.6,810.07 1300.92,809.72 1301.24,807 1301.56,809.24 1301.88,808.81 1302.2,807.26 1302.52,808.7 1302.84,810.84 1303.16,810.81 1303.48,812.93 1303.8,813.75 1304.12,814.07 1304.44,814.24 1304.76,815.47 1305.08,813.69 1305.4,812.93 1305.72,815.12 1306.04,815.65 1306.36,813.31 1306.68,814.38 1307,813.46 1307.32,811.41 1307.64,811.89 1307.96,812.53 1308.28,810.02 1308.6,811.04 1308.92,810.94 1309.24,809.8 1309.56,811.8 1309.88,810.52 1310.2,812.35 1310.52,812.06 1310.84,811.68 1311.16,812.53 1311.48,812.2 1311.8,815.72 1312.12,812.81 1312.44,813.15 1312.76,815.03 1313.08,814.56 1313.4,814.28 1313.72,812.38 1314.04,812.11 1314.36,812.65 1314.68,812.68 1315,813.05 1315.32,812.75 1315.64,812 1315.96,812.17 1316.28,809.72 1316.6,809.81 1316.92,810.55 1317.24,811.35 1317.56,810.91 1317.88,811.42 1318.2,812.22 1318.52,811.81 1318.84,812.58 1319.16,814 1319.48,813.66 1319.8,813 1320.12,813.63 1320.44,813.99 1320.76,813.66 1321.08,814.23 1321.4,811.85 1321.72,814 1322.04,811.76 1322.36,813.04 1322.68,810.71 1323,812.84 1323.32,812.4 1323.64,810.72 1323.96,811.85 1324.28,810.76 1324.6,812.35 1324.92,811.09 1325.24,811.05 1325.56,810.84 1325.88,811.99 1326.2,812.97 1326.52,813.53 1326.84,812.58 1327.16,813.18 1327.48,812.75 1327.8,813.32 1328.12,813.96 1328.44,814.44 1328.76,814.71 1329.08,813.11 1329.4,812.13 1329.72,814.4 1330.04,812.36 1330.36,811.48 1330.68,811.48 1331,810.84 1331.32,811.22 1331.64,810.85 1331.96,809.06 1332.28,809.89 1332.6,811.11 1332.92,810.59 1333.24,812.06 1333.56,810.85 1333.88,813.95 1334.2,813.52 1334.52,812.28 1334.84,815.44 1335.16,813.83 1335.48,815.32 1335.8,815.41 1336.12,815.53 1336.44,815.54 1336.76,812.6 1337.08,813.49 1337.4,812.19 1337.72,811.76 1338.04,811.63 1338.36,813.54 1338.68,810.05 1339,808.58 1339.32,811.85 1339.64,809.81 1339.96,809.02 1340.28,811.35 1340.6,811.03 1340.92,811.64 1341.24,810.22 1341.56,814.1 1341.88,813.28 1342.2,814.76 1342.52,815.69 1342.84,817.46 1343.16,817.57 1343.48,816.12 1343.8,815.87 1344.12,815.11 1344.44,815.18 1344.76,814.86 1345.08,813.77 1345.4,812.4 1345.72,810.66 1346.04,809.75 1346.36,809.88 1346.68,809.75 1347,808.99 1347.32,807.8 1347.64,808.93 1347.96,809.81 1348.28,808.58 1348.6,809.1 1348.92,811.99 1349.24,814.08 1349.56,813.85 1349.88,814.85 1350.2,815.46 1350.52,817.35 1350.84,815.39 1351.16,817.05 1351.48,816.48 1351.8,814.32 1352.12,815.48 1352.44,814.96 1352.76,813.96 1353.08,812.57 1353.4,811.35 1353.72,810.99 1354.04,808.11 1354.36,807.69 1354.68,808.78 1355,808.57 1355.32,808.92 1355.64,807.12 1355.96,810.14 1356.28,810.75 1356.6,811.07 1356.92,810.9 1357.24,813.83 1357.56,815.29 1357.88,814.8 1358.2,816.28 1358.52,816.85 1358.84,817.48 1359.16,817.28 1359.48,817.01 1359.8,814.56 1360.12,814.61 1360.44,812.62 1360.76,814.1 1361.08,812.8 1361.4,811.51 1361.72,811.97 1362.04,808.6 1362.36,810.39 1362.68,807.8 1363,806.87 1363.32,808.42 1363.64,808.82 1363.96,809.7 1364.28,810.7 1364.6,812.06 1364.92,813.15 1365.24,812.8 1365.56,813.18 1365.88,815.57 1366.2,816.62 1366.52,816.57 1366.84,816.2 1367.16,813.82 1367.48,815.81 1367.8,814.05 1368.12,815.01 1368.44,814.58 1368.76,812.12 1369.08,810.8 1369.4,810.7 1369.72,810.93 1370.04,810.58 1370.36,808.81 1370.68,810.05 1371,808.96 1371.32,809.56 1371.64,811.57 1371.96,810.95 1372.28,809.52 1372.6,811.28 1372.92,814.04 1373.24,811.74 1373.56,814.97 1373.88,814.27 1374.2,813.14 1374.52,813.97 1374.84,815.04 1375.16,815.59 1375.48,812.76 1375.8,813.42 1376.12,813.51 1376.44,813.52 1376.76,814.61 1377.08,813.53 1377.4,811.84 1377.72,809.86 1378.04,810.7 1378.36,809.86 1378.68,810.63 1379,810.6 1379.32,811.06 1379.64,811.89 1379.96,811.58 1380.28,813.1 1380.6,813.63 1380.92,811.65 1381.24,811.67 1381.56,812.48 1381.88,811.28 1382.2,813.65 1382.52,813.56 1382.84,813.58 1383.16,815.03 1383.48,813.82 1383.8,813.9 1384.12,812.72 1384.44,811.81 1384.76,810.03 1385.08,811.57 1385.4,811.75 1385.72,810.63 1386.04,810.76 1386.36,811.65 1386.68,813.28 1387,811.24 1387.32,811.45 1387.64,811.2 1387.96,812.03 1388.28,811.22 1388.6,812.85 1388.92,811.85 1389.24,814.04 1389.56,812.02 1389.88,811.91 1390.2,813.56 1390.52,813.57 1390.84,811.94 1391.16,813.11 1391.48,812.81 1391.8,813.93 1392.12,811.51 1392.44,810.32 1392.76,812.19 1393.08,812.41 1393.4,812.45 1393.72,811.19 1394.04,809.72 1394.36,809.29 1394.68,813.87 1395,811.5 1395.32,811.6 1395.64,812.33 1395.96,812.56 1396.28,811.74 1396.6,812.42 1396.92,812.96 1397.24,814.33 1397.56,815.34 1397.88,814.54 1398.2,814.21 1398.52,812.4 1398.84,812.56 1399.16,813.46 1399.48,812.17 1399.8,812.04 1400.12,814.73 1400.44,811.53 1400.76,811.32 1401.08,809.45 1401.4,811.53 1401.72,811.16 1402.04,810.59 1402.36,811.36 1402.68,808.51 1403,812.72 1403.32,812.97 1403.64,809.92 1403.96,812.67 1404.28,813.7 1404.6,814.22 1404.92,813.93 1405.24,815.26 1405.56,814.73 1405.88,813.9 1406.2,815.72 1406.52,812.85 1406.84,813.27 1407.16,812.83 1407.48,814.37 1407.8,811.66 1408.12,810.21 1408.44,810.03 1408.76,810.85 1409.08,810.22 1409.4,810.32 1409.72,808.61 1410.04,810.35 1410.36,811.08 1410.68,812.54 1411,812.67 1411.32,810.53 1411.64,813.03 1411.96,812.2 1412.28,814.26 1412.6,815.18 1412.92,814.68 1413.24,812.29 1413.56,815.34 1413.88,815.22 1414.2,814.28 1414.52,815.1 1414.84,813.33 1415.16,812.72 1415.48,812.71 1415.8,810.66 1416.12,811.43 1416.44,809.57 1416.76,809.37 1417.08,809.87 1417.4,810.52 1417.72,809.07 1418.04,809.88 1418.36,809.94 1418.68,809.4 1419,811.34 1419.32,814.98 1419.64,813.26 1419.96,815.05 1420.28,815.54 1420.6,816.68 1420.92,815.72 1421.24,816.53 1421.56,815.41 1421.88,817.6 1422.2,815 1422.52,813.74 1422.84,814.27 1423.16,811.25 1423.48,812.22 1423.8,812.62 1424.12,808.76 1424.44,809.81 1424.76,808.45 1425.08,809.05 1425.4,809 1425.72,807.54 1426.04,811.45 1426.36,810.99 1426.68,812.84 1427,812.15 1427.32,813.3 1427.64,814.06 1427.96,813.66 1428.28,817.37 1428.6,816.99 1428.92,817.11 1429.24,816.15 1429.56,814.7 1429.88,814.85 1430.2,816.71 1430.52,814.44 1430.84,812.28 1431.16,810.07 1431.48,811.14 1431.8,807.3 1432.12,810.57 1432.44,808.74 1432.76,809.15 1433.08,810.8 1433.4,811.66 1433.72,810.47 1434.04,810.44 1434.36,810.46 1434.68,811.84 1435,814.34 1435.32,814.65 1435.64,814.2 1435.96,815.19 1436.28,814.99 1436.6,813.81 1436.92,814.52 1437.24,815.76 1437.56,815.63 1437.88,812.61 1438.2,812.76 1438.52,810.72 1438.84,811.95 1439.16,810.67 1439.48,810.39 1439.8,811.45 1440.12,810.93 1440.44,810.69 1440.76,810.99 1441.08,811.51 1441.4,809.42 1441.72,812.28 1442.04,811.96 1442.36,814.6 1442.68,813.47 1443,813.03 1443.32,813.54 1443.64,815.3 1443.96,814.39 1444.28,814.27 1444.6,815.26 1444.92,814.29 1445.24,813.13 1445.56,814.16 1445.88,813.04 1446.2,812.48 1446.52,812 1446.84,808.56 1447.16,812.16 1447.48,810.58 1447.8,811.75 1448.12,810.49 1448.44,811.36 1448.76,810.26 1449.08,812.73 1449.4,811.36 1449.72,814.09 1450.04,812.99 1450.36,813.49 1450.68,812.5 1451,812.62 1451.32,813.87 1451.64,813.21 1451.96,813.32 1452.28,811.72 1452.6,812.65 1452.92,813.16 1453.24,811.25 1453.56,811.21 1453.88,810.96 1454.2,812.08 1454.52,811.2 1454.84,810.38 1455.16,811.04 1455.48,811.92 1455.8,810.46 1456.12,812.1 1456.44,814.54 1456.76,810.17 1457.08,811.48 1457.4,812.19 1457.72,812.92 1458.04,814.22 1458.36,812.89 1458.68,812.26 1459,811.67 1459.32,809.52 1459.64,811.15 1459.96,814.38 1460.28,811.42 1460.6,813.18 1460.92,812.9 1461.24,811.78 1461.56,810.5 1461.88,814.36 1462.2,812.65 1462.52,812.13 1462.84,810.11 1463.16,812 1463.48,810.23 1463.8,810.21 1464.12,812 1464.44,812.14 1464.76,812.61 1465.08,812.67 1465.4,812.52 1465.72,813 1466.04,811.64 1466.36,812.91 1466.68,813.77 1467,815.07 1467.32,810.96 1467.64,814.33 1467.96,811.99 1468.28,813.74 1468.6,811.67 1468.92,811.98 1469.24,811.96 1469.56,811.64 1469.88,811.55 1470.2,812.29 1470.52,812.22 1470.84,810.56 1471.16,812.25 1471.48,811.77 1471.8,810.4 1472.12,810.92 1472.44,813.73 1472.76,813.81 1473.08,812.08 1473.4,814.09 1473.72,812.61 1474.04,814.23 1474.36,816.04 1474.68,813.66 1475,815.1 1475.32,812.67 1475.64,813.01 1475.96,812.29 1476.28,814.25 1476.6,812.41 1476.92,810.92 1477.24,809.96 1477.56,810.6 1477.88,811.42 1478.2,811.68 1478.52,810.03 1478.84,811.68 1479.16,811.15 1479.48,811.2 1479.8,812.18 1480.12,814.52 1480.44,812.61 1480.76,813.45 1481.08,813.78 1481.4,813.81 1481.72,814.73 1482.04,814.32 1482.36,812.76 1482.68,814.81 1483,812.33 1483.32,813.72 1483.64,813.17 1483.96,814.05 1484.28,812.88 1484.6,811.8 1484.92,809.64 1485.24,810.46 1485.56,811.94 1485.88,810.5 1486.2,810.5 1486.52,812.96 1486.84,810.52 1487.16,809.52 1487.48,812.49 1487.8,812.72 1488.12,811.75 1488.44,815.39 1488.76,814.12 1489.08,817.05 1489.4,813.93 1489.72,816.66 1490.04,815.99 1490.36,815.07 1490.68,815.41 1491,812.36 1491.32,815.83 1491.64,813.58 1491.96,812.23 1492.28,813.51 1492.6,812.97 1492.92,808.41 1493.24,809.65 1493.56,807.75 1493.88,809.26 1494.2,809.17 1494.52,811 1494.84,810.62 1495.16,809.8 1495.48,812.76 1495.8,812.32 1496.12,814.56 1496.44,812.94 1496.76,813.88 1497.08,814.72 1497.4,814.99 1497.72,815.18 1498.04,815.84 1498.36,815.24 1498.68,814.42 1499,813.76 1499.32,812.47 1499.64,810.47 1499.96,810.82 1500.28,810.23 1500.6,809.83 1500.92,807.94 1501.24,809.06 1501.56,809.09 1501.88,808.83 1502.2,809.71 1502.52,810.54 1502.84,811.78 1503.16,812.83 1503.48,811.54 1503.8,813.84 1504.12,813.64 1504.44,814.28 1504.76,815.94 1505.08,815.74 1505.4,815.29 1505.72,813.73 1506.04,814.26 1506.36,815.22 1506.68,812.87 1507,812.11 1507.32,811.34 1507.64,811.95 1507.96,810.26 1508.28,813.54 1508.6,810.41 1508.92,810.34 1509.24,809.65 1509.56,810.8 1509.88,810.95 1510.2,810.56 1510.52,810.85 1510.84,812.96 1511.16,812.48 1511.48,813.62 1511.8,813.35 1512.12,813.21 1512.44,814.47 1512.76,814.97 1513.08,814.26 1513.4,814.22 1513.72,814.89 1514.04,812.92 1514.36,813.86 1514.68,812.89 1515,812.73 1515.32,812.99 1515.64,810.35 1515.96,811.35 1516.28,811.18 1516.6,811.24 1516.92,813.09 1517.24,810.34 1517.56,811.3 1517.88,812.22 1518.2,809.68 1518.52,812.74 1518.84,813.03 1519.16,812.07 1519.48,812.64 1519.8,812.5 1520.12,814.54 1520.44,812.76 1520.76,812.22 1521.08,812.75 1521.4,812.71 1521.72,813.4 1522.04,813.13 1522.36,813.88 1522.68,810.89 1523,812.68 1523.32,811.91 1523.64,812.01 1523.96,811.17 1524.28,811.29 1524.6,812.17 1524.92,812.79 1525.24,810.24 1525.56,812.24 1525.88,811.04 1526.2,812.76 1526.52,811.91 1526.84,811.06 1527.16,811.89 1527.48,812.82 1527.8,813.82 1528.12,814.38 1528.44,814.05 1528.76,813.23 1529.08,813.49 1529.4,812.68 1529.72,814.25 1530.04,811.92 1530.36,811.65 1530.68,813.45 1531,810.96 1531.32,812.46 1531.64,813.22 1531.96,812.29 1532.28,812.51 1532.6,812.07 1532.92,812.15 1533.24,810.64 1533.56,813.64 1533.88,811.82 1534.2,811.83 1534.52,812.6 1534.84,813.81 1535.16,812.42 1535.48,812.75 1535.8,813.98 1536.12,813.72 1536.44,812.73 1536.76,812.83 1537.08,813.14 1537.4,812.23 1537.72,811.8 1538.04,812.04 1538.36,811.21 1538.68,814.36 1539,811.28 1539.32,812.56 1539.64,809.91 1539.96,811.15 1540.28,813.25 1540.6,811.38 1540.92,810 1541.24,811.25 1541.56,810.14 1541.88,810.05 1542.2,813.88 1542.52,812.17 1542.84,813.02 1543.16,814.28 1543.48,812.57 1543.8,813.69 1544.12,813.69 1544.44,812.9 1544.76,813.27 1545.08,812.33 1545.4,811.85 1545.72,813.69 1546.04,812.21 1546.36,809.35 1546.68,813.77 1547,811.61 1547.32,811.19 1547.64,812.55 1547.96,808.53 1548.28,810.91 1548.6,809.99 1548.92,811.33 1549.24,812.38 1549.56,811.79 1549.88,811.17 1550.2,812.28 1550.52,813.82 1550.84,814.05 1551.16,814.29 1551.48,814.31 1551.8,813.38 1552.12,814.65 1552.44,813.06 1552.76,814.11 1553.08,813.39 1553.4,813.74 1553.72,814.17 1554.04,812.51 1554.36,812.61 1554.68,811.13 1555,810.3 1555.32,811.16 1555.64,810.16 1555.96,808.96 1556.28,810.21 1556.6,810.3 1556.92,811.22 1557.24,811.75 1557.56,811.13 1557.88,813.18 1558.2,811.12 1558.52,815.38 1558.84,812.97 1559.16,815.08 1559.48,816.25 1559.8,814.62 1560.12,813.32 1560.44,813.57 1560.76,814.07 1561.08,813.9 1561.4,814.22 1561.72,812.02 1562.04,811.33 1562.36,810.83 1562.68,810.42 1563,809.06 1563.32,809.25 1563.64,809.04 1563.96,810.62 1564.28,809.6 1564.6,810.18 1564.92,813.19 1565.24,811.91 1565.56,813.28 1565.88,810.41 1566.2,814.1 1566.52,814.95 1566.84,815.31 1567.16,815.22 1567.48,814.79 1567.8,813.54 1568.12,815.63 1568.44,813.85 1568.76,811.93 1569.08,814.53 1569.4,813.66 1569.72,810.4 1570.04,812.33 1570.36,808.28 1570.68,810.34 1571,808.98 1571.32,809.81 1571.64,810.54 1571.96,811.14 1572.28,811.23 1572.6,811.44 1572.92,812.84 1573.24,811.69 1573.56,813.65 1573.88,813.44 1574.2,813.25 1574.52,814.85 1574.84,815.5 1575.16,815.38 1575.48,816.14 1575.8,813.64 1576.12,812.57 1576.44,813.3 1576.76,814.35 1577.08,810.23 1577.4,811.27 1577.72,810.83 1578.04,811.01 1578.36,809.88 1578.68,810.21 1579,810.75 1579.32,809.06 1579.64,810.59 1579.96,810.03 1580.28,811.9 1580.6,813.17 1580.92,813.94 1581.24,812.38 1581.56,813.45 1581.88,815.17 1582.2,812.15 1582.52,816.84 1582.84,812.88 1583.16,814.96 1583.48,814.19 1583.8,812.68 1584.12,813.22 1584.44,812.44 1584.76,809.92 1585.08,812.44 1585.4,812.24 1585.72,813.13 1586.04,810.5 1586.36,810.43 1586.68,811.09 1587,809.94 1587.32,811.67 1587.64,811.8 1587.96,811.37 1588.28,811.82 1588.6,815.54 1588.92,814.38 1589.24,813.36 1589.56,814.82 1589.88,814.48 1590.2,811.54 1590.52,814.55 1590.84,813.7 1591.16,815.19 1591.48,812.97 1591.8,812.97 1592.12,812.73 1592.44,812.34 1592.76,809.87 1593.08,813.45 1593.4,810.64 1593.72,812.8 1594.04,812.72 1594.36,811.86 1594.68,811.27 1595,811.75 1595.32,811.09 1595.64,811.71 1595.96,811.56 1596.28,814.29 1596.6,812.6 1596.92,812.44 1597.24,813.26 1597.56,813.25 1597.88,812.93 1598.2,814.42 1598.52,815.5 1598.84,812.28 1599.16,813 1599.48,812.12 1599.8,812.79 1600.12,810.57 1600.44,808.82 1600.76,812.53 1601.08,811.48 1601.4,811.56 1601.72,811.97 1602.04,812.41 1602.36,810.89 1602.68,811.17 1603,812.28 1603.32,812.21 1603.64,815.15 1603.96,812.77 1604.28,812.67 1604.6,813.62 1604.92,813.24 1605.24,812.6 1605.56,813.54 1605.88,810.88 1606.2,811.6 1606.52,812.24 1606.84,813.99 1607.16,812.52 1607.48,811.01 1607.8,811.01 1608.12,811.5 1608.44,811.8 1608.76,812.01 1609.08,813.13 1609.4,812.11 1609.72,811.96 1610.04,811.81 1610.36,813.74 1610.68,811.23 1611,812.06 1611.32,813.83 1611.64,812.47 1611.96,813.06 1612.28,814.43 1612.6,813.86 1612.92,812.59 1613.24,812.15 1613.56,813.82 1613.88,814.59 1614.2,812.87 1614.52,813.3 1614.84,813.67 1615.16,811.69 1615.48,812.91 1615.8,811.58 1616.12,811.2 1616.44,810.36 1616.76,811.1 1617.08,809.63 1617.4,810.14 1617.72,810.01 1618.04,811.93 1618.36,811.77 1618.68,813.06 1619,811.47 1619.32,813 1619.64,813.7 1619.96,815.38 1620.28,812.97 1620.6,814.02 1620.92,813.97 1621.24,815.8 1621.56,815.6 1621.88,811.99 1622.2,812.95 1622.52,812.88 1622.84,811.87 1623.16,811.39 1623.48,812.07 1623.8,809.61 1624.12,809.99 1624.44,811.35 1624.76,810.2 1625.08,810.05 1625.4,809.7 1625.72,812.57 1626.04,811.17 1626.36,811.07 1626.68,813.39 1627,813.8 1627.32,813.86 1627.64,814.52 1627.96,813.72 1628.28,813.68 1628.6,815.8 1628.92,813.92 1629.24,815.16 1629.56,813.18 1629.88,812.38 1630.2,812.49 1630.52,809.65 1630.84,811.86 1631.16,810.72 1631.48,810.35 1631.8,809.63 1632.12,810.41 1632.44,809.05 1632.76,809.25 1633.08,808.17 1633.4,811.26 1633.72,811.53 1634.04,811.73 1634.36,814.35 1634.68,813.78 1635,812.87 1635.32,813.71 1635.64,814.6 1635.96,815.04 1636.28,813.22 1636.6,815.41 1636.92,814.25 1637.24,813.82 1637.56,814.94 1637.88,814.26 1638.2,811.46 1638.52,811.21 1638.84,810.16 1639.16,808.09 1639.48,810.89 1639.8,808.68 1640.12,809.91 1640.44,809.53 1640.76,808.49 1641.08,811.16 1641.4,811.02 1641.72,812.45 1642.04,813.69 1642.36,812.14 1642.68,814.26 1643,814.4 1643.32,812.4 1643.64,814.04 1643.96,813.43 1644.28,813.41 1644.6,815.52 1644.92,814.85 1645.24,813.88 1645.56,813.72 1645.88,812.93 1646.2,812.56 1646.52,812.51 1646.84,811.06 1647.16,809 1647.48,808.4 1647.8,810.13 1648.12,809.81 1648.44,811.31 1648.76,809.92 1649.08,812.39 1649.4,811.4 1649.72,813.77 1650.04,813.72 1650.36,814.79 1650.68,816.42 1651,812.08 1651.32,813.83 1651.64,813.52 1651.96,814.37 1652.28,813.3 1652.6,812.47 1652.92,812.63 1653.24,813.16 1653.56,811.1 1653.88,812.79 1654.2,811.68 1654.52,811.83 1654.84,809.52 1655.16,810.96 1655.48,811.48 1655.8,811.13 1656.12,811.73 1656.44,811.06 1656.76,811.63 1657.08,811.02 1657.4,813.24 1657.72,813.21 1658.04,814.14 1658.36,811.99 1658.68,814.97 1659,814.09 1659.32,812.85 1659.64,812.87 1659.96,812.93 1660.28,812.33 1660.6,813.77 1660.92,814.28 1661.24,813.18 1661.56,812.92 1661.88,812.8 1662.2,810.76 1662.52,810.05 1662.84,811.39 1663.16,810.46 1663.48,811.5 1663.8,811.32 1664.12,811.58 1664.44,811.64 1664.76,812.23 1665.08,814.4 1665.4,812.37 1665.72,812.3 1666.04,812.32 1666.36,813.45 1666.68,812.4 1667,813.59 1667.32,811.74 1667.64,811.76 1667.96,811.97 1668.28,812.66 1668.6,814.61 1668.92,810.95 1669.24,811.97 1669.56,812.67 1669.88,811.47 1670.2,811.2 1670.52,812.42 1670.84,813.67 1671.16,812.79 1671.48,811.4 1671.8,810.84 1672.12,810.02 1672.44,811.52 1672.76,813.08 1673.08,812.76 1673.4,812.01 1673.72,811.49 1674.04,811.97 1674.36,812.85 1674.68,813.15 1675,814.4 1675.32,811.66 1675.64,814.88 1675.96,814.99 1676.28,811.2 1676.6,812.41 1676.92,813.66 1677.24,813.07 1677.56,812.75 1677.88,813.09 1678.2,812.45 1678.52,813.46 1678.84,811.32 1679.16,811.23 1679.48,812.39 1679.8,812.15 1680.12,811.82 1680.44,813.21 1680.76,810.65 1681.08,814.7 1681.4,813.69 1681.72,812.24 1682.04,812.22 1682.36,811.92 1682.68,813.84 1683,811.28 1683.32,812.9 1683.64,813.86 1683.96,812.47 1684.28,814.56 1684.6,812.7 1684.92,811.48 1685.24,810.92 1685.56,812.19 1685.88,811.79 1686.2,812.19 1686.52,810.73 1686.84,808.59 1687.16,811.72 1687.48,811.85 1687.8,812.88 1688.12,812.98 1688.44,812.57 1688.76,812.38 1689.08,812.19 1689.4,813.27 1689.72,810.78 1690.04,814.47 1690.36,812.26 1690.68,815.41 1691,813.36" fill="none" stroke="#ff0000" stroke-width="2.2"/>
<line x1="1241.4" y1="944" x2="1241.4" y2="949" stroke="#999" stroke-width="1" />
<path d="M1505.5,79.8 C1532,80.5 1551.5,96 1551.3,117 C1551,138 1535,152 1518,155.5 L1518,161.2 L1505.5,149.8 L1518,135.8 L1518,142.2 C1535,139 1548.5,130 1548.5,117.5 C1548,103 1530,92.5 1505.5,92.3 Z" fill="#3459aa" stroke="#284a9c" stroke-width="0.8"/>
<path d="M1551.5,600.3 C1578,601 1597.5,616.5 1597.3,637.5 C1597,658.5 1581,672.5 1564,676 L1564,681.7 L1551.5,670.3 L1564,656.3 L1564,662.7 C1581,659.5 1594.5,650.5 1594.5,638 C1594,623.5 1576,613 1551.5,612.8 Z" fill="#3459aa" stroke="#284a9c" stroke-width="0.8"/>
<g clip-path="url(#ci1)">
<line x1="1124.4" y1="19.03" x2="1158.1" y2="53.9" stroke="#30dcb0" stroke-width="2.2" />
<line x1="1158.1" y1="53.9" x2="1173.75" y2="70.1" stroke="#30dcb0" stroke-width="2.2" />
<line x1="1173.75" y1="70.1" x2="1189.4" y2="86.3" stroke="#7a4020" stroke-width="2.2" />
<line x1="1189.4" y1="86.3" x2="1205.05" y2="102.5" stroke="#7a4020" stroke-width="2.2" />
<line x1="1205.05" y1="102.5" x2="1220.7" y2="118.7" stroke="#30dcb0" stroke-width="2.2" />
<line x1="1220.7" y1="118.7" x2="1254.4" y2="153.57" stroke="#30dcb0" stroke-width="2.2" />
<line x1="1136.4" y1="18.3" x2="1185.4" y2="67.3" stroke="#30dcb0" stroke-width="2" />
<line x1="1185.4" y1="67.3" x2="1217.4" y2="99.3" stroke="#7a4020" stroke-width="2" />
<line x1="1217.4" y1="99.3" x2="1266.4" y2="148.3" stroke="#30dcb0" stroke-width="2" />
<line x1="1124.4" y1="153.57" x2="1158.1" y2="118.7" stroke="#30dcb0" stroke-width="2.2" />
<line x1="1158.1" y1="118.7" x2="1173.75" y2="102.5" stroke="#30dcb0" stroke-width="2.2" />
<line x1="1173.75" y1="102.5" x2="1189.4" y2="86.3" stroke="#7a4020" stroke-width="2.2" />
<line x1="1189.4" y1="86.3" x2="1205.05" y2="70.1" stroke="#7a4020" stroke-width="2.2" />
<line x1="1205.05" y1="70.1" x2="1220.7" y2="53.9" stroke="#30dcb0" stroke-width="2.2" />
<line x1="1220.7" y1="53.9" x2="1254.4" y2="19.03" stroke="#30dcb0" stroke-width="2.2" />
<line x1="1136.4" y1="148.3" x2="1185.4" y2="99.3" stroke="#30dcb0" stroke-width="2" />
<line x1="1185.4" y1="99.3" x2="1217.4" y2="67.3" stroke="#7a4020" stroke-width="2" />
<line x1="1217.4" y1="67.3" x2="1266.4" y2="18.3" stroke="#30dcb0" stroke-width="2" />
<line x1="1187.3" y1="19.03" x2="1221" y2="53.9" stroke="#30dcb0" stroke-width="2.2" />
<line x1="1221" y1="53.9" x2="1236.65" y2="70.1" stroke="#30dcb0" stroke-width="2.2" />
<line x1="1236.65" y1="70.1" x2="1252.3" y2="86.3" stroke="#7a4020" stroke-width="2.2" />
<line x1="1252.3" y1="86.3" x2="1267.95" y2="102.5" stroke="#7a4020" stroke-width="2.2" />
<line x1="1267.95" y1="102.5" x2="1283.6" y2="118.7" stroke="#30dcb0" stroke-width="2.2" />
<line x1="1283.6" y1="118.7" x2="1317.3" y2="153.57" stroke="#30dcb0" stroke-width="2.2" />
<line x1="1199.3" y1="18.3" x2="1248.3" y2="67.3" stroke="#30dcb0" stroke-width="2" />
<line x1="1248.3" y1="67.3" x2="1280.3" y2="99.3" stroke="#7a4020" stroke-width="2" />
<line x1="1280.3" y1="99.3" x2="1329.3" y2="148.3" stroke="#30dcb0" stroke-width="2" />
<line x1="1187.3" y1="153.57" x2="1221" y2="118.7" stroke="#30dcb0" stroke-width="2.2" />
<line x1="1221" y1="118.7" x2="1236.65" y2="102.5" stroke="#30dcb0" stroke-width="2.2" />
<line x1="1236.65" y1="102.5" x2="1252.3" y2="86.3" stroke="#7a4020" stroke-width="2.2" />
<line x1="1252.3" y1="86.3" x2="1267.95" y2="70.1" stroke="#7a4020" stroke-width="2.2" />
<line x1="1267.95" y1="70.1" x2="1283.6" y2="53.9" stroke="#30dcb0" stroke-width="2.2" />
<line x1="1283.6" y1="53.9" x2="1317.3" y2="19.03" stroke="#30dcb0" stroke-width="2.2" />
<line x1="1199.3" y1="148.3" x2="1248.3" y2="99.3" stroke="#30dcb0" stroke-width="2" />
<line x1="1248.3" y1="99.3" x2="1280.3" y2="67.3" stroke="#7a4020" stroke-width="2" />
<line x1="1280.3" y1="67.3" x2="1329.3" y2="18.3" stroke="#30dcb0" stroke-width="2" />
<line x1="1250.2" y1="19.03" x2="1283.9" y2="53.9" stroke="#30dcb0" stroke-width="2.2" />
<line x1="1283.9" y1="53.9" x2="1299.55" y2="70.1" stroke="#30dcb0" stroke-width="2.2" />
<line x1="1299.55" y1="70.1" x2="1315.2" y2="86.3" stroke="#7a4020" stroke-width="2.2" />
<line x1="1315.2" y1="86.3" x2="1330.85" y2="102.5" stroke="#7a4020" stroke-width="2.2" />
<line x1="1330.85" y1="102.5" x2="1346.5" y2="118.7" stroke="#30dcb0" stroke-width="2.2" />
<line x1="1346.5" y1="118.7" x2="1380.2" y2="153.57" stroke="#30dcb0" stroke-width="2.2" />
<line x1="1262.2" y1="18.3" x2="1311.2" y2="67.3" stroke="#30dcb0" stroke-width="2" />
<line x1="1311.2" y1="67.3" x2="1343.2" y2="99.3" stroke="#7a4020" stroke-width="2" />
<line x1="1343.2" y1="99.3" x2="1392.2" y2="148.3" stroke="#30dcb0" stroke-width="2" />
<line x1="1250.2" y1="153.57" x2="1283.9" y2="118.7" stroke="#30dcb0" stroke-width="2.2" />
<line x1="1283.9" y1="118.7" x2="1299.55" y2="102.5" stroke="#30dcb0" stroke-width="2.2" />
<line x1="1299.55" y1="102.5" x2="1315.2" y2="86.3" stroke="#7a4020" stroke-width="2.2" />
<line x1="1315.2" y1="86.3" x2="1330.85" y2="70.1" stroke="#7a4020" stroke-width="2.2" />
<line x1="1330.85" y1="70.1" x2="1346.5" y2="53.9" stroke="#30dcb0" stroke-width="2.2" />
<line x1="1346.5" y1="53.9" x2="1380.2" y2="19.03" stroke="#30dcb0" stroke-width="2.2" />
<line x1="1262.2" y1="148.3" x2="1311.2" y2="99.3" stroke="#30dcb0" stroke-width="2" />
<line x1="1311.2" y1="99.3" x2="1343.2" y2="67.3" stroke="#7a4020" stroke-width="2" />
<line x1="1343.2" y1="67.3" x2="1392.2" y2="18.3" stroke="#30dcb0" stroke-width="2" />
<line x1="1313.1" y1="19.03" x2="1346.8" y2="53.9" stroke="#30dcb0" stroke-width="2.2" />
<line x1="1346.8" y1="53.9" x2="1362.45" y2="70.1" stroke="#30dcb0" stroke-width="2.2" />
<line x1="1362.45" y1="70.1" x2="1378.1" y2="86.3" stroke="#7a4020" stroke-width="2.2" />
<line x1="1378.1" y1="86.3" x2="1393.75" y2="102.5" stroke="#7a4020" stroke-width="2.2" />
<line x1="1393.75" y1="102.5" x2="1409.4" y2="118.7" stroke="#30dcb0" stroke-width="2.2" />
<line x1="1409.4" y1="118.7" x2="1443.1" y2="153.57" stroke="#30dcb0" stroke-width="2.2" />
<line x1="1325.1" y1="18.3" x2="1374.1" y2="67.3" stroke="#30dcb0" stroke-width="2" />
<line x1="1374.1" y1="67.3" x2="1406.1" y2="99.3" stroke="#7a4020" stroke-width="2" />
<line x1="1406.1" y1="99.3" x2="1455.1" y2="148.3" stroke="#30dcb0" stroke-width="2" />
<line x1="1313.1" y1="153.57" x2="1346.8" y2="118.7" stroke="#30dcb0" stroke-width="2.2" />
<line x1="1346.8" y1="118.7" x2="1362.45" y2="102.5" stroke="#30dcb0" stroke-width="2.2" />
<line x1="1362.45" y1="102.5" x2="1378.1" y2="86.3" stroke="#7a4020" stroke-width="2.2" />
<line x1="1378.1" y1="86.3" x2="1393.75" y2="70.1" stroke="#7a4020" stroke-width="2.2" />
<line x1="1393.75" y1="70.1" x2="1409.4" y2="53.9" stroke="#30dcb0" stroke-width="2.2" />
<line x1="1409.4" y1="53.9" x2="1443.1" y2="19.03" stroke="#30dcb0" stroke-width="2.2" />
<line x1="1325.1" y1="148.3" x2="1374.1" y2="99.3" stroke="#30dcb0" stroke-width="2" />
<line x1="1374.1" y1="99.3" x2="1406.1" y2="67.3" stroke="#7a4020" stroke-width="2" />
<line x1="1406.1" y1="67.3" x2="1455.1" y2="18.3" stroke="#30dcb0" stroke-width="2" />
<line x1="1376" y1="19.03" x2="1409.7" y2="53.9" stroke="#30dcb0" stroke-width="2.2" />
<line x1="1409.7" y1="53.9" x2="1425.35" y2="70.1" stroke="#30dcb0" stroke-width="2.2" />
<line x1="1425.35" y1="70.1" x2="1441" y2="86.3" stroke="#7a4020" stroke-width="2.2" />
<line x1="1441" y1="86.3" x2="1456.65" y2="102.5" stroke="#7a4020" stroke-width="2.2" />
<line x1="1456.65" y1="102.5" x2="1472.3" y2="118.7" stroke="#30dcb0" stroke-width="2.2" />
<line x1="1472.3" y1="118.7" x2="1506" y2="153.57" stroke="#30dcb0" stroke-width="2.2" />
<line x1="1388" y1="18.3" x2="1437" y2="67.3" stroke="#30dcb0" stroke-width="2" />
<line x1="1437" y1="67.3" x2="1469" y2="99.3" stroke="#7a4020" stroke-width="2" />
<line x1="1469" y1="99.3" x2="1518" y2="148.3" stroke="#30dcb0" stroke-width="2" />
<line x1="1376" y1="153.57" x2="1409.7" y2="118.7" stroke="#30dcb0" stroke-width="2.2" />
<line x1="1409.7" y1="118.7" x2="1425.35" y2="102.5" stroke="#30dcb0" stroke-width="2.2" />
<line x1="1425.35" y1="102.5" x2="1441" y2="86.3" stroke="#7a4020" stroke-width="2.2" />
<line x1="1441" y1="86.3" x2="1456.65" y2="70.1" stroke="#7a4020" stroke-width="2.2" />
<line x1="1456.65" y1="70.1" x2="1472.3" y2="53.9" stroke="#30dcb0" stroke-width="2.2" />
<line x1="1472.3" y1="53.9" x2="1506" y2="19.03" stroke="#30dcb0" stroke-width="2.2" />
<line x1="1388" y1="148.3" x2="1437" y2="99.3" stroke="#30dcb0" stroke-width="2" />
<line x1="1437" y1="99.3" x2="1469" y2="67.3" stroke="#7a4020" stroke-width="2" />
<line x1="1469" y1="67.3" x2="1518" y2="18.3" stroke="#30dcb0" stroke-width="2" />
<line x1="1438.9" y1="19.03" x2="1472.6" y2="53.9" stroke="#30dcb0" stroke-width="2.2" />
<line x1="1472.6" y1="53.9" x2="1488.25" y2="70.1" stroke="#30dcb0" stroke-width="2.2" />
<line x1="1488.25" y1="70.1" x2="1503.9" y2="86.3" stroke="#7a4020" stroke-width="2.2" />
<line x1="1503.9" y1="86.3" x2="1519.55" y2="102.5" stroke="#7a4020" stroke-width="2.2" />
<line x1="1519.55" y1="102.5" x2="1535.2" y2="118.7" stroke="#30dcb0" stroke-width="2.2" />
<line x1="1535.2" y1="118.7" x2="1568.9" y2="153.57" stroke="#30dcb0" stroke-width="2.2" />
<line x1="1450.9" y1="18.3" x2="1499.9" y2="67.3" stroke="#30dcb0" stroke-width="2" />
<line x1="1499.9" y1="67.3" x2="1531.9" y2="99.3" stroke="#7a4020" stroke-width="2" />
<line x1="1531.9" y1="99.3" x2="1580.9" y2="148.3" stroke="#30dcb0" stroke-width="2" />
<line x1="1438.9" y1="153.57" x2="1472.6" y2="118.7" stroke="#30dcb0" stroke-width="2.2" />
<line x1="1472.6" y1="118.7" x2="1488.25" y2="102.5" stroke="#30dcb0" stroke-width="2.2" />
<line x1="1488.25" y1="102.5" x2="1503.9" y2="86.3" stroke="#7a4020" stroke-width="2.2" />
<line x1="1503.9" y1="86.3" x2="1519.55" y2="70.1" stroke="#7a4020" stroke-width="2.2" />
<line x1="1519.55" y1="70.1" x2="1535.2" y2="53.9" stroke="#30dcb0" stroke-width="2.2" />
<line x1="1535.2" y1="53.9" x2="1568.9" y2="19.03" stroke="#30dcb0" stroke-width="2.2" />
<line x1="1450.9" y1="148.3" x2="1499.9" y2="99.3" stroke="#30dcb0" stroke-width="2" />
<line x1="1499.9" y1="99.3" x2="1531.9" y2="67.3" stroke="#7a4020" stroke-width="2" />
<line x1="1531.9" y1="67.3" x2="1580.9" y2="18.3" stroke="#30dcb0" stroke-width="2" />
<line x1="1501.8" y1="19.03" x2="1535.5" y2="53.9" stroke="#30dcb0" stroke-width="2.2" />
<line x1="1535.5" y1="53.9" x2="1551.15" y2="70.1" stroke="#30dcb0" stroke-width="2.2" />
<line x1="1551.15" y1="70.1" x2="1566.8" y2="86.3" stroke="#7a4020" stroke-width="2.2" />
<line x1="1566.8" y1="86.3" x2="1582.45" y2="102.5" stroke="#7a4020" stroke-width="2.2" />
<line x1="1582.45" y1="102.5" x2="1598.1" y2="118.7" stroke="#30dcb0" stroke-width="2.2" />
<line x1="1598.1" y1="118.7" x2="1631.8" y2="153.57" stroke="#30dcb0" stroke-width="2.2" />
<line x1="1513.8" y1="18.3" x2="1562.8" y2="67.3" stroke="#30dcb0" stroke-width="2" />
<line x1="1562.8" y1="67.3" x2="1594.8" y2="99.3" stroke="#7a4020" stroke-width="2" />
<line x1="1594.8" y1="99.3" x2="1643.8" y2="148.3" stroke="#30dcb0" stroke-width="2" />
<line x1="1501.8" y1="153.57" x2="1535.5" y2="118.7" stroke="#30dcb0" stroke-width="2.2" />
<line x1="1535.5" y1="118.7" x2="1551.15" y2="102.5" stroke="#30dcb0" stroke-width="2.2" />
<line x1="1551.15" y1="102.5" x2="1566.8" y2="86.3" stroke="#7a4020" stroke-width="2.2" />
<line x1="1566.8" y1="86.3" x2="1582.45" y2="70.1" stroke="#7a4020" stroke-width="2.2" />
<line x1="1582.45" y1="70.1" x2="1598.1" y2="53.9" stroke="#30dcb0" stroke-width="2.2" />
<line x1="1598.1" y1="53.9" x2="1631.8" y2="19.03" stroke="#30dcb0" stroke-width="2.2" />
<line x1="1513.8" y1="148.3" x2="1562.8" y2="99.3" stroke="#30dcb0" stroke-width="2" />
<line x1="1562.8" y1="99.3" x2="1594.8" y2="67.3" stroke="#7a4020" stroke-width="2" />
<line x1="1594.8" y1="67.3" x2="1643.8" y2="18.3" stroke="#30dcb0" stroke-width="2" />
<line x1="1564.7" y1="19.03" x2="1598.4" y2="53.9" stroke="#30dcb0" stroke-width="2.2" />
<line x1="1598.4" y1="53.9" x2="1614.05" y2="70.1" stroke="#30dcb0" stroke-width="2.2" />
<line x1="1614.05" y1="70.1" x2="1629.7" y2="86.3" stroke="#7a4020" stroke-width="2.2" />
<line x1="1629.7" y1="86.3" x2="1645.35" y2="102.5" stroke="#7a4020" stroke-width="2.2" />
<line x1="1645.35" y1="102.5" x2="1661" y2="118.7" stroke="#30dcb0" stroke-width="2.2" />
<line x1="1661" y1="118.7" x2="1694.7" y2="153.57" stroke="#30dcb0" stroke-width="2.2" />
<line x1="1576.7" y1="18.3" x2="1625.7" y2="67.3" stroke="#30dcb0" stroke-width="2" />
<line x1="1625.7" y1="67.3" x2="1657.7" y2="99.3" stroke="#7a4020" stroke-width="2" />
<line x1="1657.7" y1="99.3" x2="1706.7" y2="148.3" stroke="#30dcb0" stroke-width="2" />
<line x1="1564.7" y1="153.57" x2="1598.4" y2="118.7" stroke="#30dcb0" stroke-width="2.2" />
<line x1="1598.4" y1="118.7" x2="1614.05" y2="102.5" stroke="#30dcb0" stroke-width="2.2" />
<line x1="1614.05" y1="102.5" x2="1629.7" y2="86.3" stroke="#7a4020" stroke-width="2.2" />
<line x1="1629.7" y1="86.3" x2="1645.35" y2="70.1" stroke="#7a4020" stroke-width="2.2" />
<line x1="1645.35" y1="70.1" x2="1661" y2="53.9" stroke="#30dcb0" stroke-width="2.2" />
<line x1="1661" y1="53.9" x2="1694.7" y2="19.03" stroke="#30dcb0" stroke-width="2.2" />
<line x1="1576.7" y1="148.3" x2="1625.7" y2="99.3" stroke="#30dcb0" stroke-width="2" />
<line x1="1625.7" y1="99.3" x2="1657.7" y2="67.3" stroke="#7a4020" stroke-width="2" />
<line x1="1657.7" y1="67.3" x2="1706.7" y2="18.3" stroke="#30dcb0" stroke-width="2" />
<line x1="1221" y1="53.9" x2="1223" y2="68.6" stroke="#30dcb0" stroke-width="2.2"/>
<line x1="1223" y1="68.6" x2="1225" y2="83.3" stroke="#7a4020" stroke-width="2.2"/>
<line x1="1232.9" y1="50.9" x2="1228.95" y2="67.1" stroke="#30dcb0" stroke-width="2.2"/>
<line x1="1228.95" y1="67.1" x2="1225" y2="83.3" stroke="#7a4020" stroke-width="2.2"/>
<line x1="1221" y1="118.6" x2="1223" y2="100.95" stroke="#30dcb0" stroke-width="2.2"/>
<line x1="1223" y1="100.95" x2="1225" y2="83.3" stroke="#7a4020" stroke-width="2.2"/>
<line x1="1231.9" y1="112.6" x2="1228.45" y2="97.95" stroke="#30dcb0" stroke-width="2.2"/>
<line x1="1228.45" y1="97.95" x2="1225" y2="83.3" stroke="#7a4020" stroke-width="2.2"/>
<line x1="1255.8" y1="40" x2="1257.3" y2="61.9" stroke="#7a4020" stroke-width="2.2"/>
<line x1="1257.3" y1="61.9" x2="1258.8" y2="83.8" stroke="#a09cc0" stroke-width="2.2"/>
<line x1="1256.3" y1="136" x2="1257.55" y2="109.9" stroke="#7a4020" stroke-width="2.2"/>
<line x1="1257.55" y1="109.9" x2="1258.8" y2="83.8" stroke="#a09cc0" stroke-width="2.2"/>
<line x1="1225" y1="83.3" x2="1241.9" y2="83.55" stroke="#7a4020" stroke-width="2.4"/>
<line x1="1241.9" y1="83.55" x2="1258.8" y2="83.8" stroke="#a09cc0" stroke-width="2.4"/>
<line x1="1287.9" y1="83.3" x2="1273.35" y2="83.55" stroke="#7a4020" stroke-width="2.4"/>
<line x1="1273.35" y1="83.55" x2="1258.8" y2="83.8" stroke="#a09cc0" stroke-width="2.4"/>
<line x1="1283.9" y1="53.9" x2="1285.9" y2="68.6" stroke="#30dcb0" stroke-width="2.2"/>
<line x1="1285.9" y1="68.6" x2="1287.9" y2="83.3" stroke="#7a4020" stroke-width="2.2"/>
<line x1="1295.8" y1="50.9" x2="1291.85" y2="67.1" stroke="#30dcb0" stroke-width="2.2"/>
<line x1="1291.85" y1="67.1" x2="1287.9" y2="83.3" stroke="#7a4020" stroke-width="2.2"/>
<line x1="1283.9" y1="118.6" x2="1285.9" y2="100.95" stroke="#30dcb0" stroke-width="2.2"/>
<line x1="1285.9" y1="100.95" x2="1287.9" y2="83.3" stroke="#7a4020" stroke-width="2.2"/>
<line x1="1294.8" y1="112.6" x2="1291.35" y2="97.95" stroke="#30dcb0" stroke-width="2.2"/>
<line x1="1291.35" y1="97.95" x2="1287.9" y2="83.3" stroke="#7a4020" stroke-width="2.2"/>
<line x1="1318.7" y1="40" x2="1320.2" y2="61.9" stroke="#7a4020" stroke-width="2.2"/>
<line x1="1320.2" y1="61.9" x2="1321.7" y2="83.8" stroke="#a09cc0" stroke-width="2.2"/>
<line x1="1319.2" y1="136" x2="1320.45" y2="109.9" stroke="#7a4020" stroke-width="2.2"/>
<line x1="1320.45" y1="109.9" x2="1321.7" y2="83.8" stroke="#a09cc0" stroke-width="2.2"/>
<line x1="1287.9" y1="83.3" x2="1304.8" y2="83.55" stroke="#7a4020" stroke-width="2.4"/>
<line x1="1304.8" y1="83.55" x2="1321.7" y2="83.8" stroke="#a09cc0" stroke-width="2.4"/>
<line x1="1350.8" y1="83.3" x2="1336.25" y2="83.55" stroke="#7a4020" stroke-width="2.4"/>
<line x1="1336.25" y1="83.55" x2="1321.7" y2="83.8" stroke="#a09cc0" stroke-width="2.4"/>
<line x1="1346.8" y1="53.9" x2="1348.8" y2="68.6" stroke="#30dcb0" stroke-width="2.2"/>
<line x1="1348.8" y1="68.6" x2="1350.8" y2="83.3" stroke="#7a4020" stroke-width="2.2"/>
<line x1="1358.7" y1="50.9" x2="1354.75" y2="67.1" stroke="#30dcb0" stroke-width="2.2"/>
<line x1="1354.75" y1="67.1" x2="1350.8" y2="83.3" stroke="#7a4020" stroke-width="2.2"/>
<line x1="1346.8" y1="118.6" x2="1348.8" y2="100.95" stroke="#30dcb0" stroke-width="2.2"/>
<line x1="1348.8" y1="100.95" x2="1350.8" y2="83.3" stroke="#7a4020" stroke-width="2.2"/>
<line x1="1357.7" y1="112.6" x2="1354.25" y2="97.95" stroke="#30dcb0" stroke-width="2.2"/>
<line x1="1354.25" y1="97.95" x2="1350.8" y2="83.3" stroke="#7a4020" stroke-width="2.2"/>
<line x1="1381.6" y1="40" x2="1383.1" y2="61.9" stroke="#7a4020" stroke-width="2.2"/>
<line x1="1383.1" y1="61.9" x2="1384.6" y2="83.8" stroke="#a09cc0" stroke-width="2.2"/>
<line x1="1382.1" y1="136" x2="1383.35" y2="109.9" stroke="#7a4020" stroke-width="2.2"/>
<line x1="1383.35" y1="109.9" x2="1384.6" y2="83.8" stroke="#a09cc0" stroke-width="2.2"/>
<line x1="1350.8" y1="83.3" x2="1367.7" y2="83.55" stroke="#7a4020" stroke-width="2.4"/>
<line x1="1367.7" y1="83.55" x2="1384.6" y2="83.8" stroke="#a09cc0" stroke-width="2.4"/>
<line x1="1413.7" y1="83.3" x2="1399.15" y2="83.55" stroke="#7a4020" stroke-width="2.4"/>
<line x1="1399.15" y1="83.55" x2="1384.6" y2="83.8" stroke="#a09cc0" stroke-width="2.4"/>
<line x1="1409.7" y1="53.9" x2="1411.7" y2="68.6" stroke="#30dcb0" stroke-width="2.2"/>
<line x1="1411.7" y1="68.6" x2="1413.7" y2="83.3" stroke="#7a4020" stroke-width="2.2"/>
<line x1="1421.6" y1="50.9" x2="1417.65" y2="67.1" stroke="#30dcb0" stroke-width="2.2"/>
<line x1="1417.65" y1="67.1" x2="1413.7" y2="83.3" stroke="#7a4020" stroke-width="2.2"/>
<line x1="1409.7" y1="118.6" x2="1411.7" y2="100.95" stroke="#30dcb0" stroke-width="2.2"/>
<line x1="1411.7" y1="100.95" x2="1413.7" y2="83.3" stroke="#7a4020" stroke-width="2.2"/>
<line x1="1420.6" y1="112.6" x2="1417.15" y2="97.95" stroke="#30dcb0" stroke-width="2.2"/>
<line x1="1417.15" y1="97.95" x2="1413.7" y2="83.3" stroke="#7a4020" stroke-width="2.2"/>
<line x1="1444.5" y1="40" x2="1446" y2="61.9" stroke="#7a4020" stroke-width="2.2"/>
<line x1="1446" y1="61.9" x2="1447.5" y2="83.8" stroke="#a09cc0" stroke-width="2.2"/>
<line x1="1445" y1="136" x2="1446.25" y2="109.9" stroke="#7a4020" stroke-width="2.2"/>
<line x1="1446.25" y1="109.9" x2="1447.5" y2="83.8" stroke="#a09cc0" stroke-width="2.2"/>
<line x1="1413.7" y1="83.3" x2="1430.6" y2="83.55" stroke="#7a4020" stroke-width="2.4"/>
<line x1="1430.6" y1="83.55" x2="1447.5" y2="83.8" stroke="#a09cc0" stroke-width="2.4"/>
<line x1="1476.6" y1="83.3" x2="1462.05" y2="83.55" stroke="#7a4020" stroke-width="2.4"/>
<line x1="1462.05" y1="83.55" x2="1447.5" y2="83.8" stroke="#a09cc0" stroke-width="2.4"/>
<line x1="1472.6" y1="53.9" x2="1474.6" y2="68.6" stroke="#30dcb0" stroke-width="2.2"/>
<line x1="1474.6" y1="68.6" x2="1476.6" y2="83.3" stroke="#7a4020" stroke-width="2.2"/>
<line x1="1484.5" y1="50.9" x2="1480.55" y2="67.1" stroke="#30dcb0" stroke-width="2.2"/>
<line x1="1480.55" y1="67.1" x2="1476.6" y2="83.3" stroke="#7a4020" stroke-width="2.2"/>
<line x1="1472.6" y1="118.6" x2="1474.6" y2="100.95" stroke="#30dcb0" stroke-width="2.2"/>
<line x1="1474.6" y1="100.95" x2="1476.6" y2="83.3" stroke="#7a4020" stroke-width="2.2"/>
<line x1="1483.5" y1="112.6" x2="1480.05" y2="97.95" stroke="#30dcb0" stroke-width="2.2"/>
<line x1="1480.05" y1="97.95" x2="1476.6" y2="83.3" stroke="#7a4020" stroke-width="2.2"/>
<line x1="1507.4" y1="40" x2="1508.9" y2="61.9" stroke="#7a4020" stroke-width="2.2"/>
<line x1="1508.9" y1="61.9" x2="1510.4" y2="83.8" stroke="#a09cc0" stroke-width="2.2"/>
<line x1="1507.9" y1="136" x2="1509.15" y2="109.9" stroke="#7a4020" stroke-width="2.2"/>
<line x1="1509.15" y1="109.9" x2="1510.4" y2="83.8" stroke="#a09cc0" stroke-width="2.2"/>
<line x1="1476.6" y1="83.3" x2="1493.5" y2="83.55" stroke="#7a4020" stroke-width="2.4"/>
<line x1="1493.5" y1="83.55" x2="1510.4" y2="83.8" stroke="#a09cc0" stroke-width="2.4"/>
<line x1="1539.5" y1="83.3" x2="1524.95" y2="83.55" stroke="#7a4020" stroke-width="2.4"/>
<line x1="1524.95" y1="83.55" x2="1510.4" y2="83.8" stroke="#a09cc0" stroke-width="2.4"/>
<line x1="1535.5" y1="53.9" x2="1537.5" y2="68.6" stroke="#30dcb0" stroke-width="2.2"/>
<line x1="1537.5" y1="68.6" x2="1539.5" y2="83.3" stroke="#7a4020" stroke-width="2.2"/>
<line x1="1547.4" y1="50.9" x2="1543.45" y2="67.1" stroke="#30dcb0" stroke-width="2.2"/>
<line x1="1543.45" y1="67.1" x2="1539.5" y2="83.3" stroke="#7a4020" stroke-width="2.2"/>
<line x1="1535.5" y1="118.6" x2="1537.5" y2="100.95" stroke="#30dcb0" stroke-width="2.2"/>
<line x1="1537.5" y1="100.95" x2="1539.5" y2="83.3" stroke="#7a4020" stroke-width="2.2"/>
<line x1="1546.4" y1="112.6" x2="1542.95" y2="97.95" stroke="#30dcb0" stroke-width="2.2"/>
<line x1="1542.95" y1="97.95" x2="1539.5" y2="83.3" stroke="#7a4020" stroke-width="2.2"/>
<line x1="1570.3" y1="40" x2="1571.8" y2="61.9" stroke="#7a4020" stroke-width="2.2"/>
<line x1="1571.8" y1="61.9" x2="1573.3" y2="83.8" stroke="#a09cc0" stroke-width="2.2"/>
<line x1="1570.8" y1="136" x2="1572.05" y2="109.9" stroke="#7a4020" stroke-width="2.2"/>
<line x1="1572.05" y1="109.9" x2="1573.3" y2="83.8" stroke="#a09cc0" stroke-width="2.2"/>
<line x1="1539.5" y1="83.3" x2="1556.4" y2="83.55" stroke="#7a4020" stroke-width="2.4"/>
<line x1="1556.4" y1="83.55" x2="1573.3" y2="83.8" stroke="#a09cc0" stroke-width="2.4"/>
<line x1="1602.4" y1="83.3" x2="1587.85" y2="83.55" stroke="#7a4020" stroke-width="2.4"/>
<line x1="1587.85" y1="83.55" x2="1573.3" y2="83.8" stroke="#a09cc0" stroke-width="2.4"/>
<line x1="1265" y1="52.5" x2="1493" y2="52.5" stroke="#7a4020" stroke-width="2.6" />
<line x1="1265" y1="116.5" x2="1493" y2="116.5" stroke="#7a4020" stroke-width="2.6" />
<circle cx="1232.9" cy="50.9" r="10" fill="url(#gCs)"/>
<circle cx="1231.9" cy="112.6" r="10" fill="url(#gCs)"/>
<circle cx="1295.8" cy="50.9" r="10" fill="url(#gCs)"/>
<circle cx="1294.8" cy="112.6" r="10" fill="url(#gCs)"/>
<circle cx="1358.7" cy="50.9" r="10" fill="url(#gCs)"/>
<circle cx="1357.7" cy="112.6" r="10" fill="url(#gCs)"/>
<circle cx="1421.6" cy="50.9" r="10" fill="url(#gCs)"/>
<circle cx="1420.6" cy="112.6" r="10" fill="url(#gCs)"/>
<circle cx="1484.5" cy="50.9" r="10" fill="url(#gCs)"/>
<circle cx="1483.5" cy="112.6" r="10" fill="url(#gCs)"/>
<circle cx="1547.4" cy="50.9" r="10" fill="url(#gCs)"/>
<circle cx="1546.4" cy="112.6" r="10" fill="url(#gCs)"/>
<circle cx="1255.8" cy="51.9" r="4.6" fill="url(#gBr)"/>
<circle cx="1256.3" cy="116.1" r="4.6" fill="url(#gBr)"/>
<circle cx="1225" cy="83.3" r="4.6" fill="url(#gBr)"/>
<circle cx="1258.8" cy="83.8" r="4.8" fill="url(#gSn)"/>
<circle cx="1252.3" cy="86.3" r="4.8" fill="url(#gBr)"/>
<circle cx="1221" cy="53.9" r="11" fill="url(#gCs)"/>
<circle cx="1221" cy="118.6" r="11" fill="url(#gCs)"/>
<circle cx="1318.7" cy="51.9" r="4.6" fill="url(#gBr)"/>
<circle cx="1319.2" cy="116.1" r="4.6" fill="url(#gBr)"/>
<circle cx="1287.9" cy="83.3" r="4.6" fill="url(#gBr)"/>
<circle cx="1321.7" cy="83.8" r="4.8" fill="url(#gSn)"/>
<circle cx="1315.2" cy="86.3" r="4.8" fill="url(#gBr)"/>
<circle cx="1283.9" cy="53.9" r="11" fill="url(#gCs)"/>
<circle cx="1283.9" cy="118.6" r="11" fill="url(#gCs)"/>
<circle cx="1381.6" cy="51.9" r="4.6" fill="url(#gBr)"/>
<circle cx="1382.1" cy="116.1" r="4.6" fill="url(#gBr)"/>
<circle cx="1350.8" cy="83.3" r="4.6" fill="url(#gBr)"/>
<circle cx="1384.6" cy="83.8" r="4.8" fill="url(#gSn)"/>
<circle cx="1378.1" cy="86.3" r="4.8" fill="url(#gBr)"/>
<circle cx="1346.8" cy="53.9" r="11" fill="url(#gCs)"/>
<circle cx="1346.8" cy="118.6" r="11" fill="url(#gCs)"/>
<circle cx="1444.5" cy="51.9" r="4.6" fill="url(#gBr)"/>
<circle cx="1445" cy="116.1" r="4.6" fill="url(#gBr)"/>
<circle cx="1413.7" cy="83.3" r="4.6" fill="url(#gBr)"/>
<circle cx="1447.5" cy="83.8" r="4.8" fill="url(#gSn)"/>
<circle cx="1441" cy="86.3" r="4.8" fill="url(#gBr)"/>
<circle cx="1409.7" cy="53.9" r="11" fill="url(#gCs)"/>
<circle cx="1409.7" cy="118.6" r="11" fill="url(#gCs)"/>
<circle cx="1507.4" cy="51.9" r="4.6" fill="url(#gBr)"/>
<circle cx="1507.9" cy="116.1" r="4.6" fill="url(#gBr)"/>
<circle cx="1476.6" cy="83.3" r="4.6" fill="url(#gBr)"/>
<circle cx="1510.4" cy="83.8" r="4.8" fill="url(#gSn)"/>
<circle cx="1503.9" cy="86.3" r="4.8" fill="url(#gBr)"/>
<circle cx="1472.6" cy="53.9" r="11" fill="url(#gCs)"/>
<circle cx="1472.6" cy="118.6" r="11" fill="url(#gCs)"/>
<circle cx="1570.3" cy="51.9" r="4.6" fill="url(#gBr)"/>
<circle cx="1570.8" cy="116.1" r="4.6" fill="url(#gBr)"/>
<circle cx="1539.5" cy="83.3" r="4.6" fill="url(#gBr)"/>
<circle cx="1573.3" cy="83.8" r="4.8" fill="url(#gSn)"/>
<circle cx="1566.8" cy="86.3" r="4.8" fill="url(#gBr)"/>
<circle cx="1535.5" cy="53.9" r="11" fill="url(#gCs)"/>
<circle cx="1535.5" cy="118.6" r="11" fill="url(#gCs)"/>
</g>
<g clip-path="url(#ci2)">
<line x1="1447.6" y1="180.3" x2="1465.99" y2="164.87" stroke="#30dcb0" stroke-width="2" />
<line x1="1447.6" y1="180.3" x2="1457.74" y2="158.55" stroke="#30dcb0" stroke-width="2" />
<line x1="1447.6" y1="180.3" x2="1447.6" y2="156.3" stroke="#30dcb0" stroke-width="2" />
<line x1="1447.6" y1="180.3" x2="1437.46" y2="158.55" stroke="#30dcb0" stroke-width="2" />
<line x1="1447.6" y1="180.3" x2="1429.21" y2="164.87" stroke="#30dcb0" stroke-width="2" />
<line x1="1447.6" y1="180.3" x2="1430.89" y2="200.22" stroke="#30dcb0" stroke-width="2" />
<line x1="1447.6" y1="180.3" x2="1447.6" y2="206.3" stroke="#30dcb0" stroke-width="2" />
<line x1="1447.6" y1="180.3" x2="1464.31" y2="200.22" stroke="#30dcb0" stroke-width="2" />
<line x1="1501.7" y1="182.3" x2="1520.09" y2="166.87" stroke="#30dcb0" stroke-width="2" />
<line x1="1501.7" y1="182.3" x2="1511.84" y2="160.55" stroke="#30dcb0" stroke-width="2" />
<line x1="1501.7" y1="182.3" x2="1501.7" y2="158.3" stroke="#30dcb0" stroke-width="2" />
<line x1="1501.7" y1="182.3" x2="1491.56" y2="160.55" stroke="#30dcb0" stroke-width="2" />
<line x1="1501.7" y1="182.3" x2="1483.31" y2="166.87" stroke="#30dcb0" stroke-width="2" />
<line x1="1501.7" y1="182.3" x2="1484.99" y2="202.22" stroke="#30dcb0" stroke-width="2" />
<line x1="1501.7" y1="182.3" x2="1501.7" y2="208.3" stroke="#30dcb0" stroke-width="2" />
<line x1="1501.7" y1="182.3" x2="1518.41" y2="202.22" stroke="#30dcb0" stroke-width="2" />
<line x1="1560.8" y1="183.3" x2="1579.19" y2="167.87" stroke="#30dcb0" stroke-width="2" />
<line x1="1560.8" y1="183.3" x2="1570.94" y2="161.55" stroke="#30dcb0" stroke-width="2" />
<line x1="1560.8" y1="183.3" x2="1560.8" y2="159.3" stroke="#30dcb0" stroke-width="2" />
<line x1="1560.8" y1="183.3" x2="1550.66" y2="161.55" stroke="#30dcb0" stroke-width="2" />
<line x1="1560.8" y1="183.3" x2="1542.41" y2="167.87" stroke="#30dcb0" stroke-width="2" />
<line x1="1560.8" y1="183.3" x2="1544.09" y2="203.22" stroke="#30dcb0" stroke-width="2" />
<line x1="1560.8" y1="183.3" x2="1560.8" y2="209.3" stroke="#30dcb0" stroke-width="2" />
<line x1="1560.8" y1="183.3" x2="1577.51" y2="203.22" stroke="#30dcb0" stroke-width="2" />
<line x1="1624.8" y1="182.3" x2="1643.19" y2="166.87" stroke="#30dcb0" stroke-width="2" />
<line x1="1624.8" y1="182.3" x2="1634.94" y2="160.55" stroke="#30dcb0" stroke-width="2" />
<line x1="1624.8" y1="182.3" x2="1624.8" y2="158.3" stroke="#30dcb0" stroke-width="2" />
<line x1="1624.8" y1="182.3" x2="1614.66" y2="160.55" stroke="#30dcb0" stroke-width="2" />
<line x1="1624.8" y1="182.3" x2="1606.41" y2="166.87" stroke="#30dcb0" stroke-width="2" />
<line x1="1624.8" y1="182.3" x2="1608.09" y2="202.22" stroke="#30dcb0" stroke-width="2" />
<line x1="1624.8" y1="182.3" x2="1624.8" y2="208.3" stroke="#30dcb0" stroke-width="2" />
<line x1="1624.8" y1="182.3" x2="1641.51" y2="202.22" stroke="#30dcb0" stroke-width="2" />
<line x1="1443.6" y1="240.4" x2="1425.21" y2="255.83" stroke="#30dcb0" stroke-width="2" />
<line x1="1443.6" y1="240.4" x2="1433.46" y2="262.15" stroke="#30dcb0" stroke-width="2" />
<line x1="1443.6" y1="240.4" x2="1443.6" y2="264.4" stroke="#30dcb0" stroke-width="2" />
<line x1="1443.6" y1="240.4" x2="1453.74" y2="262.15" stroke="#30dcb0" stroke-width="2" />
<line x1="1443.6" y1="240.4" x2="1461.99" y2="255.83" stroke="#30dcb0" stroke-width="2" />
<line x1="1443.6" y1="240.4" x2="1460.31" y2="220.48" stroke="#30dcb0" stroke-width="2" />
<line x1="1443.6" y1="240.4" x2="1443.6" y2="214.4" stroke="#30dcb0" stroke-width="2" />
<line x1="1443.6" y1="240.4" x2="1426.89" y2="220.48" stroke="#30dcb0" stroke-width="2" />
<line x1="1505.6" y1="240.4" x2="1487.21" y2="255.83" stroke="#30dcb0" stroke-width="2" />
<line x1="1505.6" y1="240.4" x2="1495.46" y2="262.15" stroke="#30dcb0" stroke-width="2" />
<line x1="1505.6" y1="240.4" x2="1505.6" y2="264.4" stroke="#30dcb0" stroke-width="2" />
<line x1="1505.6" y1="240.4" x2="1515.74" y2="262.15" stroke="#30dcb0" stroke-width="2" />
<line x1="1505.6" y1="240.4" x2="1523.99" y2="255.83" stroke="#30dcb0" stroke-width="2" />
<line x1="1505.6" y1="240.4" x2="1522.31" y2="220.48" stroke="#30dcb0" stroke-width="2" />
<line x1="1505.6" y1="240.4" x2="1505.6" y2="214.4" stroke="#30dcb0" stroke-width="2" />
<line x1="1505.6" y1="240.4" x2="1488.89" y2="220.48" stroke="#30dcb0" stroke-width="2" />
<line x1="1568.6" y1="242.4" x2="1550.21" y2="257.83" stroke="#30dcb0" stroke-width="2" />
<line x1="1568.6" y1="242.4" x2="1558.46" y2="264.15" stroke="#30dcb0" stroke-width="2" />
<line x1="1568.6" y1="242.4" x2="1568.6" y2="266.4" stroke="#30dcb0" stroke-width="2" />
<line x1="1568.6" y1="242.4" x2="1578.74" y2="264.15" stroke="#30dcb0" stroke-width="2" />
<line x1="1568.6" y1="242.4" x2="1586.99" y2="257.83" stroke="#30dcb0" stroke-width="2" />
<line x1="1568.6" y1="242.4" x2="1585.31" y2="222.48" stroke="#30dcb0" stroke-width="2" />
<line x1="1568.6" y1="242.4" x2="1568.6" y2="216.4" stroke="#30dcb0" stroke-width="2" />
<line x1="1568.6" y1="242.4" x2="1551.89" y2="222.48" stroke="#30dcb0" stroke-width="2" />
<line x1="1625.7" y1="238.4" x2="1607.31" y2="253.83" stroke="#30dcb0" stroke-width="2" />
<line x1="1625.7" y1="238.4" x2="1615.56" y2="260.15" stroke="#30dcb0" stroke-width="2" />
<line x1="1625.7" y1="238.4" x2="1625.7" y2="262.4" stroke="#30dcb0" stroke-width="2" />
<line x1="1625.7" y1="238.4" x2="1635.84" y2="260.15" stroke="#30dcb0" stroke-width="2" />
<line x1="1625.7" y1="238.4" x2="1644.09" y2="253.83" stroke="#30dcb0" stroke-width="2" />
<line x1="1625.7" y1="238.4" x2="1642.41" y2="218.48" stroke="#30dcb0" stroke-width="2" />
<line x1="1625.7" y1="238.4" x2="1625.7" y2="212.4" stroke="#30dcb0" stroke-width="2" />
<line x1="1625.7" y1="238.4" x2="1608.99" y2="218.48" stroke="#30dcb0" stroke-width="2" />
<line x1="1447.6" y1="180.3" x2="1459.4" y2="180.9" stroke="#30dcb0" stroke-width="2.4"/>
<line x1="1459.4" y1="180.9" x2="1471.2" y2="181.5" stroke="#7a4020" stroke-width="2.4"/>
<line x1="1471.2" y1="181.5" x2="1486.45" y2="181.9" stroke="#30dcb0" stroke-width="2.4"/>
<line x1="1486.45" y1="181.9" x2="1501.7" y2="182.3" stroke="#7a4020" stroke-width="2.4"/>
<line x1="1501.7" y1="182.3" x2="1517.95" y2="181.9" stroke="#30dcb0" stroke-width="2.4"/>
<line x1="1517.95" y1="181.9" x2="1534.2" y2="181.5" stroke="#7a4020" stroke-width="2.4"/>
<line x1="1534.2" y1="181.5" x2="1547.5" y2="182.4" stroke="#30dcb0" stroke-width="2.4"/>
<line x1="1547.5" y1="182.4" x2="1560.8" y2="183.3" stroke="#7a4020" stroke-width="2.4"/>
<line x1="1560.8" y1="183.3" x2="1579" y2="181.9" stroke="#30dcb0" stroke-width="2.4"/>
<line x1="1579" y1="181.9" x2="1597.2" y2="180.5" stroke="#7a4020" stroke-width="2.4"/>
<line x1="1597.2" y1="180.5" x2="1611" y2="181.4" stroke="#30dcb0" stroke-width="2.4"/>
<line x1="1611" y1="181.4" x2="1624.8" y2="182.3" stroke="#7a4020" stroke-width="2.4"/>
<line x1="1624.8" y1="182.3" x2="1634.6" y2="182.4" stroke="#30dcb0" stroke-width="2.4"/>
<line x1="1634.6" y1="182.4" x2="1644.4" y2="182.5" stroke="#7a4020" stroke-width="2.4"/>
<line x1="1426" y1="180.5" x2="1447" y2="180.5" stroke="#7a4020" stroke-width="2.4" />
<line x1="1443.6" y1="240.4" x2="1463.8" y2="239.9" stroke="#30dcb0" stroke-width="2.4"/>
<line x1="1463.8" y1="239.9" x2="1484" y2="239.4" stroke="#7a4020" stroke-width="2.4"/>
<line x1="1484" y1="239.4" x2="1494.8" y2="239.9" stroke="#30dcb0" stroke-width="2.4"/>
<line x1="1494.8" y1="239.9" x2="1505.6" y2="240.4" stroke="#7a4020" stroke-width="2.4"/>
<line x1="1505.6" y1="240.4" x2="1523.8" y2="240.4" stroke="#30dcb0" stroke-width="2.4"/>
<line x1="1523.8" y1="240.4" x2="1542" y2="240.4" stroke="#7a4020" stroke-width="2.4"/>
<line x1="1542" y1="240.4" x2="1555.3" y2="241.4" stroke="#30dcb0" stroke-width="2.4"/>
<line x1="1555.3" y1="241.4" x2="1568.6" y2="242.4" stroke="#7a4020" stroke-width="2.4"/>
<line x1="1568.6" y1="242.4" x2="1575.5" y2="240.4" stroke="#30dcb0" stroke-width="2.4"/>
<line x1="1575.5" y1="240.4" x2="1582.4" y2="238.4" stroke="#7a4020" stroke-width="2.4"/>
<line x1="1582.4" y1="238.4" x2="1604.05" y2="238.4" stroke="#30dcb0" stroke-width="2.4"/>
<line x1="1604.05" y1="238.4" x2="1625.7" y2="238.4" stroke="#7a4020" stroke-width="2.4"/>
<line x1="1447.6" y1="212.8" x2="1459.9" y2="212.8" stroke="#7a4020" stroke-width="2.4"/>
<line x1="1459.9" y1="212.8" x2="1472.2" y2="212.8" stroke="#a09cc0" stroke-width="2.4"/>
<line x1="1472.2" y1="212.8" x2="1476.1" y2="211.85" stroke="#7a4020" stroke-width="2.4"/>
<line x1="1476.1" y1="211.85" x2="1480" y2="210.9" stroke="#a09cc0" stroke-width="2.4"/>
<line x1="1480" y1="210.9" x2="1493.3" y2="210.4" stroke="#7a4020" stroke-width="2.4"/>
<line x1="1493.3" y1="210.4" x2="1506.6" y2="209.9" stroke="#a09cc0" stroke-width="2.4"/>
<line x1="1506.6" y1="209.9" x2="1522.8" y2="210.4" stroke="#7a4020" stroke-width="2.4"/>
<line x1="1522.8" y1="210.4" x2="1539" y2="210.9" stroke="#a09cc0" stroke-width="2.4"/>
<line x1="1539" y1="210.9" x2="1552.85" y2="207.45" stroke="#7a4020" stroke-width="2.4"/>
<line x1="1552.85" y1="207.45" x2="1566.7" y2="204" stroke="#a09cc0" stroke-width="2.4"/>
<line x1="1566.7" y1="204" x2="1580.95" y2="208.4" stroke="#7a4020" stroke-width="2.4"/>
<line x1="1580.95" y1="208.4" x2="1595.2" y2="212.8" stroke="#a09cc0" stroke-width="2.4"/>
<line x1="1595.2" y1="212.8" x2="1609.5" y2="216.75" stroke="#7a4020" stroke-width="2.4"/>
<line x1="1609.5" y1="216.75" x2="1623.8" y2="220.7" stroke="#a09cc0" stroke-width="2.4"/>
<line x1="1623.8" y1="220.7" x2="1635.9" y2="212.85" stroke="#7a4020" stroke-width="2.4"/>
<line x1="1635.9" y1="212.85" x2="1648" y2="205" stroke="#a09cc0" stroke-width="2.4"/>
<line x1="1426" y1="212.8" x2="1447.6" y2="212.8" stroke="#7a4020" stroke-width="2.4" />
<line x1="1471.2" y1="181.5" x2="1475.6" y2="196.2" stroke="#7a4020" stroke-width="2.3"/>
<line x1="1475.6" y1="196.2" x2="1480" y2="210.9" stroke="#a09cc0" stroke-width="2.3"/>
<line x1="1480" y1="210.9" x2="1482" y2="225.15" stroke="#7a4020" stroke-width="2.3"/>
<line x1="1482" y1="225.15" x2="1484" y2="239.4" stroke="#a09cc0" stroke-width="2.3"/>
<line x1="1534.2" y1="181.5" x2="1536.6" y2="196.2" stroke="#7a4020" stroke-width="2.3"/>
<line x1="1536.6" y1="196.2" x2="1539" y2="210.9" stroke="#a09cc0" stroke-width="2.3"/>
<line x1="1539" y1="210.9" x2="1540.5" y2="225.65" stroke="#7a4020" stroke-width="2.3"/>
<line x1="1540.5" y1="225.65" x2="1542" y2="240.4" stroke="#a09cc0" stroke-width="2.3"/>
<line x1="1597.2" y1="180.5" x2="1596.2" y2="196.65" stroke="#7a4020" stroke-width="2.3"/>
<line x1="1596.2" y1="196.65" x2="1595.2" y2="212.8" stroke="#a09cc0" stroke-width="2.3"/>
<line x1="1595.2" y1="212.8" x2="1588.8" y2="225.6" stroke="#7a4020" stroke-width="2.3"/>
<line x1="1588.8" y1="225.6" x2="1582.4" y2="238.4" stroke="#a09cc0" stroke-width="2.3"/>
<line x1="1447.6" y1="180.3" x2="1447.6" y2="196.55" stroke="#7a4020" stroke-width="2.3"/>
<line x1="1447.6" y1="196.55" x2="1447.6" y2="212.8" stroke="#a09cc0" stroke-width="2.3"/>
<line x1="1447.6" y1="212.8" x2="1445.6" y2="226.6" stroke="#7a4020" stroke-width="2.3"/>
<line x1="1445.6" y1="226.6" x2="1443.6" y2="240.4" stroke="#a09cc0" stroke-width="2.3"/>
<line x1="1501.7" y1="182.3" x2="1504.15" y2="196.1" stroke="#7a4020" stroke-width="2.3"/>
<line x1="1504.15" y1="196.1" x2="1506.6" y2="209.9" stroke="#a09cc0" stroke-width="2.3"/>
<line x1="1506.6" y1="209.9" x2="1506.1" y2="225.15" stroke="#7a4020" stroke-width="2.3"/>
<line x1="1506.1" y1="225.15" x2="1505.6" y2="240.4" stroke="#a09cc0" stroke-width="2.3"/>
<line x1="1560.8" y1="183.3" x2="1563.75" y2="193.65" stroke="#7a4020" stroke-width="2.3"/>
<line x1="1563.75" y1="193.65" x2="1566.7" y2="204" stroke="#a09cc0" stroke-width="2.3"/>
<line x1="1566.7" y1="204" x2="1567.65" y2="223.2" stroke="#7a4020" stroke-width="2.3"/>
<line x1="1567.65" y1="223.2" x2="1568.6" y2="242.4" stroke="#a09cc0" stroke-width="2.3"/>
<line x1="1624.8" y1="182.3" x2="1624.3" y2="201.5" stroke="#7a4020" stroke-width="2.3"/>
<line x1="1624.3" y1="201.5" x2="1623.8" y2="220.7" stroke="#a09cc0" stroke-width="2.3"/>
<line x1="1623.8" y1="220.7" x2="1624.75" y2="229.55" stroke="#7a4020" stroke-width="2.3"/>
<line x1="1624.75" y1="229.55" x2="1625.7" y2="238.4" stroke="#a09cc0" stroke-width="2.3"/>
<line x1="1472.2" y1="212.8" x2="1486.95" y2="197.55" stroke="#7a4020" stroke-width="2.2"/>
<line x1="1486.95" y1="197.55" x2="1501.7" y2="182.3" stroke="#30dcb0" stroke-width="2.2"/>
<line x1="1472.2" y1="212.8" x2="1457.9" y2="226.6" stroke="#7a4020" stroke-width="2.2"/>
<line x1="1457.9" y1="226.6" x2="1443.6" y2="240.4" stroke="#30dcb0" stroke-width="2.2"/>
<line x1="1506.6" y1="209.9" x2="1533.7" y2="196.6" stroke="#7a4020" stroke-width="2.2"/>
<line x1="1533.7" y1="196.6" x2="1560.8" y2="183.3" stroke="#30dcb0" stroke-width="2.2"/>
<line x1="1480" y1="210.9" x2="1492.8" y2="225.65" stroke="#7a4020" stroke-width="2.2"/>
<line x1="1492.8" y1="225.65" x2="1505.6" y2="240.4" stroke="#30dcb0" stroke-width="2.2"/>
<line x1="1539" y1="210.9" x2="1553.8" y2="226.65" stroke="#7a4020" stroke-width="2.2"/>
<line x1="1553.8" y1="226.65" x2="1568.6" y2="242.4" stroke="#30dcb0" stroke-width="2.2"/>
<line x1="1595.2" y1="212.8" x2="1610" y2="197.55" stroke="#7a4020" stroke-width="2.2"/>
<line x1="1610" y1="197.55" x2="1624.8" y2="182.3" stroke="#30dcb0" stroke-width="2.2"/>
<line x1="1623.8" y1="220.7" x2="1624.75" y2="229.55" stroke="#7a4020" stroke-width="2.2"/>
<line x1="1624.75" y1="229.55" x2="1625.7" y2="238.4" stroke="#30dcb0" stroke-width="2.2"/>
<circle cx="1471.2" cy="181.5" r="4.7" fill="url(#gBr)"/>
<circle cx="1534.2" cy="181.5" r="4.7" fill="url(#gBr)"/>
<circle cx="1597.2" cy="180.5" r="4.7" fill="url(#gBr)"/>
<circle cx="1644.4" cy="182.5" r="4.7" fill="url(#gBr)"/>
<circle cx="1484" cy="239.4" r="4.7" fill="url(#gBr)"/>
<circle cx="1542" cy="240.4" r="4.7" fill="url(#gBr)"/>
<circle cx="1582.4" cy="238.4" r="4.7" fill="url(#gBr)"/>
<circle cx="1447.6" cy="212.8" r="4.7" fill="url(#gBr)"/>
<circle cx="1472.2" cy="212.8" r="4.7" fill="url(#gBr)"/>
<circle cx="1506.6" cy="209.9" r="4.7" fill="url(#gBr)"/>
<circle cx="1566.7" cy="204" r="4.7" fill="url(#gBr)"/>
<circle cx="1623.8" cy="220.7" r="4.7" fill="url(#gBr)"/>
<circle cx="1480" cy="210.9" r="5.6" fill="url(#gSn)"/>
<circle cx="1539" cy="210.9" r="5.6" fill="url(#gSn)"/>
<circle cx="1595.2" cy="212.8" r="5.6" fill="url(#gSn)"/>
<circle cx="1447.6" cy="180.3" r="10.8" fill="url(#gCs)"/>
<circle cx="1501.7" cy="182.3" r="10.8" fill="url(#gCs)"/>
<circle cx="1560.8" cy="183.3" r="10.8" fill="url(#gCs)"/>
<circle cx="1624.8" cy="182.3" r="10.8" fill="url(#gCs)"/>
<circle cx="1443.6" cy="240.4" r="10.8" fill="url(#gCs)"/>
<circle cx="1505.6" cy="240.4" r="10.8" fill="url(#gCs)"/>
<circle cx="1568.6" cy="242.4" r="10.8" fill="url(#gCs)"/>
<circle cx="1625.7" cy="238.4" r="10.8" fill="url(#gCs)"/>
</g>
<line x1="1276" y1="594.7" x2="1276.5" y2="613.35" stroke="#e8e428" stroke-width="2.4"/>
<line x1="1276.5" y1="613.35" x2="1277" y2="632" stroke="#a09cc0" stroke-width="2.4"/>
<line x1="1291.9" y1="595.5" x2="1292.4" y2="613.75" stroke="#e8e428" stroke-width="2.4"/>
<line x1="1292.4" y1="613.75" x2="1292.9" y2="632" stroke="#a09cc0" stroke-width="2.4"/>
<line x1="1303.3" y1="596.9" x2="1303.8" y2="614.45" stroke="#e8e428" stroke-width="2.4"/>
<line x1="1303.8" y1="614.45" x2="1304.3" y2="632" stroke="#a09cc0" stroke-width="2.4"/>
<line x1="1314.3" y1="597.3" x2="1314.8" y2="614.65" stroke="#e8e428" stroke-width="2.4"/>
<line x1="1314.8" y1="614.65" x2="1315.3" y2="632" stroke="#a09cc0" stroke-width="2.4"/>
<line x1="1361.9" y1="596.4" x2="1362.4" y2="614.2" stroke="#e8e428" stroke-width="2.4"/>
<line x1="1362.4" y1="614.2" x2="1362.9" y2="632" stroke="#a09cc0" stroke-width="2.4"/>
<line x1="1375.1" y1="595.5" x2="1375.6" y2="613.75" stroke="#e8e428" stroke-width="2.4"/>
<line x1="1375.6" y1="613.75" x2="1376.1" y2="632" stroke="#a09cc0" stroke-width="2.4"/>
<line x1="1423.3" y1="592.9" x2="1423.8" y2="612.45" stroke="#e8e428" stroke-width="2.4"/>
<line x1="1423.8" y1="612.45" x2="1424.3" y2="632" stroke="#a09cc0" stroke-width="2.4"/>
<line x1="1436.1" y1="598.2" x2="1436.6" y2="615.1" stroke="#e8e428" stroke-width="2.4"/>
<line x1="1436.6" y1="615.1" x2="1437.1" y2="632" stroke="#a09cc0" stroke-width="2.4"/>
<line x1="1485" y1="600" x2="1485.5" y2="616" stroke="#e8e428" stroke-width="2.4"/>
<line x1="1485.5" y1="616" x2="1486" y2="632" stroke="#a09cc0" stroke-width="2.4"/>
<line x1="1495.6" y1="596.4" x2="1496.1" y2="614.2" stroke="#e8e428" stroke-width="2.4"/>
<line x1="1496.1" y1="614.2" x2="1496.6" y2="632" stroke="#a09cc0" stroke-width="2.4"/>
<line x1="1314.3" y1="589" x2="1314.3" y2="609.5" stroke="#a09cc0" stroke-width="2.4"/>
<line x1="1314.3" y1="609.5" x2="1314.3" y2="630" stroke="#e8e428" stroke-width="2.4"/>
<line x1="1325.8" y1="591.1" x2="1325.8" y2="610.55" stroke="#a09cc0" stroke-width="2.4"/>
<line x1="1325.8" y1="610.55" x2="1325.8" y2="630" stroke="#e8e428" stroke-width="2.4"/>
<line x1="1339" y1="593.3" x2="1339" y2="611.65" stroke="#a09cc0" stroke-width="2.4"/>
<line x1="1339" y1="611.65" x2="1339" y2="630" stroke="#e8e428" stroke-width="2.4"/>
<line x1="1350.9" y1="585" x2="1350.9" y2="607.5" stroke="#a09cc0" stroke-width="2.4"/>
<line x1="1350.9" y1="607.5" x2="1350.9" y2="630" stroke="#e8e428" stroke-width="2.4"/>
<line x1="1373.4" y1="589.4" x2="1373.4" y2="609.7" stroke="#a09cc0" stroke-width="2.4"/>
<line x1="1373.4" y1="609.7" x2="1373.4" y2="630" stroke="#e8e428" stroke-width="2.4"/>
<line x1="1385.3" y1="589.8" x2="1385.3" y2="609.9" stroke="#a09cc0" stroke-width="2.4"/>
<line x1="1385.3" y1="609.9" x2="1385.3" y2="630" stroke="#e8e428" stroke-width="2.4"/>
<line x1="1398.9" y1="594.2" x2="1398.9" y2="612.1" stroke="#a09cc0" stroke-width="2.4"/>
<line x1="1398.9" y1="612.1" x2="1398.9" y2="630" stroke="#e8e428" stroke-width="2.4"/>
<line x1="1411.5" y1="592" x2="1411.5" y2="611" stroke="#a09cc0" stroke-width="2.4"/>
<line x1="1411.5" y1="611" x2="1411.5" y2="630" stroke="#e8e428" stroke-width="2.4"/>
<line x1="1437" y1="589.4" x2="1437" y2="609.7" stroke="#a09cc0" stroke-width="2.4"/>
<line x1="1437" y1="609.7" x2="1437" y2="630" stroke="#e8e428" stroke-width="2.4"/>
<line x1="1449.3" y1="586.7" x2="1449.3" y2="608.35" stroke="#a09cc0" stroke-width="2.4"/>
<line x1="1449.3" y1="608.35" x2="1449.3" y2="630" stroke="#e8e428" stroke-width="2.4"/>
<line x1="1457.3" y1="592.9" x2="1457.3" y2="611.45" stroke="#a09cc0" stroke-width="2.4"/>
<line x1="1457.3" y1="611.45" x2="1457.3" y2="630" stroke="#e8e428" stroke-width="2.4"/>
<line x1="1473.1" y1="592.5" x2="1473.1" y2="611.25" stroke="#a09cc0" stroke-width="2.4"/>
<line x1="1473.1" y1="611.25" x2="1473.1" y2="630" stroke="#e8e428" stroke-width="2.4"/>
<line x1="1499.6" y1="591.1" x2="1499.6" y2="610.55" stroke="#a09cc0" stroke-width="2.4"/>
<line x1="1499.6" y1="610.55" x2="1499.6" y2="630" stroke="#e8e428" stroke-width="2.4"/>
<line x1="1511.9" y1="595.6" x2="1511.9" y2="612.8" stroke="#a09cc0" stroke-width="2.4"/>
<line x1="1511.9" y1="612.8" x2="1511.9" y2="630" stroke="#e8e428" stroke-width="2.4"/>
<line x1="1521.6" y1="589.4" x2="1521.6" y2="609.7" stroke="#a09cc0" stroke-width="2.4"/>
<line x1="1521.6" y1="609.7" x2="1521.6" y2="630" stroke="#e8e428" stroke-width="2.4"/>
<line x1="1531.3" y1="593.8" x2="1531.3" y2="611.9" stroke="#a09cc0" stroke-width="2.4"/>
<line x1="1531.3" y1="611.9" x2="1531.3" y2="630" stroke="#e8e428" stroke-width="2.4"/>
<line x1="1276" y1="594.7" x2="1325" y2="597" stroke="#e8e428" stroke-width="2" />
<line x1="1362" y1="596.4" x2="1400" y2="594" stroke="#e8e428" stroke-width="2" />
<line x1="1423" y1="593" x2="1470" y2="596" stroke="#e8e428" stroke-width="2" />
<line x1="1325" y1="628" x2="1360" y2="632" stroke="#e8e428" stroke-width="2" />
<line x1="1444" y1="628" x2="1475" y2="632" stroke="#e8e428" stroke-width="2" />
<circle cx="1314.3" cy="589" r="8.4" fill="url(#gSn)"/>
<circle cx="1325.8" cy="591.1" r="8.4" fill="url(#gSn)"/>
<circle cx="1339" cy="593.3" r="8.4" fill="url(#gSn)"/>
<circle cx="1350.9" cy="585" r="8.4" fill="url(#gSn)"/>
<circle cx="1373.4" cy="589.4" r="8.4" fill="url(#gSn)"/>
<circle cx="1385.3" cy="589.8" r="8.4" fill="url(#gSn)"/>
<circle cx="1398.9" cy="594.2" r="8.4" fill="url(#gSn)"/>
<circle cx="1411.5" cy="592" r="8.4" fill="url(#gSn)"/>
<circle cx="1437" cy="589.4" r="8.4" fill="url(#gSn)"/>
<circle cx="1449.3" cy="586.7" r="8.4" fill="url(#gSn)"/>
<circle cx="1457.3" cy="592.9" r="8.4" fill="url(#gSn)"/>
<circle cx="1473.1" cy="592.5" r="8.4" fill="url(#gSn)"/>
<circle cx="1499.6" cy="591.1" r="8.4" fill="url(#gSn)"/>
<circle cx="1511.9" cy="595.6" r="8.4" fill="url(#gSn)"/>
<circle cx="1521.6" cy="589.4" r="8.4" fill="url(#gSn)"/>
<circle cx="1531.3" cy="593.8" r="8.4" fill="url(#gSn)"/>
<circle cx="1276" cy="594.7" r="6" fill="url(#gS)"/>
<circle cx="1291.9" cy="595.5" r="6" fill="url(#gS)"/>
<circle cx="1303.3" cy="596.9" r="6" fill="url(#gS)"/>
<circle cx="1314.3" cy="597.3" r="6" fill="url(#gS)"/>
<circle cx="1361.9" cy="596.4" r="6" fill="url(#gS)"/>
<circle cx="1375.1" cy="595.5" r="6" fill="url(#gS)"/>
<circle cx="1423.3" cy="592.9" r="6" fill="url(#gS)"/>
<circle cx="1436.1" cy="598.2" r="6" fill="url(#gS)"/>
<circle cx="1485" cy="600" r="6" fill="url(#gS)"/>
<circle cx="1495.6" cy="596.4" r="6" fill="url(#gS)"/>
<circle cx="1277.3" cy="631.7" r="8.4" fill="url(#gSn)"/>
<circle cx="1289.2" cy="635.2" r="8.4" fill="url(#gSn)"/>
<circle cx="1301.1" cy="637" r="8.4" fill="url(#gSn)"/>
<circle cx="1313" cy="634.8" r="8.4" fill="url(#gSn)"/>
<circle cx="1335.5" cy="638.7" r="8.4" fill="url(#gSn)"/>
<circle cx="1348.7" cy="637" r="8.4" fill="url(#gSn)"/>
<circle cx="1360.2" cy="633.4" r="8.4" fill="url(#gSn)"/>
<circle cx="1376.5" cy="633.4" r="8.4" fill="url(#gSn)"/>
<circle cx="1398.9" cy="639.6" r="8.4" fill="url(#gSn)"/>
<circle cx="1422.9" cy="631.7" r="8.4" fill="url(#gSn)"/>
<circle cx="1435.2" cy="637.8" r="8.4" fill="url(#gSn)"/>
<circle cx="1459.9" cy="638.7" r="8.4" fill="url(#gSn)"/>
<circle cx="1479.3" cy="638.7" r="8.4" fill="url(#gSn)"/>
<circle cx="1495.2" cy="635.2" r="8.4" fill="url(#gSn)"/>
<circle cx="1510.1" cy="635.2" r="8.4" fill="url(#gSn)"/>
<circle cx="1324.5" cy="628.1" r="6" fill="url(#gS)"/>
<circle cx="1336.8" cy="631.7" r="6" fill="url(#gS)"/>
<circle cx="1348.7" cy="623.7" r="6" fill="url(#gS)"/>
<circle cx="1387.9" cy="628.1" r="6" fill="url(#gS)"/>
<circle cx="1399.4" cy="631.7" r="6" fill="url(#gS)"/>
<circle cx="1410.1" cy="631.7" r="6" fill="url(#gS)"/>
<circle cx="1444" cy="628.1" r="6" fill="url(#gS)"/>
<circle cx="1458.1" cy="630.8" r="6" fill="url(#gS)"/>
<circle cx="1472.2" cy="631.7" r="6" fill="url(#gS)"/>
<circle cx="1511" cy="635.2" r="6" fill="url(#gS)"/>
<circle cx="1520.7" cy="629" r="6" fill="url(#gS)"/>
<circle cx="1531.3" cy="632.6" r="6" fill="url(#gS)"/>
<circle cx="1408" cy="716" r="10" fill="url(#gSn)"/>
<circle cx="1477" cy="714" r="10" fill="url(#gSn)"/>
<circle cx="1553" cy="713" r="10" fill="url(#gSn)"/>
<circle cx="1627" cy="714" r="10" fill="url(#gSn)"/>
<circle cx="1366" cy="766" r="10" fill="url(#gSn)"/>
<circle cx="1436" cy="768" r="10" fill="url(#gSn)"/>
<circle cx="1514" cy="765" r="10" fill="url(#gSn)"/>
<circle cx="1586" cy="766" r="10" fill="url(#gSn)"/>
<line x1="1369.4" y1="718.6" x2="1369.9" y2="740.3" stroke="#e8e428" stroke-width="2.6"/>
<line x1="1369.9" y1="740.3" x2="1370.4" y2="762" stroke="#a09cc0" stroke-width="2.6"/>
<line x1="1380.7" y1="721.1" x2="1381.2" y2="741.55" stroke="#e8e428" stroke-width="2.6"/>
<line x1="1381.2" y1="741.55" x2="1381.7" y2="762" stroke="#a09cc0" stroke-width="2.6"/>
<line x1="1385.6" y1="723.1" x2="1386.1" y2="742.55" stroke="#e8e428" stroke-width="2.6"/>
<line x1="1386.1" y1="742.55" x2="1386.6" y2="762" stroke="#a09cc0" stroke-width="2.6"/>
<line x1="1393" y1="726.5" x2="1393.5" y2="744.25" stroke="#e8e428" stroke-width="2.6"/>
<line x1="1393.5" y1="744.25" x2="1394" y2="762" stroke="#a09cc0" stroke-width="2.6"/>
<line x1="1446.7" y1="712.7" x2="1447.2" y2="737.35" stroke="#e8e428" stroke-width="2.6"/>
<line x1="1447.2" y1="737.35" x2="1447.7" y2="762" stroke="#a09cc0" stroke-width="2.6"/>
<line x1="1454.5" y1="717.6" x2="1455" y2="739.8" stroke="#e8e428" stroke-width="2.6"/>
<line x1="1455" y1="739.8" x2="1455.5" y2="762" stroke="#a09cc0" stroke-width="2.6"/>
<line x1="1466.8" y1="723.6" x2="1467.3" y2="742.8" stroke="#e8e428" stroke-width="2.6"/>
<line x1="1467.3" y1="742.8" x2="1467.8" y2="762" stroke="#a09cc0" stroke-width="2.6"/>
<line x1="1524.8" y1="714.7" x2="1525.3" y2="738.35" stroke="#e8e428" stroke-width="2.6"/>
<line x1="1525.3" y1="738.35" x2="1525.8" y2="762" stroke="#a09cc0" stroke-width="2.6"/>
<line x1="1530.7" y1="719.6" x2="1531.2" y2="740.8" stroke="#e8e428" stroke-width="2.6"/>
<line x1="1531.2" y1="740.8" x2="1531.7" y2="762" stroke="#a09cc0" stroke-width="2.6"/>
<line x1="1540.5" y1="726" x2="1541" y2="744" stroke="#e8e428" stroke-width="2.6"/>
<line x1="1541" y1="744" x2="1541.5" y2="762" stroke="#a09cc0" stroke-width="2.6"/>
<line x1="1599.6" y1="715.7" x2="1600.1" y2="738.85" stroke="#e8e428" stroke-width="2.6"/>
<line x1="1600.1" y1="738.85" x2="1600.6" y2="762" stroke="#a09cc0" stroke-width="2.6"/>
<line x1="1611.4" y1="723.6" x2="1611.9" y2="742.8" stroke="#e8e428" stroke-width="2.6"/>
<line x1="1611.9" y1="742.8" x2="1612.4" y2="762" stroke="#a09cc0" stroke-width="2.6"/>
<line x1="1413.2" y1="712.7" x2="1413.2" y2="736.35" stroke="#a09cc0" stroke-width="2.6"/>
<line x1="1413.2" y1="736.35" x2="1413.2" y2="760" stroke="#e8e428" stroke-width="2.6"/>
<line x1="1419.1" y1="715.7" x2="1419.1" y2="737.85" stroke="#a09cc0" stroke-width="2.6"/>
<line x1="1419.1" y1="737.85" x2="1419.1" y2="760" stroke="#e8e428" stroke-width="2.6"/>
<line x1="1425" y1="722.6" x2="1425" y2="741.3" stroke="#a09cc0" stroke-width="2.6"/>
<line x1="1425" y1="741.3" x2="1425" y2="760" stroke="#e8e428" stroke-width="2.6"/>
<line x1="1433.4" y1="713.2" x2="1433.4" y2="736.6" stroke="#a09cc0" stroke-width="2.6"/>
<line x1="1433.4" y1="736.6" x2="1433.4" y2="760" stroke="#e8e428" stroke-width="2.6"/>
<line x1="1483.1" y1="711.7" x2="1483.1" y2="735.85" stroke="#a09cc0" stroke-width="2.6"/>
<line x1="1483.1" y1="735.85" x2="1483.1" y2="760" stroke="#e8e428" stroke-width="2.6"/>
<line x1="1491" y1="714.7" x2="1491" y2="737.35" stroke="#a09cc0" stroke-width="2.6"/>
<line x1="1491" y1="737.35" x2="1491" y2="760" stroke="#e8e428" stroke-width="2.6"/>
<line x1="1497.9" y1="719.6" x2="1497.9" y2="739.8" stroke="#a09cc0" stroke-width="2.6"/>
<line x1="1497.9" y1="739.8" x2="1497.9" y2="760" stroke="#e8e428" stroke-width="2.6"/>
<line x1="1505.7" y1="719.6" x2="1505.7" y2="739.8" stroke="#a09cc0" stroke-width="2.6"/>
<line x1="1505.7" y1="739.8" x2="1505.7" y2="760" stroke="#e8e428" stroke-width="2.6"/>
<line x1="1559.2" y1="709.8" x2="1559.2" y2="734.9" stroke="#a09cc0" stroke-width="2.6"/>
<line x1="1559.2" y1="734.9" x2="1559.2" y2="760" stroke="#e8e428" stroke-width="2.6"/>
<line x1="1566.1" y1="717.6" x2="1566.1" y2="738.8" stroke="#a09cc0" stroke-width="2.6"/>
<line x1="1566.1" y1="738.8" x2="1566.1" y2="760" stroke="#e8e428" stroke-width="2.6"/>
<line x1="1580.9" y1="720.1" x2="1580.9" y2="740.05" stroke="#a09cc0" stroke-width="2.6"/>
<line x1="1580.9" y1="740.05" x2="1580.9" y2="760" stroke="#e8e428" stroke-width="2.6"/>
<line x1="1633.1" y1="711.7" x2="1633.1" y2="735.85" stroke="#a09cc0" stroke-width="2.6"/>
<line x1="1633.1" y1="735.85" x2="1633.1" y2="760" stroke="#e8e428" stroke-width="2.6"/>
<line x1="1641" y1="714.7" x2="1641" y2="737.35" stroke="#a09cc0" stroke-width="2.6"/>
<line x1="1641" y1="737.35" x2="1641" y2="760" stroke="#e8e428" stroke-width="2.6"/>
<line x1="1649.8" y1="721.1" x2="1649.8" y2="740.55" stroke="#a09cc0" stroke-width="2.6"/>
<line x1="1649.8" y1="740.55" x2="1649.8" y2="760" stroke="#e8e428" stroke-width="2.6"/>
<line x1="1415.1" y1="760" x2="1414.1" y2="722" stroke="#e8e428" stroke-width="2.2" />
<line x1="1424" y1="764.9" x2="1423" y2="722" stroke="#e8e428" stroke-width="2.2" />
<line x1="1431.9" y1="758" x2="1430.9" y2="722" stroke="#e8e428" stroke-width="2.2" />
<line x1="1482.1" y1="759" x2="1481.1" y2="722" stroke="#e8e428" stroke-width="2.2" />
<line x1="1492" y1="760" x2="1491" y2="722" stroke="#e8e428" stroke-width="2.2" />
<line x1="1505.7" y1="766.9" x2="1504.7" y2="722" stroke="#e8e428" stroke-width="2.2" />
<line x1="1559.2" y1="758" x2="1558.2" y2="722" stroke="#e8e428" stroke-width="2.2" />
<line x1="1570.1" y1="762.9" x2="1569.1" y2="722" stroke="#e8e428" stroke-width="2.2" />
<line x1="1579.9" y1="765.9" x2="1578.9" y2="722" stroke="#e8e428" stroke-width="2.2" />
<line x1="1632.1" y1="759" x2="1631.1" y2="722" stroke="#e8e428" stroke-width="2.2" />
<line x1="1642" y1="761" x2="1641" y2="722" stroke="#e8e428" stroke-width="2.2" />
<line x1="1650.8" y1="765.4" x2="1649.8" y2="722" stroke="#e8e428" stroke-width="2.2" />
<line x1="1369" y1="719" x2="1391" y2="716" stroke="#e8e428" stroke-width="3"/>
<line x1="1391" y1="716" x2="1413" y2="713" stroke="#a09cc0" stroke-width="3"/>
<line x1="1446" y1="713" x2="1464.5" y2="712.5" stroke="#e8e428" stroke-width="3"/>
<line x1="1464.5" y1="712.5" x2="1483" y2="712" stroke="#a09cc0" stroke-width="3"/>
<line x1="1525" y1="715" x2="1542" y2="712.5" stroke="#e8e428" stroke-width="3"/>
<line x1="1542" y1="712.5" x2="1559" y2="710" stroke="#a09cc0" stroke-width="3"/>
<line x1="1600" y1="716" x2="1616.5" y2="714" stroke="#e8e428" stroke-width="3"/>
<line x1="1616.5" y1="714" x2="1633" y2="712" stroke="#a09cc0" stroke-width="3"/>
<line x1="1393" y1="726" x2="1409" y2="724.5" stroke="#e8e428" stroke-width="3"/>
<line x1="1409" y1="724.5" x2="1425" y2="723" stroke="#a09cc0" stroke-width="3"/>
<line x1="1467" y1="724" x2="1482.5" y2="722" stroke="#e8e428" stroke-width="3"/>
<line x1="1482.5" y1="722" x2="1498" y2="720" stroke="#a09cc0" stroke-width="3"/>
<line x1="1540" y1="726" x2="1553" y2="722" stroke="#e8e428" stroke-width="3"/>
<line x1="1553" y1="722" x2="1566" y2="718" stroke="#a09cc0" stroke-width="3"/>
<line x1="1611" y1="724" x2="1626" y2="719.5" stroke="#e8e428" stroke-width="3"/>
<line x1="1626" y1="719.5" x2="1641" y2="715" stroke="#a09cc0" stroke-width="3"/>
<line x1="1371" y1="762" x2="1393" y2="761" stroke="#a09cc0" stroke-width="3"/>
<line x1="1393" y1="761" x2="1415" y2="760" stroke="#e8e428" stroke-width="3"/>
<line x1="1442" y1="765" x2="1462" y2="762" stroke="#a09cc0" stroke-width="3"/>
<line x1="1462" y1="762" x2="1482" y2="759" stroke="#e8e428" stroke-width="3"/>
<line x1="1521" y1="762" x2="1540" y2="760" stroke="#a09cc0" stroke-width="3"/>
<line x1="1540" y1="760" x2="1559" y2="758" stroke="#e8e428" stroke-width="3"/>
<line x1="1592" y1="764" x2="1612" y2="761.5" stroke="#a09cc0" stroke-width="3"/>
<line x1="1612" y1="761.5" x2="1632" y2="759" stroke="#e8e428" stroke-width="3"/>
<line x1="1392" y1="770" x2="1408" y2="767.5" stroke="#a09cc0" stroke-width="3"/>
<line x1="1408" y1="767.5" x2="1424" y2="765" stroke="#e8e428" stroke-width="3"/>
<line x1="1469" y1="769" x2="1480.5" y2="764.5" stroke="#a09cc0" stroke-width="3"/>
<line x1="1480.5" y1="764.5" x2="1492" y2="760" stroke="#e8e428" stroke-width="3"/>
<line x1="1539" y1="773" x2="1554.5" y2="768" stroke="#a09cc0" stroke-width="3"/>
<line x1="1554.5" y1="768" x2="1570" y2="763" stroke="#e8e428" stroke-width="3"/>
<line x1="1612" y1="768" x2="1627" y2="764.5" stroke="#a09cc0" stroke-width="3"/>
<line x1="1627" y1="764.5" x2="1642" y2="761" stroke="#e8e428" stroke-width="3"/>
<circle cx="1413.2" cy="712.7" r="10.2" fill="url(#gSn)"/>
<circle cx="1419.1" cy="715.7" r="10.2" fill="url(#gSn)"/>
<circle cx="1425" cy="722.6" r="10.2" fill="url(#gSn)"/>
<circle cx="1433.4" cy="713.2" r="10.2" fill="url(#gSn)"/>
<circle cx="1483.1" cy="711.7" r="10.2" fill="url(#gSn)"/>
<circle cx="1491" cy="714.7" r="10.2" fill="url(#gSn)"/>
<circle cx="1497.9" cy="719.6" r="10.2" fill="url(#gSn)"/>
<circle cx="1505.7" cy="719.6" r="10.2" fill="url(#gSn)"/>
<circle cx="1559.2" cy="709.8" r="10.2" fill="url(#gSn)"/>
<circle cx="1566.1" cy="717.6" r="10.2" fill="url(#gSn)"/>
<circle cx="1580.9" cy="720.1" r="10.2" fill="url(#gSn)"/>
<circle cx="1633.1" cy="711.7" r="10.2" fill="url(#gSn)"/>
<circle cx="1641" cy="714.7" r="10.2" fill="url(#gSn)"/>
<circle cx="1649.8" cy="721.1" r="10.2" fill="url(#gSn)"/>
<circle cx="1369.4" cy="718.6" r="6.8" fill="url(#gS)"/>
<circle cx="1380.7" cy="721.1" r="6.8" fill="url(#gS)"/>
<circle cx="1385.6" cy="723.1" r="6.8" fill="url(#gS)"/>
<circle cx="1393" cy="726.5" r="6.8" fill="url(#gS)"/>
<circle cx="1446.7" cy="712.7" r="6.8" fill="url(#gS)"/>
<circle cx="1454.5" cy="717.6" r="6.8" fill="url(#gS)"/>
<circle cx="1466.8" cy="723.6" r="6.8" fill="url(#gS)"/>
<circle cx="1524.8" cy="714.7" r="6.8" fill="url(#gS)"/>
<circle cx="1530.7" cy="719.6" r="6.8" fill="url(#gS)"/>
<circle cx="1540.5" cy="726" r="6.8" fill="url(#gS)"/>
<circle cx="1599.6" cy="715.7" r="6.8" fill="url(#gS)"/>
<circle cx="1611.4" cy="723.6" r="6.8" fill="url(#gS)"/>
<circle cx="1415.1" cy="760" r="6.8" fill="url(#gS)"/>
<circle cx="1424" cy="764.9" r="6.8" fill="url(#gS)"/>
<circle cx="1431.9" cy="758" r="6.8" fill="url(#gS)"/>
<circle cx="1482.1" cy="759" r="6.8" fill="url(#gS)"/>
<circle cx="1492" cy="760" r="6.8" fill="url(#gS)"/>
<circle cx="1505.7" cy="766.9" r="6.8" fill="url(#gS)"/>
<circle cx="1559.2" cy="758" r="6.8" fill="url(#gS)"/>
<circle cx="1570.1" cy="762.9" r="6.8" fill="url(#gS)"/>
<circle cx="1579.9" cy="765.9" r="6.8" fill="url(#gS)"/>
<circle cx="1632.1" cy="759" r="6.8" fill="url(#gS)"/>
<circle cx="1642" cy="761" r="6.8" fill="url(#gS)"/>
<circle cx="1650.8" cy="765.4" r="6.8" fill="url(#gS)"/>
<circle cx="1370.8" cy="762" r="10.2" fill="url(#gSn)"/>
<circle cx="1376.7" cy="765.9" r="10.2" fill="url(#gSn)"/>
<circle cx="1384.6" cy="767.9" r="10.2" fill="url(#gSn)"/>
<circle cx="1392.5" cy="770.3" r="10.2" fill="url(#gSn)"/>
<circle cx="1441.7" cy="764.9" r="10.2" fill="url(#gSn)"/>
<circle cx="1454.5" cy="767.9" r="10.2" fill="url(#gSn)"/>
<circle cx="1469.3" cy="769.3" r="10.2" fill="url(#gSn)"/>
<circle cx="1520.8" cy="762" r="10.2" fill="url(#gSn)"/>
<circle cx="1530.7" cy="763.9" r="10.2" fill="url(#gSn)"/>
<circle cx="1539.5" cy="772.8" r="10.2" fill="url(#gSn)"/>
<circle cx="1591.7" cy="763.9" r="10.2" fill="url(#gSn)"/>
<circle cx="1598.6" cy="767.9" r="10.2" fill="url(#gSn)"/>
<circle cx="1612.4" cy="768.4" r="10.2" fill="url(#gSn)"/>
<rect x="93.8" y="700" width="8.5" height="57" fill="url(#shGv)"/>
<polygon points="97.5,676.9 87.3,703.6 107.7,703.6" fill="#2ad42a" />
<polygon points="97.5,676.9 97.5,703.6 107.7,703.6" fill="#1fb81f" />
<rect x="104" y="757.5" width="51" height="8" fill="url(#shRh)"/>
<polygon points="183.5,761.5 153.8,751 153.8,772" fill="#e01c1c" />
<polygon points="183.5,761.5 153.8,761.5 153.8,772" fill="#c01212" />
<circle cx="97.3" cy="761.6" r="9.8" fill="url(#gBlueBall)"/>
<text x="97.5" y="767.5" font-family="'Liberation Sans', sans-serif" font-size="16" font-weight="bold" text-anchor="middle" fill="#303030" >c</text>
<text x="98.6" y="664.7" font-family="'Liberation Sans', sans-serif" font-size="20" font-weight="bold" text-anchor="middle" fill="#000" >b</text>
<text x="201.8" y="768" font-family="'Liberation Sans', sans-serif" font-size="20" font-weight="bold" text-anchor="middle" fill="#000" >a</text>
<rect x="95" y="862" width="8" height="55" fill="url(#shBv)"/>
<polygon points="99.3,836.8 88.2,866 109.6,866" fill="#1a26cc" />
<rect x="106" y="919.5" width="53" height="8" fill="url(#shGh)"/>
<polygon points="185,923.5 157.4,912.8 157.4,934.2" fill="#2ad42a" />
<polygon points="185,923.5 157.4,923.5 157.4,934.2" fill="#1a9a30" />
<circle cx="99" cy="923.4" r="10.3" fill="url(#gRedBall)"/>
<text x="99.5" y="929.5" font-family="'Liberation Sans', sans-serif" font-size="16" font-weight="bold" text-anchor="middle" fill="#e8e8e8" >a</text>
<text x="99.7" y="825" font-family="'Liberation Sans', sans-serif" font-size="20" font-weight="bold" text-anchor="middle" fill="#000" >c</text>
<text x="204.5" y="928.2" font-family="'Liberation Sans', sans-serif" font-size="20" font-weight="bold" text-anchor="middle" fill="#000" >b</text>
<circle cx="334.6" cy="591.8" r="8.3" fill="url(#gS)"/>
<circle cx="447.4" cy="591.8" r="8.3" fill="url(#gS)"/>
<circle cx="334.6" cy="713.7" r="8.3" fill="url(#gS)"/>
<circle cx="447.4" cy="713.7" r="8.3" fill="url(#gS)"/>
<line x1="334.6" y1="591.8" x2="306.5" y2="613.2" stroke="#e6e22a" stroke-width="4.2"/>
<line x1="306.5" y1="613.2" x2="278.4" y2="634.6" stroke="#a8a4c2" stroke-width="4.2"/>
<line x1="334.6" y1="591.8" x2="362.75" y2="613.2" stroke="#e6e22a" stroke-width="4.2"/>
<line x1="362.75" y1="613.2" x2="390.9" y2="634.6" stroke="#a8a4c2" stroke-width="4.2"/>
<line x1="447.4" y1="591.8" x2="419.15" y2="613.2" stroke="#e6e22a" stroke-width="4.2"/>
<line x1="419.15" y1="613.2" x2="390.9" y2="634.6" stroke="#a8a4c2" stroke-width="4.2"/>
<line x1="278.9" y1="646.3" x2="306.75" y2="671.55" stroke="#e6e22a" stroke-width="4.2"/>
<line x1="306.75" y1="671.55" x2="334.6" y2="696.8" stroke="#a8a4c2" stroke-width="4.2"/>
<line x1="390.3" y1="646.3" x2="362.45" y2="671.55" stroke="#e6e22a" stroke-width="4.2"/>
<line x1="362.45" y1="671.55" x2="334.6" y2="696.8" stroke="#a8a4c2" stroke-width="4.2"/>
<line x1="390.3" y1="646.3" x2="418.85" y2="671.55" stroke="#e6e22a" stroke-width="4.2"/>
<line x1="418.85" y1="671.55" x2="447.4" y2="696.8" stroke="#a8a4c2" stroke-width="4.2"/>
<line x1="334.6" y1="713.7" x2="306.5" y2="735.7" stroke="#e6e22a" stroke-width="4.2"/>
<line x1="306.5" y1="735.7" x2="278.4" y2="757.7" stroke="#a8a4c2" stroke-width="4.2"/>
<line x1="334.6" y1="713.7" x2="362.75" y2="735.7" stroke="#e6e22a" stroke-width="4.2"/>
<line x1="362.75" y1="735.7" x2="390.9" y2="757.7" stroke="#a8a4c2" stroke-width="4.2"/>
<line x1="447.4" y1="713.7" x2="419.15" y2="735.7" stroke="#e6e22a" stroke-width="4.2"/>
<line x1="419.15" y1="735.7" x2="390.9" y2="757.7" stroke="#a8a4c2" stroke-width="4.2"/>
<circle cx="334.6" cy="575" r="17.6" fill="url(#gSn)"/>
<circle cx="447.4" cy="575" r="17.6" fill="url(#gSn)"/>
<circle cx="278.4" cy="634.6" r="17.6" fill="url(#gSn)"/>
<circle cx="390.9" cy="634.6" r="17.6" fill="url(#gSn)"/>
<circle cx="334.6" cy="696.8" r="17.6" fill="url(#gSn)"/>
<circle cx="447.4" cy="696.8" r="17.6" fill="url(#gSn)"/>
<circle cx="278.4" cy="757.7" r="17.6" fill="url(#gSn)"/>
<circle cx="390.9" cy="757.7" r="17.6" fill="url(#gSn)"/>
<circle cx="278.9" cy="646.3" r="9.8" fill="url(#gS)"/>
<circle cx="390.3" cy="646.3" r="9.8" fill="url(#gS)"/>
<circle cx="278.4" cy="768" r="9.8" fill="url(#gS)"/>
<circle cx="390.3" cy="768" r="9.8" fill="url(#gS)"/>
<path d="M325.6,592.3 A17.6,17.6 0 0,0 343.6,592.3" fill="none" stroke="#e8e030" stroke-width="3.5"/>
<path d="M438.4,592.3 A17.6,17.6 0 0,0 456.4,592.3" fill="none" stroke="#e8e030" stroke-width="3.5"/>
<path d="M325.6,714.2 A17.6,17.6 0 0,0 343.6,714.2" fill="none" stroke="#e8e030" stroke-width="3.5"/>
<path d="M438.4,714.2 A17.6,17.6 0 0,0 456.4,714.2" fill="none" stroke="#e8e030" stroke-width="3.5"/>
<line x1="266.4" y1="855.9" x2="271.85" y2="892.8" stroke="#e6e22a" stroke-width="5"/>
<line x1="271.85" y1="892.8" x2="277.3" y2="929.7" stroke="#a8a4c2" stroke-width="5"/>
<line x1="339.5" y1="845.8" x2="333.65" y2="882.7" stroke="#a8a4c2" stroke-width="5"/>
<line x1="333.65" y1="882.7" x2="327.8" y2="919.6" stroke="#e6e22a" stroke-width="5"/>
<line x1="339.5" y1="845.8" x2="364.75" y2="850.85" stroke="#a8a4c2" stroke-width="5"/>
<line x1="364.75" y1="850.85" x2="390" y2="855.9" stroke="#e6e22a" stroke-width="5"/>
<line x1="390" y1="855.9" x2="395.45" y2="892.8" stroke="#e6e22a" stroke-width="5"/>
<line x1="395.45" y1="892.8" x2="400.9" y2="929.7" stroke="#a8a4c2" stroke-width="5"/>
<line x1="277.3" y1="929.7" x2="302.55" y2="924.65" stroke="#a8a4c2" stroke-width="5"/>
<line x1="302.55" y1="924.65" x2="327.8" y2="919.6" stroke="#e6e22a" stroke-width="5"/>
<line x1="400.9" y1="929.7" x2="426.15" y2="924.65" stroke="#a8a4c2" stroke-width="5"/>
<line x1="426.15" y1="924.65" x2="451.4" y2="919.6" stroke="#e6e22a" stroke-width="5"/>
<line x1="462.3" y1="845.8" x2="456.85" y2="882.7" stroke="#a8a4c2" stroke-width="5"/>
<line x1="456.85" y1="882.7" x2="451.4" y2="919.6" stroke="#e6e22a" stroke-width="5"/>
<circle cx="339.5" cy="845.8" r="17.4" fill="url(#gSn)"/>
<circle cx="462.3" cy="845.8" r="17.4" fill="url(#gSn)"/>
<circle cx="277.3" cy="929.7" r="17.4" fill="url(#gSn)"/>
<circle cx="400.9" cy="929.7" r="17.4" fill="url(#gSn)"/>
<circle cx="266.4" cy="855.9" r="11.2" fill="url(#gS)"/>
<circle cx="390" cy="855.9" r="11.2" fill="url(#gS)"/>
<circle cx="327.8" cy="919.6" r="11.2" fill="url(#gS)"/>
<circle cx="451.4" cy="919.6" r="11.2" fill="url(#gS)"/>
</svg></body></html>
